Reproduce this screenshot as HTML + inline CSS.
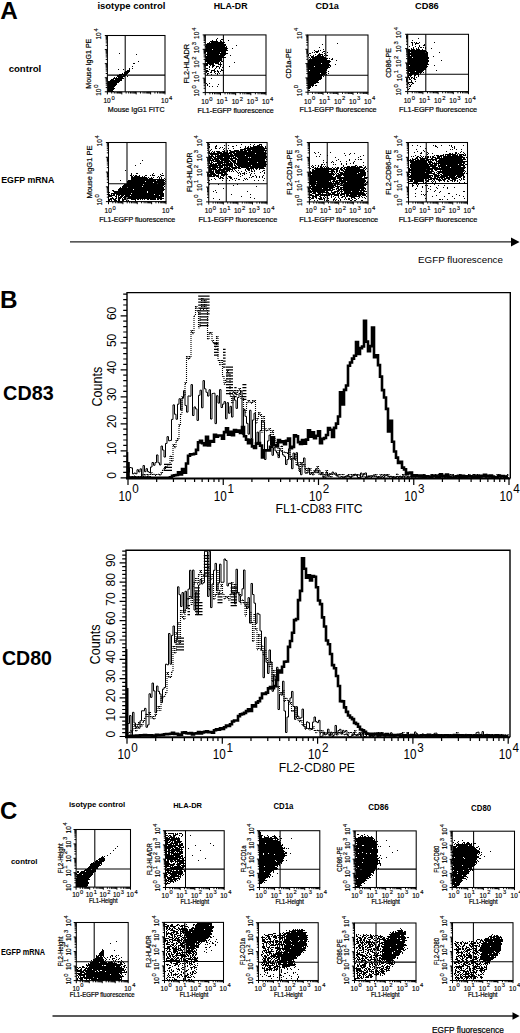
<!DOCTYPE html>
<html><head><meta charset="utf-8"><style>
html,body{margin:0;padding:0;background:#fff;}
svg{display:block;font-family:"Liberation Sans",sans-serif;}
</style></head><body>
<svg width="520" height="1033" viewBox="0 0 520 1033">
<rect width="520" height="1033" fill="#fff"/>
<text x="0.3" y="18.75" font-size="24.3" font-weight="bold">A</text>
<text x="97.4" y="8.5" font-size="9.7" font-weight="bold" textLength="68" lengthAdjust="spacingAndGlyphs">isotype control</text>
<text x="213.75" y="8.7" font-size="9.7" font-weight="bold" textLength="33.75" lengthAdjust="spacingAndGlyphs">HLA-DR</text>
<text x="315.5" y="8.7" font-size="9.7" font-weight="bold" textLength="23.25" lengthAdjust="spacingAndGlyphs">CD1a</text>
<text x="415" y="8.7" font-size="9.7" font-weight="bold" textLength="23.75" lengthAdjust="spacingAndGlyphs">CD86</text>
<text x="8.65" y="72.1" font-size="9.7" font-weight="bold" textLength="32.6" lengthAdjust="spacingAndGlyphs">control</text>
<text x="1.25" y="182.5" font-size="9.5" font-weight="bold" textLength="53" lengthAdjust="spacingAndGlyphs">EGFP mRNA</text>
<path d="M119 53h1v1h-1zM136 54h1v1h-1zM138 61h1v1h-1zM133 63h2v1h-2zM132 66h1v1h-1zM129 68h1v1h-1zM132 68h1v1h-1zM118 69h1v1h-1zM123 69h1v1h-1zM129 69h1v1h-1zM127 70h3v1h-3zM125 71h5v1h-5zM124 72h5v1h-5zM122 73h1v1h-1zM124 73h4v1h-4zM119 74h8v1h-8zM117 75h5v1h-5zM123 75h3v1h-3zM117 76h8v1h-8zM127 76h1v1h-1zM114 77h1v1h-1zM116 77h1v1h-1zM118 77h5v1h-5zM113 78h11v1h-11zM111 79h3v1h-3zM115 79h7v1h-7zM110 80h12v1h-12zM108 81h12v1h-12zM108 82h11v1h-11zM108 83h9v1h-9zM108 84h9v1h-9zM108 85h8v1h-8zM108 86h7v1h-7zM108 87h6v1h-6zM108 88h7v1h-7zM108 89h6v1h-6zM108 90h5v1h-5zM108 91h6v1h-6z" fill="#000"/>
<rect x="107.4" y="35.5" width="57.6" height="56.3" fill="none" stroke="#000" stroke-width="1.05"/>
<line x1="125.2" y1="35.5" x2="125.2" y2="91.8" stroke="#000" stroke-width="1.05" />
<line x1="107.4" y1="75.1" x2="165" y2="75.1" stroke="#000" stroke-width="1.05" />
<path d="M107.4 91.8v2.6M111.73 91.8v1.7M114.27 91.8v1.7M116.07 91.8v1.7M117.47 91.8v1.7M118.61 91.8v1.7M119.57 91.8v1.7M120.4 91.8v1.7M121.14 91.8v1.7M121.8 91.8v2.6M126.13 91.8v1.7M128.67 91.8v1.7M130.47 91.8v1.7M131.87 91.8v1.7M133.01 91.8v1.7M133.97 91.8v1.7M134.8 91.8v1.7M135.54 91.8v1.7M136.2 91.8v2.6M140.53 91.8v1.7M143.07 91.8v1.7M144.87 91.8v1.7M146.27 91.8v1.7M147.41 91.8v1.7M148.37 91.8v1.7M149.2 91.8v1.7M149.94 91.8v1.7M150.6 91.8v2.6M154.93 91.8v1.7M157.47 91.8v1.7M159.27 91.8v1.7M160.67 91.8v1.7M161.81 91.8v1.7M162.77 91.8v1.7M163.6 91.8v1.7M164.34 91.8v1.7M165 91.8v2.6M107.4 91.8h-2.6M107.4 87.56h-1.7M107.4 85.08h-1.7M107.4 83.33h-1.7M107.4 81.96h-1.7M107.4 80.85h-1.7M107.4 79.91h-1.7M107.4 79.09h-1.7M107.4 78.37h-1.7M107.4 77.72h-2.6M107.4 73.49h-1.7M107.4 71.01h-1.7M107.4 69.25h-1.7M107.4 67.89h-1.7M107.4 66.77h-1.7M107.4 65.83h-1.7M107.4 65.01h-1.7M107.4 64.29h-1.7M107.4 63.65h-2.6M107.4 59.41h-1.7M107.4 56.93h-1.7M107.4 55.18h-1.7M107.4 53.81h-1.7M107.4 52.7h-1.7M107.4 51.76h-1.7M107.4 50.94h-1.7M107.4 50.22h-1.7M107.4 49.58h-2.6M107.4 45.34h-1.7M107.4 42.86h-1.7M107.4 41.1h-1.7M107.4 39.74h-1.7M107.4 38.62h-1.7M107.4 37.68h-1.7M107.4 36.86h-1.7M107.4 36.14h-1.7M107.4 35.5h-2.6" stroke="#000" stroke-width="1.0" fill="none"/>
<text x="103.42" y="103.3" font-size="6.5" stroke="#000" stroke-width="0.15">10<tspan dx="0.78" dy="-3.38" font-size="5.85">0</tspan></text>
<text x="161.02" y="103.3" font-size="6.5" stroke="#000" stroke-width="0.15">10<tspan dx="0.78" dy="-3.38" font-size="5.85">4</tspan></text>
<text x="101.2" y="95.78" font-size="6.5" transform="rotate(-90 101.2 95.78)" stroke="#000" stroke-width="0.15">10<tspan dx="0.78" dy="-3.38" font-size="5.85">0</tspan></text>
<text x="101.2" y="39.48" font-size="6.5" transform="rotate(-90 101.2 39.48)" stroke="#000" stroke-width="0.15">10<tspan dx="0.78" dy="-3.38" font-size="5.85">4</tspan></text>
<text x="136.2" y="111.8" font-size="7.5" textLength="56.7" lengthAdjust="spacingAndGlyphs" text-anchor="middle" stroke="#000" stroke-width="0.2">Mouse IgG1 FITC</text>
<text x="90.8" y="63.65" font-size="7.5" textLength="50" lengthAdjust="spacingAndGlyphs" transform="rotate(-90 90.8 63.65)" text-anchor="middle" stroke="#000" stroke-width="0.2">Mouse IgG1 PE</text>
<path d="M217 38h1v1h-1zM216 39h1v1h-1zM221 39h2v1h-2zM212 40h1v1h-1zM216 40h1v1h-1zM220 40h1v1h-1zM228 40h1v1h-1zM210 41h8v1h-8zM220 41h2v1h-2zM209 42h1v1h-1zM211 42h14v1h-14zM207 43h17v1h-17zM206 44h20v1h-20zM206 45h20v1h-20zM236 45h1v1h-1zM205 46h20v1h-20zM226 46h1v1h-1zM206 47h21v1h-21zM206 48h22v1h-22zM232 48h1v1h-1zM205 49h7v1h-7zM213 49h14v1h-14zM205 50h23v1h-23zM205 51h21v1h-21zM205 52h1v1h-1zM207 52h13v1h-13zM221 52h5v1h-5zM207 53h21v1h-21zM206 54h13v1h-13zM220 54h6v1h-6zM205 55h1v1h-1zM207 55h18v1h-18zM230 55h1v1h-1zM205 56h19v1h-19zM205 57h21v1h-21zM206 58h16v1h-16zM205 59h17v1h-17zM205 60h17v1h-17zM223 60h1v1h-1zM205 61h15v1h-15zM221 61h2v1h-2zM207 62h12v1h-12zM220 62h1v1h-1zM234 62h1v1h-1zM205 63h9v1h-9zM215 63h4v1h-4zM220 63h1v1h-1zM206 64h2v1h-2zM209 64h5v1h-5zM218 64h4v1h-4zM205 65h3v1h-3zM210 65h1v1h-1zM212 65h3v1h-3zM220 65h1v1h-1zM223 65h1v1h-1zM209 66h1v1h-1zM212 66h2v1h-2zM216 66h3v1h-3zM220 66h1v1h-1zM223 66h1v1h-1zM229 66h1v1h-1zM209 67h1v1h-1zM212 67h1v1h-1zM216 67h1v1h-1zM219 67h1v1h-1zM222 67h1v1h-1zM206 68h2v1h-2zM215 68h1v1h-1zM219 68h1v1h-1zM209 69h1v1h-1zM214 69h1v1h-1zM221 69h1v1h-1zM206 70h2v1h-2zM211 70h4v1h-4zM217 70h1v1h-1zM221 70h3v1h-3zM206 71h3v1h-3zM211 71h1v1h-1zM214 71h2v1h-2zM217 71h2v1h-2zM220 71h1v1h-1zM206 72h1v1h-1zM210 72h2v1h-2zM214 72h1v1h-1zM218 72h1v1h-1zM223 72h1v1h-1zM207 73h2v1h-2zM215 73h1v1h-1zM217 73h1v1h-1zM219 73h1v1h-1zM207 74h1v1h-1zM211 74h1v1h-1zM217 74h1v1h-1zM211 78h1v1h-1zM206 83h1v1h-1zM209 83h1v1h-1zM207 84h1v1h-1zM218 84h1v1h-1zM207 85h1v1h-1zM209 86h1v1h-1zM212 86h1v1h-1zM217 86h1v1h-1z" fill="#000"/>
<rect x="205.3" y="34.9" width="60.7" height="57.7" fill="none" stroke="#000" stroke-width="1.05"/>
<line x1="223.4" y1="34.9" x2="223.4" y2="92.6" stroke="#000" stroke-width="1.05" />
<line x1="205.3" y1="75.3" x2="266" y2="75.3" stroke="#000" stroke-width="1.05" />
<path d="M205.3 92.6v2.6M209.87 92.6v1.7M212.54 92.6v1.7M214.44 92.6v1.7M215.91 92.6v1.7M217.11 92.6v1.7M218.12 92.6v1.7M219 92.6v1.7M219.78 92.6v1.7M220.48 92.6v2.6M225.04 92.6v1.7M227.72 92.6v1.7M229.61 92.6v1.7M231.08 92.6v1.7M232.28 92.6v1.7M233.3 92.6v1.7M234.18 92.6v1.7M234.96 92.6v1.7M235.65 92.6v2.6M240.22 92.6v1.7M242.89 92.6v1.7M244.79 92.6v1.7M246.26 92.6v1.7M247.46 92.6v1.7M248.47 92.6v1.7M249.35 92.6v1.7M250.13 92.6v1.7M250.82 92.6v2.6M255.39 92.6v1.7M258.07 92.6v1.7M259.96 92.6v1.7M261.43 92.6v1.7M262.63 92.6v1.7M263.65 92.6v1.7M264.53 92.6v1.7M265.31 92.6v1.7M266 92.6v2.6M205.3 92.6h-2.6M205.3 88.26h-1.7M205.3 85.72h-1.7M205.3 83.92h-1.7M205.3 82.52h-1.7M205.3 81.38h-1.7M205.3 80.41h-1.7M205.3 79.57h-1.7M205.3 78.84h-1.7M205.3 78.17h-2.6M205.3 73.83h-1.7M205.3 71.29h-1.7M205.3 69.49h-1.7M205.3 68.09h-1.7M205.3 66.95h-1.7M205.3 65.98h-1.7M205.3 65.15h-1.7M205.3 64.41h-1.7M205.3 63.75h-2.6M205.3 59.41h-1.7M205.3 56.87h-1.7M205.3 55.07h-1.7M205.3 53.67h-1.7M205.3 52.53h-1.7M205.3 51.56h-1.7M205.3 50.72h-1.7M205.3 49.99h-1.7M205.3 49.32h-2.6M205.3 44.98h-1.7M205.3 42.44h-1.7M205.3 40.64h-1.7M205.3 39.24h-1.7M205.3 38.1h-1.7M205.3 37.13h-1.7M205.3 36.3h-1.7M205.3 35.56h-1.7M205.3 34.9h-2.6" stroke="#000" stroke-width="1.0" fill="none"/>
<text x="201.32" y="104.1" font-size="6.5" stroke="#000" stroke-width="0.15">10<tspan dx="0.78" dy="-3.38" font-size="5.85">0</tspan></text>
<text x="216.5" y="104.1" font-size="6.5" stroke="#000" stroke-width="0.15">10<tspan dx="0.78" dy="-3.38" font-size="5.85">1</tspan></text>
<text x="231.67" y="104.1" font-size="6.5" stroke="#000" stroke-width="0.15">10<tspan dx="0.78" dy="-3.38" font-size="5.85">2</tspan></text>
<text x="246.85" y="104.1" font-size="6.5" stroke="#000" stroke-width="0.15">10<tspan dx="0.78" dy="-3.38" font-size="5.85">3</tspan></text>
<text x="262.02" y="104.1" font-size="6.5" stroke="#000" stroke-width="0.15">10<tspan dx="0.78" dy="-3.38" font-size="5.85">4</tspan></text>
<text x="199.1" y="96.58" font-size="6.5" transform="rotate(-90 199.1 96.58)" stroke="#000" stroke-width="0.15">10<tspan dx="0.78" dy="-3.38" font-size="5.85">0</tspan></text>
<text x="199.1" y="82.15" font-size="6.5" transform="rotate(-90 199.1 82.15)" stroke="#000" stroke-width="0.15">10<tspan dx="0.78" dy="-3.38" font-size="5.85">1</tspan></text>
<text x="199.1" y="67.73" font-size="6.5" transform="rotate(-90 199.1 67.73)" stroke="#000" stroke-width="0.15">10<tspan dx="0.78" dy="-3.38" font-size="5.85">2</tspan></text>
<text x="199.1" y="53.3" font-size="6.5" transform="rotate(-90 199.1 53.3)" stroke="#000" stroke-width="0.15">10<tspan dx="0.78" dy="-3.38" font-size="5.85">3</tspan></text>
<text x="199.1" y="38.88" font-size="6.5" transform="rotate(-90 199.1 38.88)" stroke="#000" stroke-width="0.15">10<tspan dx="0.78" dy="-3.38" font-size="5.85">4</tspan></text>
<text x="235.65" y="112.6" font-size="7.5" textLength="76.2" lengthAdjust="spacingAndGlyphs" text-anchor="middle" stroke="#000" stroke-width="0.2">FL1-EGFP fluorescence</text>
<text x="188.7" y="63.75" font-size="7.5" textLength="39.6" lengthAdjust="spacingAndGlyphs" transform="rotate(-90 188.7 63.75)" text-anchor="middle" stroke="#000" stroke-width="0.2">FL2-HLADR</text>
<path d="M337 43h1v1h-1zM322 44h1v1h-1zM319 47h1v1h-1zM323 49h1v1h-1zM314 50h1v1h-1zM318 50h1v1h-1zM320 50h1v1h-1zM315 51h4v1h-4zM323 51h2v1h-2zM312 52h1v1h-1zM314 52h1v1h-1zM316 52h2v1h-2zM322 52h1v1h-1zM327 52h1v1h-1zM309 53h2v1h-2zM319 53h1v1h-1zM324 53h1v1h-1zM308 54h1v1h-1zM315 54h1v1h-1zM318 54h5v1h-5zM325 54h1v1h-1zM308 55h1v1h-1zM310 55h1v1h-1zM313 55h1v1h-1zM317 55h4v1h-4zM322 55h1v1h-1zM324 55h1v1h-1zM326 55h2v1h-2zM311 56h3v1h-3zM315 56h9v1h-9zM309 57h1v1h-1zM311 57h15v1h-15zM310 58h1v1h-1zM312 58h16v1h-16zM329 58h1v1h-1zM332 58h1v1h-1zM309 59h18v1h-18zM331 59h2v1h-2zM308 60h22v1h-22zM336 60h1v1h-1zM308 61h23v1h-23zM308 62h22v1h-22zM308 63h13v1h-13zM322 63h7v1h-7zM308 64h22v1h-22zM335 64h1v1h-1zM308 65h23v1h-23zM308 66h6v1h-6zM315 66h14v1h-14zM330 66h1v1h-1zM308 67h22v1h-22zM308 68h20v1h-20zM308 69h19v1h-19zM308 70h1v1h-1zM310 70h17v1h-17zM308 71h18v1h-18zM328 71h1v1h-1zM308 72h19v1h-19zM308 73h12v1h-12zM321 73h5v1h-5zM328 73h1v1h-1zM308 74h17v1h-17zM326 74h1v1h-1zM308 75h15v1h-15zM308 76h14v1h-14zM323 76h1v1h-1zM308 77h14v1h-14zM308 78h14v1h-14zM308 79h13v1h-13zM308 80h11v1h-11zM308 81h10v1h-10zM308 82h11v1h-11zM308 83h8v1h-8zM308 84h6v1h-6zM308 85h6v1h-6zM315 85h2v1h-2zM308 86h3v1h-3zM312 86h1v1h-1zM308 87h3v1h-3zM308 88h2v1h-2zM308 90h2v1h-2z" fill="#000"/>
<rect x="308" y="35" width="60" height="57.2" fill="none" stroke="#000" stroke-width="1.05"/>
<line x1="325.8" y1="35" x2="325.8" y2="92.2" stroke="#000" stroke-width="1.05" />
<line x1="308" y1="75.3" x2="368" y2="75.3" stroke="#000" stroke-width="1.05" />
<path d="M308 92.2v2.6M312.52 92.2v1.7M315.16 92.2v1.7M317.03 92.2v1.7M318.48 92.2v1.7M319.67 92.2v1.7M320.68 92.2v1.7M321.55 92.2v1.7M322.31 92.2v1.7M323 92.2v2.6M327.52 92.2v1.7M330.16 92.2v1.7M332.03 92.2v1.7M333.48 92.2v1.7M334.67 92.2v1.7M335.68 92.2v1.7M336.55 92.2v1.7M337.31 92.2v1.7M338 92.2v2.6M342.52 92.2v1.7M345.16 92.2v1.7M347.03 92.2v1.7M348.48 92.2v1.7M349.67 92.2v1.7M350.68 92.2v1.7M351.55 92.2v1.7M352.31 92.2v1.7M353 92.2v2.6M357.52 92.2v1.7M360.16 92.2v1.7M362.03 92.2v1.7M363.48 92.2v1.7M364.67 92.2v1.7M365.68 92.2v1.7M366.55 92.2v1.7M367.31 92.2v1.7M368 92.2v2.6M308 92.2h-2.6M308 87.9h-1.7M308 85.38h-1.7M308 83.59h-1.7M308 82.2h-1.7M308 81.07h-1.7M308 80.12h-1.7M308 79.29h-1.7M308 78.55h-1.7M308 77.9h-2.6M308 73.6h-1.7M308 71.08h-1.7M308 69.29h-1.7M308 67.9h-1.7M308 66.77h-1.7M308 65.82h-1.7M308 64.99h-1.7M308 64.25h-1.7M308 63.6h-2.6M308 59.3h-1.7M308 56.78h-1.7M308 54.99h-1.7M308 53.6h-1.7M308 52.47h-1.7M308 51.52h-1.7M308 50.69h-1.7M308 49.95h-1.7M308 49.3h-2.6M308 45h-1.7M308 42.48h-1.7M308 40.69h-1.7M308 39.3h-1.7M308 38.17h-1.7M308 37.22h-1.7M308 36.39h-1.7M308 35.65h-1.7M308 35h-2.6" stroke="#000" stroke-width="1.0" fill="none"/>
<text x="304.02" y="103.7" font-size="6.5" stroke="#000" stroke-width="0.15">10<tspan dx="0.78" dy="-3.38" font-size="5.85">0</tspan></text>
<text x="319.02" y="103.7" font-size="6.5" stroke="#000" stroke-width="0.15">10<tspan dx="0.78" dy="-3.38" font-size="5.85">1</tspan></text>
<text x="334.02" y="103.7" font-size="6.5" stroke="#000" stroke-width="0.15">10<tspan dx="0.78" dy="-3.38" font-size="5.85">2</tspan></text>
<text x="349.02" y="103.7" font-size="6.5" stroke="#000" stroke-width="0.15">10<tspan dx="0.78" dy="-3.38" font-size="5.85">3</tspan></text>
<text x="364.02" y="103.7" font-size="6.5" stroke="#000" stroke-width="0.15">10<tspan dx="0.78" dy="-3.38" font-size="5.85">4</tspan></text>
<text x="301.8" y="96.18" font-size="6.5" transform="rotate(-90 301.8 96.18)" stroke="#000" stroke-width="0.15">10<tspan dx="0.78" dy="-3.38" font-size="5.85">0</tspan></text>
<text x="301.8" y="38.98" font-size="6.5" transform="rotate(-90 301.8 38.98)" stroke="#000" stroke-width="0.15">10<tspan dx="0.78" dy="-3.38" font-size="5.85">4</tspan></text>
<text x="338" y="112.2" font-size="7.5" textLength="77" lengthAdjust="spacingAndGlyphs" text-anchor="middle" stroke="#000" stroke-width="0.2">FL1-EGFP fluorescence</text>
<text x="291.4" y="63.6" font-size="7.5" textLength="30" lengthAdjust="spacingAndGlyphs" transform="rotate(-90 291.4 63.6)" text-anchor="middle" stroke="#000" stroke-width="0.2">CD1a-PE</text>
<path d="M418 38h1v1h-1zM412 40h1v1h-1zM411 42h2v1h-2zM414 42h1v1h-1zM416 42h1v1h-1zM419 42h1v1h-1zM434 42h1v1h-1zM412 43h1v1h-1zM415 43h4v1h-4zM412 44h1v1h-1zM415 44h1v1h-1zM424 44h1v1h-1zM412 45h1v1h-1zM419 45h1v1h-1zM423 45h2v1h-2zM409 46h1v1h-1zM415 46h1v1h-1zM419 46h1v1h-1zM413 47h1v1h-1zM418 47h1v1h-1zM420 47h2v1h-2zM423 47h1v1h-1zM425 47h1v1h-1zM411 48h1v1h-1zM413 48h1v1h-1zM416 48h1v1h-1zM418 48h1v1h-1zM425 48h1v1h-1zM431 48h1v1h-1zM408 49h2v1h-2zM411 49h4v1h-4zM416 49h4v1h-4zM422 49h1v1h-1zM408 50h18v1h-18zM408 51h19v1h-19zM408 52h2v1h-2zM411 52h14v1h-14zM426 52h2v1h-2zM439 52h1v1h-1zM408 53h20v1h-20zM408 54h20v1h-20zM408 55h2v1h-2zM411 55h17v1h-17zM408 56h20v1h-20zM433 56h1v1h-1zM408 57h4v1h-4zM413 57h16v1h-16zM408 58h21v1h-21zM408 59h20v1h-20zM408 60h21v1h-21zM441 60h1v1h-1zM408 61h21v1h-21zM408 62h20v1h-20zM408 63h20v1h-20zM408 64h21v1h-21zM408 65h1v1h-1zM410 65h17v1h-17zM434 65h1v1h-1zM408 66h20v1h-20zM408 67h19v1h-19zM408 68h18v1h-18zM408 69h18v1h-18zM408 70h16v1h-16zM436 70h1v1h-1zM408 71h7v1h-7zM416 71h7v1h-7zM408 72h1v1h-1zM410 72h12v1h-12zM423 72h1v1h-1zM408 73h11v1h-11zM420 73h1v1h-1zM409 74h4v1h-4zM414 74h5v1h-5zM408 75h4v1h-4zM414 75h2v1h-2zM418 75h1v1h-1zM408 76h1v1h-1zM410 76h1v1h-1zM414 76h1v1h-1zM418 76h1v1h-1zM408 77h2v1h-2zM411 77h2v1h-2zM414 77h1v1h-1zM416 77h1v1h-1zM409 78h1v1h-1zM411 78h1v1h-1zM413 78h2v1h-2zM409 79h2v1h-2zM414 79h2v1h-2zM411 80h1v1h-1zM411 81h1v1h-1zM415 81h1v1h-1zM408 82h5v1h-5zM408 83h1v1h-1zM412 83h2v1h-2zM409 84h1v1h-1zM411 84h1v1h-1zM410 85h1v1h-1zM409 86h2v1h-2zM409 88h1v1h-1zM408 89h1v1h-1z" fill="#000"/>
<rect x="407.7" y="34.3" width="60.8" height="57.3" fill="none" stroke="#000" stroke-width="1.05"/>
<line x1="425.8" y1="34.3" x2="425.8" y2="91.6" stroke="#000" stroke-width="1.05" />
<line x1="407.7" y1="74.3" x2="468.5" y2="74.3" stroke="#000" stroke-width="1.05" />
<path d="M407.7 91.6v2.6M412.28 91.6v1.7M414.95 91.6v1.7M416.85 91.6v1.7M418.32 91.6v1.7M419.53 91.6v1.7M420.55 91.6v1.7M421.43 91.6v1.7M422.2 91.6v1.7M422.9 91.6v2.6M427.48 91.6v1.7M430.15 91.6v1.7M432.05 91.6v1.7M433.52 91.6v1.7M434.73 91.6v1.7M435.75 91.6v1.7M436.63 91.6v1.7M437.4 91.6v1.7M438.1 91.6v2.6M442.68 91.6v1.7M445.35 91.6v1.7M447.25 91.6v1.7M448.72 91.6v1.7M449.93 91.6v1.7M450.95 91.6v1.7M451.83 91.6v1.7M452.6 91.6v1.7M453.3 91.6v2.6M457.88 91.6v1.7M460.55 91.6v1.7M462.45 91.6v1.7M463.92 91.6v1.7M465.13 91.6v1.7M466.15 91.6v1.7M467.03 91.6v1.7M467.8 91.6v1.7M468.5 91.6v2.6M407.7 91.6h-2.6M407.7 87.29h-1.7M407.7 84.77h-1.7M407.7 82.98h-1.7M407.7 81.59h-1.7M407.7 80.45h-1.7M407.7 79.49h-1.7M407.7 78.66h-1.7M407.7 77.93h-1.7M407.7 77.27h-2.6M407.7 72.96h-1.7M407.7 70.44h-1.7M407.7 68.65h-1.7M407.7 67.26h-1.7M407.7 66.13h-1.7M407.7 65.17h-1.7M407.7 64.34h-1.7M407.7 63.61h-1.7M407.7 62.95h-2.6M407.7 58.64h-1.7M407.7 56.12h-1.7M407.7 54.33h-1.7M407.7 52.94h-1.7M407.7 51.8h-1.7M407.7 50.84h-1.7M407.7 50.01h-1.7M407.7 49.28h-1.7M407.7 48.62h-2.6M407.7 44.31h-1.7M407.7 41.79h-1.7M407.7 40h-1.7M407.7 38.61h-1.7M407.7 37.48h-1.7M407.7 36.52h-1.7M407.7 35.69h-1.7M407.7 34.96h-1.7M407.7 34.3h-2.6" stroke="#000" stroke-width="1.0" fill="none"/>
<text x="403.72" y="103.1" font-size="6.5" stroke="#000" stroke-width="0.15">10<tspan dx="0.78" dy="-3.38" font-size="5.85">0</tspan></text>
<text x="418.92" y="103.1" font-size="6.5" stroke="#000" stroke-width="0.15">10<tspan dx="0.78" dy="-3.38" font-size="5.85">1</tspan></text>
<text x="434.12" y="103.1" font-size="6.5" stroke="#000" stroke-width="0.15">10<tspan dx="0.78" dy="-3.38" font-size="5.85">2</tspan></text>
<text x="449.32" y="103.1" font-size="6.5" stroke="#000" stroke-width="0.15">10<tspan dx="0.78" dy="-3.38" font-size="5.85">3</tspan></text>
<text x="464.52" y="103.1" font-size="6.5" stroke="#000" stroke-width="0.15">10<tspan dx="0.78" dy="-3.38" font-size="5.85">4</tspan></text>
<text x="401.5" y="95.58" font-size="6.5" transform="rotate(-90 401.5 95.58)" stroke="#000" stroke-width="0.15">10<tspan dx="0.78" dy="-3.38" font-size="5.85">0</tspan></text>
<text x="401.5" y="81.25" font-size="6.5" transform="rotate(-90 401.5 81.25)" stroke="#000" stroke-width="0.15">10<tspan dx="0.78" dy="-3.38" font-size="5.85">1</tspan></text>
<text x="401.5" y="66.93" font-size="6.5" transform="rotate(-90 401.5 66.93)" stroke="#000" stroke-width="0.15">10<tspan dx="0.78" dy="-3.38" font-size="5.85">2</tspan></text>
<text x="401.5" y="52.6" font-size="6.5" transform="rotate(-90 401.5 52.6)" stroke="#000" stroke-width="0.15">10<tspan dx="0.78" dy="-3.38" font-size="5.85">3</tspan></text>
<text x="401.5" y="38.28" font-size="6.5" transform="rotate(-90 401.5 38.28)" stroke="#000" stroke-width="0.15">10<tspan dx="0.78" dy="-3.38" font-size="5.85">4</tspan></text>
<text x="438.1" y="111.6" font-size="7.5" textLength="78" lengthAdjust="spacingAndGlyphs" text-anchor="middle" stroke="#000" stroke-width="0.2">FL1-EGFP fluorescence</text>
<text x="391.1" y="62.95" font-size="7.5" textLength="29.5" lengthAdjust="spacingAndGlyphs" transform="rotate(-90 391.1 62.95)" text-anchor="middle" stroke="#000" stroke-width="0.2">CD86-PE</text>
<path d="M142 160h1v1h-1zM140 163h1v1h-1zM135 165h1v1h-1zM125 170h1v1h-1zM131 173h1v1h-1zM136 173h2v1h-2zM153 173h1v1h-1zM162 173h1v1h-1zM131 174h1v1h-1zM152 174h1v1h-1zM160 174h1v1h-1zM130 175h2v1h-2zM133 175h1v1h-1zM135 175h2v1h-2zM139 175h1v1h-1zM145 175h2v1h-2zM150 175h1v1h-1zM152 175h3v1h-3zM161 175h3v1h-3zM131 176h2v1h-2zM134 176h6v1h-6zM142 176h1v1h-1zM144 176h1v1h-1zM158 176h1v1h-1zM160 176h1v1h-1zM131 177h16v1h-16zM148 177h1v1h-1zM151 177h1v1h-1zM153 177h1v1h-1zM157 177h1v1h-1zM159 177h1v1h-1zM161 177h1v1h-1zM131 178h17v1h-17zM149 178h4v1h-4zM159 178h1v1h-1zM161 178h1v1h-1zM164 178h1v1h-1zM131 179h33v1h-33zM165 179h1v1h-1zM120 180h1v1h-1zM128 180h28v1h-28zM157 180h8v1h-8zM127 181h18v1h-18zM146 181h18v1h-18zM165 181h1v1h-1zM127 182h26v1h-26zM154 182h11v1h-11zM127 183h30v1h-30zM158 183h6v1h-6zM124 184h19v1h-19zM144 184h21v1h-21zM123 185h41v1h-41zM122 186h20v1h-20zM143 186h20v1h-20zM164 186h1v1h-1zM120 187h1v1h-1zM122 187h5v1h-5zM128 187h36v1h-36zM119 188h45v1h-45zM118 189h15v1h-15zM134 189h31v1h-31zM112 190h2v1h-2zM118 190h46v1h-46zM113 191h34v1h-34zM148 191h15v1h-15zM109 192h1v1h-1zM114 192h33v1h-33zM148 192h15v1h-15zM111 193h20v1h-20zM132 193h32v1h-32zM109 194h1v1h-1zM111 194h1v1h-1zM113 194h2v1h-2zM116 194h38v1h-38zM155 194h9v1h-9zM109 195h6v1h-6zM116 195h1v1h-1zM118 195h2v1h-2zM121 195h3v1h-3zM125 195h5v1h-5zM131 195h28v1h-28zM160 195h4v1h-4zM109 196h3v1h-3zM115 196h2v1h-2zM118 196h1v1h-1zM120 196h3v1h-3zM124 196h40v1h-40zM112 197h1v1h-1zM116 197h1v1h-1zM118 197h4v1h-4zM123 197h3v1h-3zM128 197h34v1h-34zM110 198h4v1h-4zM115 198h2v1h-2zM118 198h3v1h-3zM122 198h1v1h-1zM124 198h2v1h-2zM127 198h29v1h-29zM157 198h7v1h-7zM109 199h3v1h-3zM113 199h3v1h-3zM118 199h2v1h-2zM122 199h4v1h-4zM131 199h5v1h-5zM137 199h2v1h-2zM140 199h1v1h-1zM142 199h1v1h-1zM144 199h1v1h-1zM147 199h2v1h-2zM150 199h6v1h-6zM157 199h2v1h-2zM160 199h2v1h-2zM109 200h1v1h-1zM111 200h1v1h-1zM114 200h3v1h-3zM118 200h2v1h-2zM122 200h2v1h-2zM126 200h1v1h-1zM128 200h1v1h-1zM135 200h1v1h-1zM110 201h1v1h-1zM118 201h2v1h-2zM121 201h1v1h-1zM129 201h1v1h-1z" fill="#000"/>
<rect x="108.5" y="142.5" width="57.5" height="59.1" fill="none" stroke="#000" stroke-width="1.05"/>
<line x1="127" y1="142.5" x2="127" y2="201.6" stroke="#000" stroke-width="1.05" />
<line x1="108.5" y1="183.75" x2="166" y2="183.75" stroke="#000" stroke-width="1.05" />
<path d="M108.5 201.6v2.6M112.83 201.6v1.7M115.36 201.6v1.7M117.15 201.6v1.7M118.55 201.6v1.7M119.69 201.6v1.7M120.65 201.6v1.7M121.48 201.6v1.7M122.22 201.6v1.7M122.88 201.6v2.6M127.2 201.6v1.7M129.73 201.6v1.7M131.53 201.6v1.7M132.92 201.6v1.7M134.06 201.6v1.7M135.02 201.6v1.7M135.86 201.6v1.7M136.59 201.6v1.7M137.25 201.6v2.6M141.58 201.6v1.7M144.11 201.6v1.7M145.9 201.6v1.7M147.3 201.6v1.7M148.44 201.6v1.7M149.4 201.6v1.7M150.23 201.6v1.7M150.97 201.6v1.7M151.62 201.6v2.6M155.95 201.6v1.7M158.48 201.6v1.7M160.28 201.6v1.7M161.67 201.6v1.7M162.81 201.6v1.7M163.77 201.6v1.7M164.61 201.6v1.7M165.34 201.6v1.7M166 201.6v2.6M108.5 201.6h-2.6M108.5 197.15h-1.7M108.5 194.55h-1.7M108.5 192.7h-1.7M108.5 191.27h-1.7M108.5 190.1h-1.7M108.5 189.11h-1.7M108.5 188.26h-1.7M108.5 187.5h-1.7M108.5 186.82h-2.6M108.5 182.38h-1.7M108.5 179.78h-1.7M108.5 177.93h-1.7M108.5 176.5h-1.7M108.5 175.33h-1.7M108.5 174.34h-1.7M108.5 173.48h-1.7M108.5 172.73h-1.7M108.5 172.05h-2.6M108.5 167.6h-1.7M108.5 165h-1.7M108.5 163.15h-1.7M108.5 161.72h-1.7M108.5 160.55h-1.7M108.5 159.56h-1.7M108.5 158.71h-1.7M108.5 157.95h-1.7M108.5 157.28h-2.6M108.5 152.83h-1.7M108.5 150.23h-1.7M108.5 148.38h-1.7M108.5 146.95h-1.7M108.5 145.78h-1.7M108.5 144.79h-1.7M108.5 143.93h-1.7M108.5 143.18h-1.7M108.5 142.5h-2.6" stroke="#000" stroke-width="1.0" fill="none"/>
<text x="104.52" y="213.1" font-size="6.5" stroke="#000" stroke-width="0.15">10<tspan dx="0.78" dy="-3.38" font-size="5.85">0</tspan></text>
<text x="162.02" y="213.1" font-size="6.5" stroke="#000" stroke-width="0.15">10<tspan dx="0.78" dy="-3.38" font-size="5.85">4</tspan></text>
<text x="102.3" y="205.58" font-size="6.5" transform="rotate(-90 102.3 205.58)" stroke="#000" stroke-width="0.15">10<tspan dx="0.78" dy="-3.38" font-size="5.85">0</tspan></text>
<text x="102.3" y="146.48" font-size="6.5" transform="rotate(-90 102.3 146.48)" stroke="#000" stroke-width="0.15">10<tspan dx="0.78" dy="-3.38" font-size="5.85">4</tspan></text>
<text x="137.25" y="221.6" font-size="7.5" textLength="76" lengthAdjust="spacingAndGlyphs" text-anchor="middle" stroke="#000" stroke-width="0.2">FL1-EGFP fluorescence</text>
<text x="91.9" y="172.05" font-size="7.5" textLength="53" lengthAdjust="spacingAndGlyphs" transform="rotate(-90 91.9 172.05)" text-anchor="middle" stroke="#000" stroke-width="0.2">Mouse IgG1 PE</text>
<path d="M209 144h1v1h-1zM241 144h1v1h-1zM250 144h1v1h-1zM254 144h1v1h-1zM259 144h3v1h-3zM216 145h1v1h-1zM224 145h1v1h-1zM228 145h1v1h-1zM236 145h1v1h-1zM253 145h1v1h-1zM257 145h3v1h-3zM261 145h1v1h-1zM209 146h1v1h-1zM215 146h2v1h-2zM232 146h2v1h-2zM245 146h1v1h-1zM248 146h1v1h-1zM250 146h1v1h-1zM253 146h10v1h-10zM265 146h1v1h-1zM209 147h1v1h-1zM215 147h1v1h-1zM220 147h1v1h-1zM222 147h1v1h-1zM240 147h1v1h-1zM245 147h1v1h-1zM247 147h2v1h-2zM250 147h14v1h-14zM265 147h1v1h-1zM215 148h2v1h-2zM219 148h1v1h-1zM224 148h1v1h-1zM228 148h1v1h-1zM233 148h1v1h-1zM244 148h23v1h-23zM211 149h1v1h-1zM223 149h1v1h-1zM240 149h6v1h-6zM247 149h18v1h-18zM210 150h1v1h-1zM224 150h1v1h-1zM227 150h1v1h-1zM229 150h2v1h-2zM234 150h5v1h-5zM240 150h3v1h-3zM244 150h7v1h-7zM252 150h15v1h-15zM209 151h1v1h-1zM212 151h1v1h-1zM214 151h1v1h-1zM216 151h4v1h-4zM222 151h3v1h-3zM227 151h1v1h-1zM230 151h17v1h-17zM248 151h16v1h-16zM265 151h1v1h-1zM209 152h1v1h-1zM211 152h1v1h-1zM213 152h2v1h-2zM217 152h5v1h-5zM223 152h5v1h-5zM229 152h6v1h-6zM236 152h30v1h-30zM209 153h23v1h-23zM233 153h22v1h-22zM256 153h11v1h-11zM210 154h9v1h-9zM220 154h9v1h-9zM230 154h3v1h-3zM234 154h32v1h-32zM209 155h1v1h-1zM211 155h2v1h-2zM215 155h1v1h-1zM217 155h28v1h-28zM246 155h20v1h-20zM209 156h5v1h-5zM215 156h19v1h-19zM235 156h32v1h-32zM209 157h3v1h-3zM213 157h3v1h-3zM217 157h6v1h-6zM224 157h6v1h-6zM231 157h1v1h-1zM233 157h3v1h-3zM237 157h11v1h-11zM249 157h1v1h-1zM251 157h16v1h-16zM209 158h4v1h-4zM214 158h23v1h-23zM238 158h28v1h-28zM209 159h2v1h-2zM212 159h7v1h-7zM220 159h9v1h-9zM230 159h3v1h-3zM235 159h30v1h-30zM266 159h1v1h-1zM209 160h5v1h-5zM215 160h5v1h-5zM221 160h9v1h-9zM231 160h5v1h-5zM237 160h28v1h-28zM209 161h1v1h-1zM211 161h1v1h-1zM213 161h10v1h-10zM224 161h7v1h-7zM232 161h4v1h-4zM237 161h11v1h-11zM249 161h18v1h-18zM209 162h1v1h-1zM211 162h2v1h-2zM217 162h12v1h-12zM230 162h2v1h-2zM233 162h3v1h-3zM237 162h20v1h-20zM258 162h8v1h-8zM209 163h3v1h-3zM213 163h1v1h-1zM215 163h8v1h-8zM224 163h1v1h-1zM226 163h7v1h-7zM234 163h32v1h-32zM210 164h7v1h-7zM218 164h3v1h-3zM222 164h11v1h-11zM234 164h1v1h-1zM236 164h31v1h-31zM209 165h24v1h-24zM234 165h2v1h-2zM237 165h14v1h-14zM252 165h14v1h-14zM209 166h9v1h-9zM219 166h4v1h-4zM224 166h1v1h-1zM226 166h2v1h-2zM229 166h4v1h-4zM235 166h2v1h-2zM238 166h28v1h-28zM209 167h2v1h-2zM212 167h11v1h-11zM224 167h2v1h-2zM227 167h3v1h-3zM231 167h9v1h-9zM241 167h8v1h-8zM250 167h14v1h-14zM209 168h7v1h-7zM217 168h1v1h-1zM219 168h2v1h-2zM223 168h8v1h-8zM232 168h5v1h-5zM238 168h3v1h-3zM246 168h8v1h-8zM255 168h3v1h-3zM259 168h6v1h-6zM209 169h8v1h-8zM218 169h15v1h-15zM234 169h1v1h-1zM245 169h1v1h-1zM247 169h3v1h-3zM251 169h1v1h-1zM253 169h1v1h-1zM256 169h1v1h-1zM259 169h1v1h-1zM209 170h3v1h-3zM213 170h1v1h-1zM215 170h10v1h-10zM226 170h4v1h-4zM232 170h1v1h-1zM235 170h1v1h-1zM238 170h1v1h-1zM245 170h1v1h-1zM248 170h2v1h-2zM251 170h1v1h-1zM254 170h1v1h-1zM263 170h2v1h-2zM209 171h5v1h-5zM215 171h5v1h-5zM221 171h7v1h-7zM229 171h1v1h-1zM231 171h1v1h-1zM233 171h1v1h-1zM236 171h1v1h-1zM241 171h1v1h-1zM246 171h1v1h-1zM251 171h2v1h-2zM254 171h1v1h-1zM262 171h1v1h-1zM209 172h5v1h-5zM215 172h11v1h-11zM237 172h1v1h-1zM239 172h1v1h-1zM244 172h1v1h-1zM249 172h1v1h-1zM260 172h1v1h-1zM264 172h1v1h-1zM210 173h5v1h-5zM216 173h7v1h-7zM224 173h3v1h-3zM238 173h1v1h-1zM240 173h1v1h-1zM242 173h3v1h-3zM246 173h1v1h-1zM251 173h1v1h-1zM254 173h1v1h-1zM264 173h1v1h-1zM209 174h7v1h-7zM218 174h1v1h-1zM221 174h7v1h-7zM240 174h1v1h-1zM244 174h1v1h-1zM250 174h1v1h-1zM209 175h3v1h-3zM213 175h6v1h-6zM221 175h4v1h-4zM226 175h1v1h-1zM238 175h1v1h-1zM242 175h1v1h-1zM250 175h1v1h-1zM255 175h1v1h-1zM263 175h1v1h-1zM209 176h6v1h-6zM216 176h3v1h-3zM220 176h1v1h-1zM223 176h1v1h-1zM228 176h3v1h-3zM240 176h1v1h-1zM252 176h2v1h-2zM256 176h1v1h-1zM259 176h1v1h-1zM262 176h1v1h-1zM218 177h1v1h-1zM220 177h3v1h-3zM226 177h1v1h-1zM229 177h3v1h-3zM249 177h1v1h-1zM251 177h1v1h-1zM256 177h1v1h-1zM259 177h1v1h-1zM262 177h1v1h-1zM214 178h1v1h-1zM219 178h2v1h-2zM222 178h2v1h-2zM227 178h1v1h-1zM230 178h2v1h-2zM234 178h1v1h-1zM236 178h1v1h-1zM244 178h1v1h-1zM246 178h1v1h-1zM264 178h1v1h-1zM211 179h1v1h-1zM215 179h1v1h-1zM232 179h1v1h-1zM238 179h2v1h-2zM245 179h1v1h-1zM247 179h1v1h-1zM209 180h1v1h-1zM222 180h1v1h-1zM226 180h1v1h-1zM229 180h1v1h-1zM235 180h1v1h-1zM243 180h1v1h-1zM254 180h1v1h-1zM258 180h1v1h-1zM263 180h1v1h-1zM209 184h1v1h-1zM218 184h1v1h-1zM237 184h1v1h-1zM233 185h1v1h-1zM256 186h1v1h-1zM223 188h1v1h-1zM215 190h1v1h-1zM213 191h1v1h-1zM247 191h1v1h-1zM216 192h1v1h-1zM231 194h1v1h-1zM250 194h1v1h-1zM241 196h1v1h-1zM250 197h1v1h-1zM213 198h1v1h-1zM254 198h1v1h-1zM219 199h1v1h-1z" fill="#000"/>
<rect x="208.75" y="142.5" width="58.35" height="59.4" fill="none" stroke="#000" stroke-width="1.05"/>
<line x1="226.25" y1="142.5" x2="226.25" y2="201.9" stroke="#000" stroke-width="1.05" />
<line x1="208.75" y1="183.75" x2="267.1" y2="183.75" stroke="#000" stroke-width="1.05" />
<path d="M208.75 201.9v2.6M213.14 201.9v1.7M215.71 201.9v1.7M217.53 201.9v1.7M218.95 201.9v1.7M220.1 201.9v1.7M221.08 201.9v1.7M221.92 201.9v1.7M222.67 201.9v1.7M223.34 201.9v2.6M227.73 201.9v1.7M230.3 201.9v1.7M232.12 201.9v1.7M233.53 201.9v1.7M234.69 201.9v1.7M235.67 201.9v1.7M236.51 201.9v1.7M237.26 201.9v1.7M237.93 201.9v2.6M242.32 201.9v1.7M244.89 201.9v1.7M246.71 201.9v1.7M248.12 201.9v1.7M249.28 201.9v1.7M250.25 201.9v1.7M251.1 201.9v1.7M251.85 201.9v1.7M252.51 201.9v2.6M256.9 201.9v1.7M259.47 201.9v1.7M261.3 201.9v1.7M262.71 201.9v1.7M263.86 201.9v1.7M264.84 201.9v1.7M265.69 201.9v1.7M266.43 201.9v1.7M267.1 201.9v2.6M208.75 201.9h-2.6M208.75 197.43h-1.7M208.75 194.81h-1.7M208.75 192.96h-1.7M208.75 191.52h-1.7M208.75 190.34h-1.7M208.75 189.35h-1.7M208.75 188.49h-1.7M208.75 187.73h-1.7M208.75 187.05h-2.6M208.75 182.58h-1.7M208.75 179.96h-1.7M208.75 178.11h-1.7M208.75 176.67h-1.7M208.75 175.49h-1.7M208.75 174.5h-1.7M208.75 173.64h-1.7M208.75 172.88h-1.7M208.75 172.2h-2.6M208.75 167.73h-1.7M208.75 165.11h-1.7M208.75 163.26h-1.7M208.75 161.82h-1.7M208.75 160.64h-1.7M208.75 159.65h-1.7M208.75 158.79h-1.7M208.75 158.03h-1.7M208.75 157.35h-2.6M208.75 152.88h-1.7M208.75 150.26h-1.7M208.75 148.41h-1.7M208.75 146.97h-1.7M208.75 145.79h-1.7M208.75 144.8h-1.7M208.75 143.94h-1.7M208.75 143.18h-1.7M208.75 142.5h-2.6" stroke="#000" stroke-width="1.0" fill="none"/>
<text x="204.77" y="213.4" font-size="6.5" stroke="#000" stroke-width="0.15">10<tspan dx="0.78" dy="-3.38" font-size="5.85">0</tspan></text>
<text x="219.36" y="213.4" font-size="6.5" stroke="#000" stroke-width="0.15">10<tspan dx="0.78" dy="-3.38" font-size="5.85">1</tspan></text>
<text x="233.95" y="213.4" font-size="6.5" stroke="#000" stroke-width="0.15">10<tspan dx="0.78" dy="-3.38" font-size="5.85">2</tspan></text>
<text x="248.54" y="213.4" font-size="6.5" stroke="#000" stroke-width="0.15">10<tspan dx="0.78" dy="-3.38" font-size="5.85">3</tspan></text>
<text x="263.12" y="213.4" font-size="6.5" stroke="#000" stroke-width="0.15">10<tspan dx="0.78" dy="-3.38" font-size="5.85">4</tspan></text>
<text x="201.85" y="205.88" font-size="6.5" transform="rotate(-90 201.85 205.88)" stroke="#000" stroke-width="0.15">10<tspan dx="0.78" dy="-3.38" font-size="5.85">0</tspan></text>
<text x="201.85" y="191.03" font-size="6.5" transform="rotate(-90 201.85 191.03)" stroke="#000" stroke-width="0.15">10<tspan dx="0.78" dy="-3.38" font-size="5.85">1</tspan></text>
<text x="201.85" y="176.18" font-size="6.5" transform="rotate(-90 201.85 176.18)" stroke="#000" stroke-width="0.15">10<tspan dx="0.78" dy="-3.38" font-size="5.85">2</tspan></text>
<text x="201.85" y="161.33" font-size="6.5" transform="rotate(-90 201.85 161.33)" stroke="#000" stroke-width="0.15">10<tspan dx="0.78" dy="-3.38" font-size="5.85">3</tspan></text>
<text x="201.85" y="146.48" font-size="6.5" transform="rotate(-90 201.85 146.48)" stroke="#000" stroke-width="0.15">10<tspan dx="0.78" dy="-3.38" font-size="5.85">4</tspan></text>
<text x="237.93" y="221.9" font-size="7.5" textLength="78.75" lengthAdjust="spacingAndGlyphs" text-anchor="middle" stroke="#000" stroke-width="0.2">FL1-EGFP fluorescence</text>
<text x="191.65" y="172.2" font-size="7.5" textLength="39.6" lengthAdjust="spacingAndGlyphs" transform="rotate(-90 191.65 172.2)" text-anchor="middle" stroke="#000" stroke-width="0.2">FL2-HLA/DR</text>
<path d="M314 152h1v1h-1zM318 152h1v1h-1zM330 152h1v1h-1zM315 153h1v1h-1zM344 153h1v1h-1zM350 153h1v1h-1zM354 153h1v1h-1zM320 154h1v1h-1zM349 154h1v1h-1zM327 155h1v1h-1zM345 155h1v1h-1zM363 155h1v1h-1zM316 156h1v1h-1zM319 156h1v1h-1zM360 156h1v1h-1zM335 157h1v1h-1zM358 157h1v1h-1zM338 159h1v1h-1zM349 159h1v1h-1zM355 159h1v1h-1zM358 159h1v1h-1zM360 159h2v1h-2zM323 160h1v1h-1zM336 160h1v1h-1zM349 160h1v1h-1zM332 161h1v1h-1zM340 161h1v1h-1zM346 161h1v1h-1zM354 161h1v1h-1zM323 162h1v1h-1zM326 162h1v1h-1zM331 162h1v1h-1zM333 162h1v1h-1zM353 162h1v1h-1zM363 162h1v1h-1zM341 163h1v1h-1zM346 163h1v1h-1zM350 163h1v1h-1zM353 163h1v1h-1zM321 164h2v1h-2zM324 164h1v1h-1zM333 164h1v1h-1zM335 164h1v1h-1zM341 164h1v1h-1zM346 164h1v1h-1zM312 165h1v1h-1zM315 165h1v1h-1zM318 165h1v1h-1zM321 165h1v1h-1zM343 165h1v1h-1zM355 165h2v1h-2zM363 165h1v1h-1zM311 166h1v1h-1zM313 166h1v1h-1zM318 166h1v1h-1zM320 166h2v1h-2zM323 166h1v1h-1zM325 166h1v1h-1zM327 166h1v1h-1zM343 166h1v1h-1zM347 166h3v1h-3zM351 166h5v1h-5zM357 166h1v1h-1zM359 166h3v1h-3zM365 166h1v1h-1zM312 167h2v1h-2zM315 167h1v1h-1zM317 167h1v1h-1zM320 167h3v1h-3zM324 167h1v1h-1zM326 167h1v1h-1zM328 167h1v1h-1zM332 167h1v1h-1zM335 167h1v1h-1zM337 167h2v1h-2zM341 167h2v1h-2zM344 167h19v1h-19zM364 167h2v1h-2zM310 168h1v1h-1zM314 168h18v1h-18zM333 168h2v1h-2zM336 168h3v1h-3zM340 168h2v1h-2zM343 168h2v1h-2zM346 168h14v1h-14zM363 168h2v1h-2zM366 168h1v1h-1zM312 169h2v1h-2zM315 169h23v1h-23zM340 169h3v1h-3zM344 169h20v1h-20zM365 169h1v1h-1zM312 170h17v1h-17zM331 170h3v1h-3zM336 170h2v1h-2zM339 170h1v1h-1zM341 170h3v1h-3zM345 170h20v1h-20zM310 171h1v1h-1zM312 171h23v1h-23zM336 171h2v1h-2zM339 171h1v1h-1zM343 171h22v1h-22zM367 171h1v1h-1zM310 172h19v1h-19zM331 172h2v1h-2zM334 172h1v1h-1zM336 172h1v1h-1zM339 172h4v1h-4zM344 172h15v1h-15zM360 172h6v1h-6zM310 173h24v1h-24zM335 173h1v1h-1zM337 173h2v1h-2zM340 173h17v1h-17zM358 173h8v1h-8zM310 174h1v1h-1zM312 174h23v1h-23zM336 174h1v1h-1zM338 174h28v1h-28zM310 175h22v1h-22zM333 175h1v1h-1zM336 175h6v1h-6zM343 175h23v1h-23zM310 176h23v1h-23zM335 176h6v1h-6zM344 176h19v1h-19zM364 176h1v1h-1zM310 177h26v1h-26zM337 177h25v1h-25zM364 177h4v1h-4zM310 178h26v1h-26zM337 178h30v1h-30zM310 179h26v1h-26zM339 179h3v1h-3zM343 179h22v1h-22zM310 180h21v1h-21zM333 180h2v1h-2zM336 180h30v1h-30zM310 181h6v1h-6zM317 181h12v1h-12zM330 181h1v1h-1zM332 181h6v1h-6zM339 181h7v1h-7zM347 181h19v1h-19zM367 181h1v1h-1zM310 182h22v1h-22zM333 182h1v1h-1zM335 182h5v1h-5zM341 182h24v1h-24zM366 182h2v1h-2zM310 183h6v1h-6zM317 183h22v1h-22zM340 183h3v1h-3zM344 183h20v1h-20zM365 183h1v1h-1zM310 184h23v1h-23zM334 184h2v1h-2zM337 184h3v1h-3zM341 184h1v1h-1zM343 184h24v1h-24zM311 185h4v1h-4zM316 185h20v1h-20zM337 185h1v1h-1zM340 185h26v1h-26zM310 186h24v1h-24zM335 186h5v1h-5zM343 186h21v1h-21zM310 187h1v1h-1zM312 187h23v1h-23zM337 187h2v1h-2zM340 187h25v1h-25zM310 188h12v1h-12zM323 188h5v1h-5zM329 188h4v1h-4zM336 188h3v1h-3zM340 188h2v1h-2zM343 188h23v1h-23zM311 189h20v1h-20zM332 189h3v1h-3zM336 189h1v1h-1zM338 189h22v1h-22zM361 189h3v1h-3zM365 189h1v1h-1zM310 190h1v1h-1zM312 190h21v1h-21zM337 190h3v1h-3zM341 190h1v1h-1zM343 190h22v1h-22zM310 191h15v1h-15zM326 191h2v1h-2zM331 191h1v1h-1zM334 191h5v1h-5zM340 191h3v1h-3zM344 191h7v1h-7zM352 191h7v1h-7zM360 191h2v1h-2zM363 191h4v1h-4zM310 192h2v1h-2zM313 192h3v1h-3zM317 192h12v1h-12zM331 192h5v1h-5zM337 192h1v1h-1zM339 192h1v1h-1zM341 192h1v1h-1zM344 192h20v1h-20zM312 193h4v1h-4zM318 193h3v1h-3zM322 193h1v1h-1zM326 193h1v1h-1zM328 193h3v1h-3zM332 193h3v1h-3zM337 193h3v1h-3zM341 193h24v1h-24zM366 193h1v1h-1zM310 194h2v1h-2zM315 194h12v1h-12zM328 194h11v1h-11zM340 194h5v1h-5zM346 194h3v1h-3zM350 194h16v1h-16zM310 195h4v1h-4zM315 195h4v1h-4zM320 195h10v1h-10zM331 195h1v1h-1zM334 195h5v1h-5zM340 195h2v1h-2zM344 195h1v1h-1zM346 195h11v1h-11zM358 195h3v1h-3zM362 195h4v1h-4zM312 196h5v1h-5zM319 196h2v1h-2zM324 196h1v1h-1zM327 196h1v1h-1zM331 196h1v1h-1zM333 196h1v1h-1zM338 196h1v1h-1zM342 196h3v1h-3zM346 196h2v1h-2zM349 196h11v1h-11zM361 196h1v1h-1zM366 196h1v1h-1zM310 197h1v1h-1zM312 197h2v1h-2zM315 197h2v1h-2zM320 197h2v1h-2zM323 197h1v1h-1zM325 197h1v1h-1zM327 197h1v1h-1zM331 197h1v1h-1zM335 197h1v1h-1zM338 197h1v1h-1zM341 197h2v1h-2zM345 197h1v1h-1zM351 197h4v1h-4zM359 197h1v1h-1zM362 197h1v1h-1zM364 197h1v1h-1zM311 198h3v1h-3zM316 198h1v1h-1zM318 198h4v1h-4zM323 198h2v1h-2zM327 198h2v1h-2zM334 198h1v1h-1zM339 198h1v1h-1zM345 198h1v1h-1zM348 198h2v1h-2zM351 198h1v1h-1zM354 198h2v1h-2zM358 198h1v1h-1zM365 198h1v1h-1zM310 199h1v1h-1zM319 199h4v1h-4zM324 199h1v1h-1zM333 199h2v1h-2zM336 199h1v1h-1zM340 199h1v1h-1zM344 199h1v1h-1zM346 199h1v1h-1zM348 199h2v1h-2zM352 199h1v1h-1zM356 199h1v1h-1zM314 200h1v1h-1zM317 200h1v1h-1zM324 200h1v1h-1zM326 200h1v1h-1zM328 200h1v1h-1zM333 200h1v1h-1zM335 200h1v1h-1zM338 200h1v1h-1zM340 200h1v1h-1zM350 200h2v1h-2zM354 200h2v1h-2zM361 200h2v1h-2z" fill="#000"/>
<rect x="309.4" y="142.5" width="58.6" height="59.4" fill="none" stroke="#000" stroke-width="1.05"/>
<line x1="327.25" y1="142.5" x2="327.25" y2="201.9" stroke="#000" stroke-width="1.05" />
<line x1="309.4" y1="184" x2="368" y2="184" stroke="#000" stroke-width="1.05" />
<path d="M309.4 201.9v2.6M313.81 201.9v1.7M316.39 201.9v1.7M318.22 201.9v1.7M319.64 201.9v1.7M320.8 201.9v1.7M321.78 201.9v1.7M322.63 201.9v1.7M323.38 201.9v1.7M324.05 201.9v2.6M328.46 201.9v1.7M331.04 201.9v1.7M332.87 201.9v1.7M334.29 201.9v1.7M335.45 201.9v1.7M336.43 201.9v1.7M337.28 201.9v1.7M338.03 201.9v1.7M338.7 201.9v2.6M343.11 201.9v1.7M345.69 201.9v1.7M347.52 201.9v1.7M348.94 201.9v1.7M350.1 201.9v1.7M351.08 201.9v1.7M351.93 201.9v1.7M352.68 201.9v1.7M353.35 201.9v2.6M357.76 201.9v1.7M360.34 201.9v1.7M362.17 201.9v1.7M363.59 201.9v1.7M364.75 201.9v1.7M365.73 201.9v1.7M366.58 201.9v1.7M367.33 201.9v1.7M368 201.9v2.6M309.4 201.9h-2.6M309.4 197.43h-1.7M309.4 194.81h-1.7M309.4 192.96h-1.7M309.4 191.52h-1.7M309.4 190.34h-1.7M309.4 189.35h-1.7M309.4 188.49h-1.7M309.4 187.73h-1.7M309.4 187.05h-2.6M309.4 182.58h-1.7M309.4 179.96h-1.7M309.4 178.11h-1.7M309.4 176.67h-1.7M309.4 175.49h-1.7M309.4 174.5h-1.7M309.4 173.64h-1.7M309.4 172.88h-1.7M309.4 172.2h-2.6M309.4 167.73h-1.7M309.4 165.11h-1.7M309.4 163.26h-1.7M309.4 161.82h-1.7M309.4 160.64h-1.7M309.4 159.65h-1.7M309.4 158.79h-1.7M309.4 158.03h-1.7M309.4 157.35h-2.6M309.4 152.88h-1.7M309.4 150.26h-1.7M309.4 148.41h-1.7M309.4 146.97h-1.7M309.4 145.79h-1.7M309.4 144.8h-1.7M309.4 143.94h-1.7M309.4 143.18h-1.7M309.4 142.5h-2.6" stroke="#000" stroke-width="1.0" fill="none"/>
<text x="305.42" y="213.4" font-size="6.5" stroke="#000" stroke-width="0.15">10<tspan dx="0.78" dy="-3.38" font-size="5.85">0</tspan></text>
<text x="320.07" y="213.4" font-size="6.5" stroke="#000" stroke-width="0.15">10<tspan dx="0.78" dy="-3.38" font-size="5.85">1</tspan></text>
<text x="334.72" y="213.4" font-size="6.5" stroke="#000" stroke-width="0.15">10<tspan dx="0.78" dy="-3.38" font-size="5.85">2</tspan></text>
<text x="349.37" y="213.4" font-size="6.5" stroke="#000" stroke-width="0.15">10<tspan dx="0.78" dy="-3.38" font-size="5.85">3</tspan></text>
<text x="364.02" y="213.4" font-size="6.5" stroke="#000" stroke-width="0.15">10<tspan dx="0.78" dy="-3.38" font-size="5.85">4</tspan></text>
<text x="302.5" y="205.88" font-size="6.5" transform="rotate(-90 302.5 205.88)" stroke="#000" stroke-width="0.15">10<tspan dx="0.78" dy="-3.38" font-size="5.85">0</tspan></text>
<text x="302.5" y="191.03" font-size="6.5" transform="rotate(-90 302.5 191.03)" stroke="#000" stroke-width="0.15">10<tspan dx="0.78" dy="-3.38" font-size="5.85">1</tspan></text>
<text x="302.5" y="176.18" font-size="6.5" transform="rotate(-90 302.5 176.18)" stroke="#000" stroke-width="0.15">10<tspan dx="0.78" dy="-3.38" font-size="5.85">2</tspan></text>
<text x="302.5" y="161.33" font-size="6.5" transform="rotate(-90 302.5 161.33)" stroke="#000" stroke-width="0.15">10<tspan dx="0.78" dy="-3.38" font-size="5.85">3</tspan></text>
<text x="302.5" y="146.48" font-size="6.5" transform="rotate(-90 302.5 146.48)" stroke="#000" stroke-width="0.15">10<tspan dx="0.78" dy="-3.38" font-size="5.85">4</tspan></text>
<text x="338.7" y="221.9" font-size="7.5" textLength="79" lengthAdjust="spacingAndGlyphs" text-anchor="middle" stroke="#000" stroke-width="0.2">FL1-EGFP fluorescence</text>
<text x="292.3" y="172.2" font-size="7.5" textLength="45" lengthAdjust="spacingAndGlyphs" transform="rotate(-90 292.3 172.2)" text-anchor="middle" stroke="#000" stroke-width="0.2">FL2-CD1a-PE</text>
<path d="M412 145h1v1h-1zM417 145h1v1h-1zM433 145h1v1h-1zM435 145h1v1h-1zM441 145h1v1h-1zM449 145h1v1h-1zM451 145h1v1h-1zM463 145h1v1h-1zM420 146h1v1h-1zM435 146h2v1h-2zM451 146h1v1h-1zM454 146h1v1h-1zM437 147h1v1h-1zM452 147h1v1h-1zM454 147h1v1h-1zM425 148h1v1h-1zM454 148h1v1h-1zM416 149h1v1h-1zM450 149h1v1h-1zM452 149h1v1h-1zM456 149h1v1h-1zM461 149h1v1h-1zM423 150h1v1h-1zM417 151h1v1h-1zM424 151h1v1h-1zM446 151h1v1h-1zM461 151h1v1h-1zM414 152h1v1h-1zM421 152h1v1h-1zM427 152h1v1h-1zM455 152h2v1h-2zM460 152h1v1h-1zM463 152h1v1h-1zM420 153h2v1h-2zM428 153h1v1h-1zM432 153h1v1h-1zM449 153h2v1h-2zM452 153h1v1h-1zM455 153h2v1h-2zM458 153h1v1h-1zM464 153h1v1h-1zM427 154h1v1h-1zM443 154h1v1h-1zM445 154h11v1h-11zM457 154h1v1h-1zM459 154h5v1h-5zM465 154h1v1h-1zM415 155h1v1h-1zM420 155h1v1h-1zM434 155h1v1h-1zM436 155h3v1h-3zM440 155h4v1h-4zM445 155h1v1h-1zM447 155h4v1h-4zM452 155h6v1h-6zM459 155h3v1h-3zM463 155h3v1h-3zM411 156h1v1h-1zM413 156h1v1h-1zM417 156h2v1h-2zM421 156h1v1h-1zM423 156h1v1h-1zM425 156h1v1h-1zM427 156h2v1h-2zM430 156h1v1h-1zM432 156h2v1h-2zM437 156h5v1h-5zM443 156h20v1h-20zM416 157h2v1h-2zM419 157h2v1h-2zM422 157h1v1h-1zM425 157h1v1h-1zM427 157h2v1h-2zM430 157h1v1h-1zM432 157h4v1h-4zM437 157h3v1h-3zM441 157h1v1h-1zM443 157h22v1h-22zM466 157h1v1h-1zM412 158h1v1h-1zM415 158h3v1h-3zM420 158h8v1h-8zM431 158h2v1h-2zM435 158h27v1h-27zM463 158h2v1h-2zM410 159h1v1h-1zM412 159h4v1h-4zM417 159h2v1h-2zM420 159h5v1h-5zM426 159h11v1h-11zM439 159h27v1h-27zM409 160h5v1h-5zM415 160h14v1h-14zM430 160h1v1h-1zM432 160h2v1h-2zM435 160h2v1h-2zM438 160h25v1h-25zM410 161h17v1h-17zM428 161h4v1h-4zM436 161h31v1h-31zM410 162h17v1h-17zM428 162h5v1h-5zM434 162h1v1h-1zM436 162h1v1h-1zM438 162h27v1h-27zM411 163h17v1h-17zM429 163h2v1h-2zM432 163h30v1h-30zM463 163h2v1h-2zM410 164h23v1h-23zM434 164h3v1h-3zM438 164h1v1h-1zM440 164h18v1h-18zM459 164h5v1h-5zM465 164h2v1h-2zM410 165h19v1h-19zM430 165h7v1h-7zM438 165h8v1h-8zM447 165h18v1h-18zM410 166h26v1h-26zM438 166h23v1h-23zM463 166h2v1h-2zM410 167h20v1h-20zM432 167h6v1h-6zM439 167h1v1h-1zM441 167h9v1h-9zM451 167h15v1h-15zM409 168h1v1h-1zM411 168h54v1h-54zM409 169h17v1h-17zM427 169h6v1h-6zM434 169h30v1h-30zM409 170h21v1h-21zM431 170h2v1h-2zM435 170h2v1h-2zM440 170h1v1h-1zM442 170h23v1h-23zM409 171h1v1h-1zM411 171h23v1h-23zM437 171h27v1h-27zM465 171h1v1h-1zM409 172h16v1h-16zM426 172h6v1h-6zM434 172h1v1h-1zM436 172h1v1h-1zM438 172h25v1h-25zM464 172h1v1h-1zM411 173h24v1h-24zM437 173h3v1h-3zM442 173h23v1h-23zM466 173h1v1h-1zM409 174h1v1h-1zM411 174h18v1h-18zM433 174h4v1h-4zM438 174h1v1h-1zM440 174h2v1h-2zM443 174h21v1h-21zM410 175h23v1h-23zM434 175h6v1h-6zM441 175h15v1h-15zM457 175h7v1h-7zM409 176h22v1h-22zM432 176h1v1h-1zM434 176h5v1h-5zM440 176h8v1h-8zM449 176h6v1h-6zM456 176h6v1h-6zM463 176h2v1h-2zM409 177h23v1h-23zM434 177h2v1h-2zM437 177h8v1h-8zM446 177h11v1h-11zM458 177h3v1h-3zM463 177h2v1h-2zM411 178h18v1h-18zM430 178h8v1h-8zM439 178h1v1h-1zM441 178h2v1h-2zM444 178h6v1h-6zM451 178h7v1h-7zM461 178h1v1h-1zM463 178h1v1h-1zM409 179h15v1h-15zM425 179h1v1h-1zM428 179h4v1h-4zM433 179h2v1h-2zM436 179h5v1h-5zM442 179h4v1h-4zM448 179h2v1h-2zM452 179h4v1h-4zM459 179h1v1h-1zM461 179h1v1h-1zM463 179h2v1h-2zM410 180h3v1h-3zM414 180h10v1h-10zM425 180h1v1h-1zM427 180h2v1h-2zM432 180h1v1h-1zM434 180h1v1h-1zM438 180h4v1h-4zM443 180h2v1h-2zM447 180h1v1h-1zM450 180h3v1h-3zM454 180h2v1h-2zM457 180h1v1h-1zM460 180h1v1h-1zM409 181h4v1h-4zM414 181h10v1h-10zM426 181h3v1h-3zM431 181h1v1h-1zM433 181h1v1h-1zM435 181h1v1h-1zM439 181h1v1h-1zM444 181h1v1h-1zM447 181h2v1h-2zM452 181h1v1h-1zM454 181h1v1h-1zM457 181h1v1h-1zM413 182h5v1h-5zM423 182h1v1h-1zM425 182h1v1h-1zM432 182h1v1h-1zM435 182h1v1h-1zM459 182h1v1h-1zM464 182h1v1h-1zM413 183h1v1h-1zM415 183h2v1h-2zM419 183h2v1h-2zM425 183h1v1h-1zM433 183h1v1h-1zM445 183h1v1h-1zM462 183h1v1h-1zM412 184h1v1h-1zM416 184h1v1h-1zM418 184h1v1h-1zM434 184h1v1h-1zM412 185h2v1h-2zM417 185h1v1h-1zM425 185h1v1h-1zM427 185h1v1h-1zM438 185h1v1h-1zM444 185h1v1h-1zM412 186h1v1h-1zM417 186h1v1h-1zM422 186h1v1h-1zM430 186h1v1h-1zM422 187h1v1h-1zM436 187h1v1h-1zM443 187h1v1h-1zM447 187h1v1h-1zM454 187h1v1h-1zM416 188h1v1h-1zM428 188h1v1h-1zM437 188h1v1h-1zM447 188h1v1h-1zM415 189h1v1h-1zM430 189h1v1h-1zM435 190h1v1h-1zM421 191h1v1h-1zM427 191h1v1h-1zM434 191h1v1h-1zM440 191h1v1h-1zM463 191h2v1h-2zM439 192h1v1h-1zM415 193h1v1h-1zM448 193h2v1h-2zM421 194h1v1h-1zM423 194h1v1h-1zM425 194h1v1h-1zM456 194h1v1h-1zM424 195h1v1h-1zM436 195h1v1h-1zM459 195h1v1h-1zM415 196h1v1h-1zM432 196h1v1h-1zM444 196h1v1h-1zM452 196h1v1h-1zM463 196h1v1h-1zM425 198h1v1h-1zM454 198h1v1h-1zM464 198h1v1h-1zM439 199h2v1h-2zM442 199h1v1h-1zM447 199h1v1h-1z" fill="#000"/>
<rect x="408.5" y="142.5" width="59" height="59.4" fill="none" stroke="#000" stroke-width="1.05"/>
<line x1="426.25" y1="142.5" x2="426.25" y2="201.9" stroke="#000" stroke-width="1.05" />
<line x1="408.5" y1="183.5" x2="467.5" y2="183.5" stroke="#000" stroke-width="1.05" />
<path d="M408.5 201.9v2.6M412.94 201.9v1.7M415.54 201.9v1.7M417.38 201.9v1.7M418.81 201.9v1.7M419.98 201.9v1.7M420.97 201.9v1.7M421.82 201.9v1.7M422.58 201.9v1.7M423.25 201.9v2.6M427.69 201.9v1.7M430.29 201.9v1.7M432.13 201.9v1.7M433.56 201.9v1.7M434.73 201.9v1.7M435.72 201.9v1.7M436.57 201.9v1.7M437.33 201.9v1.7M438 201.9v2.6M442.44 201.9v1.7M445.04 201.9v1.7M446.88 201.9v1.7M448.31 201.9v1.7M449.48 201.9v1.7M450.47 201.9v1.7M451.32 201.9v1.7M452.08 201.9v1.7M452.75 201.9v2.6M457.19 201.9v1.7M459.79 201.9v1.7M461.63 201.9v1.7M463.06 201.9v1.7M464.23 201.9v1.7M465.22 201.9v1.7M466.07 201.9v1.7M466.83 201.9v1.7M467.5 201.9v2.6M408.5 201.9h-2.6M408.5 197.43h-1.7M408.5 194.81h-1.7M408.5 192.96h-1.7M408.5 191.52h-1.7M408.5 190.34h-1.7M408.5 189.35h-1.7M408.5 188.49h-1.7M408.5 187.73h-1.7M408.5 187.05h-2.6M408.5 182.58h-1.7M408.5 179.96h-1.7M408.5 178.11h-1.7M408.5 176.67h-1.7M408.5 175.49h-1.7M408.5 174.5h-1.7M408.5 173.64h-1.7M408.5 172.88h-1.7M408.5 172.2h-2.6M408.5 167.73h-1.7M408.5 165.11h-1.7M408.5 163.26h-1.7M408.5 161.82h-1.7M408.5 160.64h-1.7M408.5 159.65h-1.7M408.5 158.79h-1.7M408.5 158.03h-1.7M408.5 157.35h-2.6M408.5 152.88h-1.7M408.5 150.26h-1.7M408.5 148.41h-1.7M408.5 146.97h-1.7M408.5 145.79h-1.7M408.5 144.8h-1.7M408.5 143.94h-1.7M408.5 143.18h-1.7M408.5 142.5h-2.6" stroke="#000" stroke-width="1.0" fill="none"/>
<text x="404.52" y="213.4" font-size="6.5" stroke="#000" stroke-width="0.15">10<tspan dx="0.78" dy="-3.38" font-size="5.85">0</tspan></text>
<text x="419.27" y="213.4" font-size="6.5" stroke="#000" stroke-width="0.15">10<tspan dx="0.78" dy="-3.38" font-size="5.85">1</tspan></text>
<text x="434.02" y="213.4" font-size="6.5" stroke="#000" stroke-width="0.15">10<tspan dx="0.78" dy="-3.38" font-size="5.85">2</tspan></text>
<text x="448.77" y="213.4" font-size="6.5" stroke="#000" stroke-width="0.15">10<tspan dx="0.78" dy="-3.38" font-size="5.85">3</tspan></text>
<text x="463.52" y="213.4" font-size="6.5" stroke="#000" stroke-width="0.15">10<tspan dx="0.78" dy="-3.38" font-size="5.85">4</tspan></text>
<text x="401.6" y="205.88" font-size="6.5" transform="rotate(-90 401.6 205.88)" stroke="#000" stroke-width="0.15">10<tspan dx="0.78" dy="-3.38" font-size="5.85">0</tspan></text>
<text x="401.6" y="191.03" font-size="6.5" transform="rotate(-90 401.6 191.03)" stroke="#000" stroke-width="0.15">10<tspan dx="0.78" dy="-3.38" font-size="5.85">1</tspan></text>
<text x="401.6" y="176.18" font-size="6.5" transform="rotate(-90 401.6 176.18)" stroke="#000" stroke-width="0.15">10<tspan dx="0.78" dy="-3.38" font-size="5.85">2</tspan></text>
<text x="401.6" y="161.33" font-size="6.5" transform="rotate(-90 401.6 161.33)" stroke="#000" stroke-width="0.15">10<tspan dx="0.78" dy="-3.38" font-size="5.85">3</tspan></text>
<text x="401.6" y="146.48" font-size="6.5" transform="rotate(-90 401.6 146.48)" stroke="#000" stroke-width="0.15">10<tspan dx="0.78" dy="-3.38" font-size="5.85">4</tspan></text>
<text x="438" y="221.9" font-size="7.5" textLength="78.75" lengthAdjust="spacingAndGlyphs" text-anchor="middle" stroke="#000" stroke-width="0.2">FL1-EGFP fluorescence</text>
<text x="391.4" y="172.2" font-size="7.5" textLength="45" lengthAdjust="spacingAndGlyphs" transform="rotate(-90 391.4 172.2)" text-anchor="middle" stroke="#000" stroke-width="0.2">FL2-CD86-PE</text>
<line x1="70" y1="241.9" x2="512" y2="241.9" stroke="#222" stroke-width="1.4" />
<path d="M511 237.6L519.6 242L511 246.4z" fill="#000"/>
<text x="418" y="263" font-size="9.9" textLength="85" lengthAdjust="spacingAndGlyphs">EGFP fluorescence</text>
<text x="0" y="308" font-size="24.3" font-weight="bold">B</text>
<text x="3.1" y="400" font-size="20.5" font-weight="bold" textLength="50.6" lengthAdjust="spacingAndGlyphs">CD83</text>
<text x="1.9" y="665" font-size="20.5" font-weight="bold" textLength="50" lengthAdjust="spacingAndGlyphs">CD80</text>
<path d="M127 478.5V292.6H510.3V478.5" stroke="#000" stroke-width="1.4" fill="none"/>
<path d="M126 478.5H510.3" stroke="#000" stroke-width="1.9" fill="none"/>
<path d="M127 477.8h-6.4M127 472.4h-3.8M127 467h-3.8M127 461.6h-3.8M127 456.2h-3.8M127 450.8h-6.4M127 445.4h-3.8M127 440h-3.8M127 434.6h-3.8M127 429.2h-3.8M127 423.8h-6.4M127 418.4h-3.8M127 413h-3.8M127 407.6h-3.8M127 402.2h-3.8M127 396.8h-6.4M127 391.4h-3.8M127 386h-3.8M127 380.6h-3.8M127 375.2h-3.8M127 369.8h-6.4M127 364.4h-3.8M127 359h-3.8M127 353.6h-3.8M127 348.2h-3.8M127 342.8h-6.4M127 337.4h-3.8M127 332h-3.8M127 326.6h-3.8M127 321.2h-3.8M127 315.8h-6.4M127 310.4h-3.8M127 305h-3.8M127 299.6h-3.8M127 294.2h-3.8M128 478.5v6.5M156.67 478.5v3.6M173.45 478.5v3.6M185.35 478.5v3.6M194.58 478.5v3.6M202.12 478.5v3.6M208.5 478.5v3.6M214.02 478.5v3.6M218.89 478.5v3.6M223.25 478.5v6.5M251.92 478.5v3.6M268.7 478.5v3.6M280.6 478.5v3.6M289.83 478.5v3.6M297.37 478.5v3.6M303.75 478.5v3.6M309.27 478.5v3.6M314.14 478.5v3.6M318.5 478.5v6.5M347.17 478.5v3.6M363.95 478.5v3.6M375.85 478.5v3.6M385.08 478.5v3.6M392.62 478.5v3.6M399 478.5v3.6M404.52 478.5v3.6M409.39 478.5v3.6M413.75 478.5v6.5M442.42 478.5v3.6M459.2 478.5v3.6M471.1 478.5v3.6M480.33 478.5v3.6M487.87 478.5v3.6M494.25 478.5v3.6M499.77 478.5v3.6M504.64 478.5v3.6M509 478.5v6.5" stroke="#000" stroke-width="1.2" fill="none"/>
<text x="116.2" y="478.75" font-size="13" textLength="6.7" lengthAdjust="spacingAndGlyphs" transform="rotate(-90 116.2 478.75)">0</text>
<text x="116.2" y="455.1" font-size="13" textLength="13.4" lengthAdjust="spacingAndGlyphs" transform="rotate(-90 116.2 455.1)">10</text>
<text x="116.2" y="428.1" font-size="13" textLength="13.4" lengthAdjust="spacingAndGlyphs" transform="rotate(-90 116.2 428.1)">20</text>
<text x="116.2" y="401.1" font-size="13" textLength="13.4" lengthAdjust="spacingAndGlyphs" transform="rotate(-90 116.2 401.1)">30</text>
<text x="116.2" y="374.1" font-size="13" textLength="13.4" lengthAdjust="spacingAndGlyphs" transform="rotate(-90 116.2 374.1)">40</text>
<text x="116.2" y="347.1" font-size="13" textLength="13.4" lengthAdjust="spacingAndGlyphs" transform="rotate(-90 116.2 347.1)">50</text>
<text x="116.2" y="320.1" font-size="13" textLength="13.4" lengthAdjust="spacingAndGlyphs" transform="rotate(-90 116.2 320.1)">60</text>
<text x="118.5" y="500.5" font-size="14" textLength="13" lengthAdjust="spacingAndGlyphs">10</text>
<text x="132.3" y="493.1" font-size="12.5" textLength="6.5" lengthAdjust="spacingAndGlyphs">0</text>
<text x="213.75" y="500.5" font-size="14" textLength="13" lengthAdjust="spacingAndGlyphs">10</text>
<text x="227.55" y="493.1" font-size="12.5" textLength="6.5" lengthAdjust="spacingAndGlyphs">1</text>
<text x="309" y="500.5" font-size="14" textLength="13" lengthAdjust="spacingAndGlyphs">10</text>
<text x="322.8" y="493.1" font-size="12.5" textLength="6.5" lengthAdjust="spacingAndGlyphs">2</text>
<text x="404.25" y="500.5" font-size="14" textLength="13" lengthAdjust="spacingAndGlyphs">10</text>
<text x="418.05" y="493.1" font-size="12.5" textLength="6.5" lengthAdjust="spacingAndGlyphs">3</text>
<text x="499.5" y="500.5" font-size="14" textLength="13" lengthAdjust="spacingAndGlyphs">10</text>
<text x="513.3" y="493.1" font-size="12.5" textLength="6.5" lengthAdjust="spacingAndGlyphs">4</text>
<text x="101.9" y="406.5" font-size="14.3" textLength="39.7" lengthAdjust="spacingAndGlyphs" transform="rotate(-90 101.9 406.5)">Counts</text>
<path d="M128 472.24H129.5V467.53H131V467.87H132.5V473.88H134V473.05H135.5V473.79H137V469.74H138.5V471.91H140V468.87H141.5V477.8H143V465.59H144.5V471.7H146V468.67H147.5V471.68H149V472.52H150.5V467H152V462.51H153.5V465.27H155V462.64H156.5V454.94H158V462.76H159.5V464.96H161V446.06H162.5V450.06H164V457.04H165.5V443.43H167V436.65H168.5V440.73H170V440.42H171.5V419.4H173V404.88H174.5V414.25H176V419.22H177.5V404.18H179V398.76H180.5V410.13H182V398.24H183.5V390.68H185V405.43H186.5V412.12H188V395.94H189.5V396.19H191V384.61H192.5V415.53H194V406.95H195.5V408.9H197V420.4H198.5V395.32H200V390.2H201.5V407.77H203V380.61H204.5V388.89H206V392.28H207.5V396.06H209V389.77H210.5V419.03H212V393.52H213.5V393.24H215V423.61H216.5V395.72H218V403.11H219.5V389.63H221V407.52H222.5V404.12H224V401.61H225.5V418.77H227V402.67H228.5V413.25H230V406.34H231.5V417.04H233V395.9H234.5V400.19H236V408.39H237.5V397.53H239V393.49H240.5V391H242V434.2H243.5V409.38H245V416.34H246.5V423.35H248V434.13H249.5V410.33H251V438.54H252.5V419.96H254V413.28H255.5V444.71H257V432.16H258.5V444.15H260V430.49H261.5V420.8H263V421.74H264.5V459.48H266V450.3H267.5V440.88H269V435.13H270.5V445.31H272V455.25H273.5V447.74H275V450.87H276.5V452.98H278V457.62H279.5V449.94H281V451.25H282.5V454.85H284V456.44H285.5V464.52H287V459.59H288.5V448.79H290V459.3H291.5V468.67H293V453.07H294.5V459.62H296V452.71H297.5V465.42H299V469.5H300.5V474.71H302V462.63H303.5V457.97H305V473.17H306.5V472.9H308V468.52H309.5V474.48H311V472.64H312.5V473.19H314V471.55H315.5V468.77H317V472.71H318.5V470.11H320V474.66H321.5V472.65H323V477.8H324.5V477.8H326V472.34H327.5V476.29H329V473.63H330.5V473.85H332V472.09H333.5V473.39H335V473.01H336.5V475.68H338V477.06H339.5V477.18H341V476.69H342.5V477.8H344V476.92H345.5V476.02H347V475.39H348.5V476.64H350V477.8H351.5V476.24H353V475.74H354.5V474.23H356V475.26H357.5V477.51H359V477.69H360.5V473.03H362V475.21H363.5V473.43H365V472.98H366.5V477.8H368V475.94H369.5V475.84H371V475.71H372.5V475.76H374V476.33H375.5V476.4H377V477.8H378.5V476.97H380V477.8H381.5V476.56H383V477.47H384.5V475.87H386V475.61H387.5V476.38H389V476.4H390.5V476.74H392V477.52H393.5V477.14H395V477.62H396.5V476.42H398V476.95H399.5V476.22H401V477.8H402.5V475.82H404V477.8H405.5V477.8H407V477.27H408.5V477.75H410V476.64H411.5V477.77H413V477.8H414.5V477.8H416V475.33H417.5V476.98H419V477.8H420.5V477.03H422V477.8H423.5V474.76H425V477.8H426.5V476.45H428V476.37H429.5V477.8H431V476.69H432.5V475.81H434V476.49H435.5V476.75H437V475.89H438.5V476.89H440V476.67H441.5V477.25H443V476.31H444.5V477.8H446V476.13H447.5V477.73H449V477.8H450.5V476.67H452V475.05H453.5V475.95H455V477.75H456.5V476.29H458V477.68H459.5V477.29H461V477.03H462.5V477.8H464V476.92H465.5V477.8H467V477.8H468.5V477.8H470V477.8H471.5V477.8H473V476.2H474.5V475.23H476V477.21H477.5V475.91H479V477.49H480.5V477.8H482V477.02H483.5V476.68H485V477.69H486.5V476.86H488V476.56H489.5V477.8H491V477.8H492.5V477.47H494V477.46H495.5V477.62H497V476.13H498.5V475.31H500V477.7H501.5V476.47H503V476.21H504.5V476.47H506V476.11H507.5V477.68H509" stroke="#000" stroke-width="1" fill="none"/>
<path d="M128 477.74H129.5M129.5 477.2H131M131 477.11H132.5M132.5 476.92H134M134 476.13H135.5M135.5 477.8H137M137 477.49H138.5M138.5 477.8H140M140 476.83H141.5M141.5 475.61H143M143 476.49H144.5M144.5 475.8H146M146 477.8H147.5M147.5 475.92H149M149 477.08H150.5M150.5 473.59H152M152 474.55H153.5M153.5 474.31H155M155 475.54H156.5M156.5 474.46H158M158 474.25H159.5M159.5 475.24H161M161 473.32H162.5M162.5 470.13H164M164 469.17H165.5M165.5 467.52H167M167 464.98H168.5M168.5 464.99H170M170 456.18H171.5M171.5 461.3H173M173 445.49H174.5M174.5 447.59H176M176 440.96H177.5M177.5 439.68H179M179 425.83H180.5M180.5 414.36H182M182 397.51H183.5M183.5 395.66H185M185 383.61H186.5M186.5 357.27H188M188 358.92H189.5M189.5 357.73H191M191 331.74H192.5M192.5 333.63H194M194 316.09H195.5M195.5 307.37H197M197 310.98H198.5M198.5 327.93H200M200 309.13H201.5M201.5 298.45H203M203 309.52H204.5M204.5 301.98H206M206 309H207.5M207.5 339H209M209 333.27H210.5M210.5 333.67H212M212 341.75H213.5M213.5 343.42H215M215 346.64H216.5M216.5 337.83H218M218 360.57H219.5M219.5 364.65H221M221 360.53H222.5M222.5 376.51H224M224 384.14H225.5M225.5 380.25H227M227 371.33H228.5M228.5 374.32H230M230 396.17H231.5M231.5 402.72H233M233 391.84H234.5M234.5 393.38H236M236 394.64H237.5M237.5 391.2H239M239 389.24H240.5M240.5 398.34H242M242 396.13H243.5M243.5 410.42H245M245 412.2H246.5M246.5 402.8H248M248 401.17H249.5M249.5 402.1H251M251 403.11H252.5M252.5 401.66H254M254 401.47H255.5M255.5 423.31H257M257 418.86H258.5M258.5 413.57H260M260 415.5H261.5M261.5 432.25H263M263 416.73H264.5M264.5 429.73H266M266 430.8H267.5M267.5 430.09H269M269 429.72H270.5M270.5 444.33H272M272 431.9H273.5M273.5 438.76H275M275 445.05H276.5M276.5 443.91H278M278 455.53H279.5M279.5 448.99H281M281 446.38H282.5M282.5 452.35H284M284 452.08H285.5M285.5 452.82H287M287 453.56H288.5M288.5 451.02H290M290 457.11H291.5M291.5 459.66H293M293 458.21H294.5M294.5 454.38H296M296 464.66H297.5M297.5 463.46H299M299 471.47H300.5M300.5 463.6H302M302 466.26H303.5M303.5 465.09H305M305 469.48H306.5M306.5 472.58H308M308 468.39H309.5M309.5 469.34H311M311 473.39H312.5M312.5 474.99H314M314 471.04H315.5M315.5 472.68H317M317 467.25H318.5M318.5 474.15H320M320 474.25H321.5M321.5 473.74H323M323 476.83H324.5M324.5 475.68H326M326 471.72H327.5M327.5 474.95H329M329 475.96H330.5M330.5 477.02H332M332 474.35H333.5M333.5 474.3H335M335 474.94H336.5M336.5 475.91H338M338 474.99H339.5M339.5 474.94H341M341 476.45H342.5M342.5 474.74H344M344 477.8H345.5M345.5 477.38H347M347 476.13H348.5M348.5 475.93H350M350 477.32H351.5M351.5 475.49H353M353 474.66H354.5M354.5 475.46H356M356 475.8H357.5M357.5 475.15H359M359 475.7H360.5M360.5 477.5H362M362 476.42H363.5M363.5 474.72H365M365 477.5H366.5M366.5 476.14H368M368 476.65H369.5M369.5 477.24H371M371 477.37H372.5M372.5 476.11H374M374 475.88H375.5M375.5 475.89H377M377 477.8H378.5M378.5 476.57H380M380 475.87H381.5M381.5 475.2H383M383 475.51H384.5M384.5 475.34H386M386 475.05H387.5M387.5 475.36H389M389 477.19H390.5M390.5 476.23H392M392 477.09H393.5M393.5 477.8H395M395 477.8H396.5M396.5 474.01H398M398 477.55H399.5M399.5 477.8H401M401 476.97H402.5M402.5 474.67H404M404 476.39H405.5M405.5 475.9H407M407 476.65H408.5M408.5 476.45H410M410 474.99H411.5M411.5 475.51H413M413 476.47H414.5M414.5 475.42H416M416 475.23H417.5M417.5 476.62H419M419 476.11H420.5M420.5 476.13H422M422 477.12H423.5M423.5 475.19H425M425 476.59H426.5M426.5 477.08H428M428 477.8H429.5M429.5 477.77H431M431 474.83H432.5M432.5 477.64H434M434 476H435.5M435.5 476.84H437M437 475.92H438.5M438.5 475.84H440M440 477.28H441.5M441.5 476.78H443M443 476.38H444.5M444.5 476.37H446M446 476.52H447.5M447.5 476.82H449M449 475.86H450.5M450.5 475.16H452M452 475.96H453.5M453.5 477.28H455M455 476.12H456.5M456.5 476.47H458M458 476.07H459.5M459.5 474.67H461M461 476.76H462.5M462.5 476.56H464M464 477.45H465.5M465.5 476.85H467M467 477.14H468.5M468.5 474.97H470M470 476.28H471.5M471.5 477.15H473M473 474.67H474.5M474.5 477.8H476M476 475.75H477.5M477.5 475.6H479M479 476.05H480.5M480.5 476.87H482M482 476.75H483.5M483.5 476.96H485M485 475.87H486.5M486.5 477.8H488M488 477.14H489.5M489.5 476.5H491M491 477.22H492.5M492.5 477.8H494M494 476.9H495.5M495.5 477.4H497M497 475.91H498.5M498.5 475.35H500M500 476.62H501.5M501.5 477.8H503M503 476.88H504.5M504.5 477.58H506M506 476.06H507.5M507.5 475.12H509" stroke="#000" stroke-width="1.1" fill="none" stroke-dasharray="1 1"/>
<path d="M129.5 476V477.74M131 476V477.2M132.5 476V477.11M134 476V476.92M135.5 476V477.8M137 476V477.8M138.5 476V477.8M140 476V477.8M141.5 474V476.83M143 474V476.49M144.5 474V476.49M146 474V477.8M147.5 474V477.8M149 474V477.08M150.5 472V477.08M152 472V474.55M153.5 474V474.55M155 474V475.54M156.5 474V475.54M159.5 474V475.24M161 472V475.24M162.5 470V473.32M164 468V470.13M165.5 466V469.17M167 464V467.52M168.5 464V464.99M170 456V464.99M171.5 456V461.3M173 444V461.3M174.5 444V447.59M176 440V447.59M177.5 438V440.96M179 424V439.68M180.5 414V425.83M182 396V414.36M183.5 394V397.51M185 382V395.66M186.5 356V383.61M188 356V358.92M189.5 356V358.92M191 330V357.73M192.5 330V333.63M194 316V333.63M195.5 306V316.09M197 306V310.98M198.5 310V327.93M200 308V327.93M201.5 298V309.13M203 298V309.52M204.5 300V309.52M206 300V309M207.5 308V339M209 332V339M210.5 332V333.67M212 332V341.75M213.5 340V343.42M215 342V346.64M216.5 336V346.64M218 336V360.57M219.5 360V364.65M221 360V364.65M222.5 360V376.51M224 376V384.14M225.5 380V384.14M227 370V380.25M228.5 370V374.32M230 374V396.17M231.5 396V402.72M233 390V402.72M234.5 390V393.38M236 392V394.64M237.5 390V394.64M239 388V391.2M240.5 388V398.34M242 396V398.34M243.5 396V410.42M245 410V412.2M246.5 402V412.2M248 400V402.8M249.5 400V402.1M251 402V403.11M252.5 400V403.11M254 400V401.66M255.5 400V423.31M257 418V423.31M258.5 412V418.86M260 412V415.5M261.5 414V432.25M263 416V432.25M264.5 416V429.73M266 428V430.8M267.5 430V430.8M269 428V430.09M270.5 428V444.33M272 430V444.33M273.5 430V438.76M275 438V445.05M276.5 442V445.05M278 442V455.53M279.5 448V455.53M281 446V448.99M282.5 446V452.35M285.5 452V452.82M287 452V453.56M288.5 450V453.56M290 450V457.11M291.5 456V459.66M293 458V459.66M294.5 454V458.21M296 454V464.66M297.5 462V464.66M299 462V471.47M300.5 462V471.47M302 462V466.26M303.5 464V466.26M305 464V469.48M306.5 468V472.58M308 468V472.58M309.5 468V469.34M311 468V473.39M312.5 472V474.99M314 470V474.99M315.5 470V472.68M317 466V472.68M318.5 466V474.15M321.5 472V474.25M323 472V476.83M324.5 474V476.83M326 470V475.68M327.5 470V474.95M329 474V475.96M330.5 474V477.02M332 474V477.02M335 474V474.94M336.5 474V475.91M338 474V475.91M339.5 474V474.99M341 474V476.45M342.5 474V476.45M344 474V477.8M345.5 476V477.8M347 476V477.38M348.5 474V476.13M350 474V477.32M351.5 474V477.32M353 474V475.49M354.5 474V475.46M356 474V475.8M357.5 474V475.8M359 474V475.7M360.5 474V477.5M362 476V477.5M363.5 474V476.42M365 474V477.5M366.5 476V477.5M368 476V476.65M369.5 476V477.24M371 476V477.37M372.5 476V477.37M374 474V476.11M375.5 474V475.89M377 474V477.8M378.5 476V477.8M380 474V476.57M381.5 474V475.87M383 474V475.51M384.5 474V475.51M386 474V475.34M387.5 474V475.36M389 474V477.19M390.5 476V477.19M392 476V477.09M393.5 476V477.8M395 476V477.8M396.5 474V477.8M398 474V477.55M399.5 476V477.8M401 476V477.8M402.5 474V476.97M404 474V476.39M405.5 474V476.39M407 474V476.65M408.5 476V476.65M410 474V476.45M411.5 474V475.51M413 474V476.47M414.5 474V476.47M416 474V475.42M417.5 474V476.62M419 476V476.62M422 476V477.12M423.5 474V477.12M425 474V476.59M426.5 476V477.08M428 476V477.8M429.5 476V477.8M431 474V477.77M432.5 474V477.64M434 474V477.64M435.5 474V476.84M437 474V476.84M438.5 474V475.92M440 474V477.28M441.5 476V477.28M443 476V476.78M446 476V476.52M447.5 476V476.82M449 474V476.82M450.5 474V475.86M452 474V475.96M453.5 474V477.28M455 476V477.28M459.5 474V476.07M461 474V476.76M462.5 476V476.76M464 476V477.45M465.5 476V477.45M467 476V477.14M468.5 474V477.14M470 474V476.28M471.5 476V477.15M473 474V477.15M474.5 474V477.8M476 474V477.8M477.5 474V475.75M479 474V476.05M480.5 476V476.87M482 476V476.87M483.5 476V476.96M485 474V476.96M486.5 474V477.8M488 476V477.8M489.5 476V477.14M491 476V477.22M492.5 476V477.8M494 476V477.8M495.5 476V477.4M497 474V477.4M498.5 474V475.91M500 474V476.62M501.5 476V477.8M503 476V477.8M504.5 476V477.58M506 476V477.58M507.5 474V476.06" stroke="#000" stroke-width="1.1" fill="none" stroke-dasharray="1 1"/>
<path d="M198.2 295.6h11.4v1.25h-11.4zM198.2 298.55h11.4v1.25h-11.4zM198.2 301.5h11.4v1.25h-11.4zM198.2 304.45h11.4v1.25h-11.4zM198.2 307.4h11.4v1.25h-11.4zM198.2 310.35h11.4v1.25h-11.4zM198.2 313.3h11.4v1.25h-11.4zM199.5 316.25h9v1.25h-9zM199.5 319.2h9v1.25h-9zM199.5 322.15h9v1.25h-9zM199.5 325.1h9v1.25h-9zM214 342.8h4.5v1.25h-4.5zM214 345.75h4.5v1.25h-4.5zM214 348.7h4.5v1.25h-4.5zM214 351.65h4.5v1.25h-4.5zM214 354.6h4.5v1.25h-4.5zM223 348.7h2.6v1.25h-2.6zM223 351.65h2.6v1.25h-2.6zM223 354.6h2.6v1.25h-2.6zM223 357.55h2.6v1.25h-2.6zM223 360.5h2.6v1.25h-2.6zM223 363.45h2.6v1.25h-2.6zM223 366.4h2.6v1.25h-2.6zM226 366.4h7v1.25h-7zM226 369.35h7v1.25h-7zM226 372.3h7v1.25h-7zM226 375.25h7v1.25h-7zM226 378.2h7v1.25h-7zM226 381.15h7v1.25h-7zM226 384.1h7v1.25h-7zM226 387.05h7v1.25h-7zM226 390h7v1.25h-7zM226 392.95h7v1.25h-7zM234.3 387.05h2.3v1.25h-2.3zM234.3 390h2.3v1.25h-2.3zM234.3 392.95h2.3v1.25h-2.3zM234.3 395.9h2.3v1.25h-2.3zM242.4 384.1h4v1.25h-4zM242.4 387.05h4v1.25h-4zM242.4 390h4v1.25h-4zM242.4 392.95h4v1.25h-4zM242.4 395.9h4v1.25h-4zM242.4 398.85h4v1.25h-4zM164 463.75h8v1.25h-8zM164 466.7h8v1.25h-8zM164 469.65h8v1.25h-8z" fill="#000"/>
<path d="M128 477.8H130V477.8H132V477.8H134V477.8H136V477.8H138V477.8H140V477.8H142V477.8H144V477.8H146V477.8H148V477.8H150V477.8H152V477.8H154V477.8H156V477.8H158V477.8H160V477.8H162V477.8H164V477.8H166V477.8H168V477.8H170V477.38H172V475.78H174V475.22H176V475.03H178V472.38H180V474.39H182V469.11H184V472.61H186V463.43H188V455.71H190V454.39H192V454.22H194V453.69H196V449.92H198V442.42H200V440.76H202V443.24H204V445.29H206V436.69H208V445.36H210V441.05H212V441.62H214V434.88H216V436.76H218V435.44H220V435.56H222V438.72H224V432.17H226V428.19H228V434.77H230V431.73H232V435.17H234V429.93H236V431.58H238V430.63H240V433.02H242V427.16H244V436.24H246V439.65H248V443.26H250V439.8H252V446.36H254V447.93H256V443.67H258V443.15H260V445.66H262V457.52H264V450.42H266V450.37H268V450.39H270V446.74H272V437.36H274V445.28H276V446.48H278V440.12H280V442.15H282V441.39H284V444.21H286V440.82H288V438.43H290V448.11H292V446.83H294V435.4H296V436.42H298V442.15H300V444.07H302V439.99H304V443.8H306V439.59H308V430.34H310V436.72H312V432.18H314V438.28H316V435.68H318V431.21H320V443.17H322V438.83H324V437.99H326V434.97H328V428.14H330V429.81H332V436.91H334V427.84H336V423.67H338V416.55H340V392.38H342V404.44H344V389.88H346V385.47H348V365.71H350V362.48H352V358.58H354V355.8H356V342.06H358V353.95H360V348.1H362V346.53H364V320.88H366V341.59H368V351.12H370V346.16H372V327.59H374V357.12H376V355.38H378V365.09H380V376.64H382V390.12H384V397.48H386V408.92H388V431.55H390V420.81H392V441.77H394V451.47H396V457.65H398V463.04H400V461.77H402V467.64H404V469.33H406V474.13H408V472.77H410V472.51H412V476.03H414V475.19H416V476.11H418V475.43H420V475.6H422V476.41H424V476.91H426V476.24H428V476.44H430V476.97H432V476.13H434V476.15H436V477.2H438V476.59H440V474.23H442V475.88H444V476.45H446V474.58H448V476.89H450V477.8H452V477.8H454V477.73H456V476.36H458V475.82H460V477.8H462V475.73H464V477.52H466V476.4H468V476.25H470V476.28H472V476.6H474V476.49H476V477.48H478V476.42H480V475.9H482V475.95H484V474.71H486V475.85H488V476.12H490V475.44H492V476.49H494V477.62H496V477.8H498V475.76H500V476.28H502V476.09H504V476.95H506V476.46H508" stroke="#000" stroke-width="2.6" fill="none" stroke-linejoin="miter"/>
<text x="275.5" y="513" font-size="12" textLength="87" lengthAdjust="spacingAndGlyphs">FL1-CD83 FITC</text>
<path d="M126.4 452h1.9v26h-1.9zM126.4 462h3.4v16h-3.4z" fill="#000"/>
<path d="M126 737.3V550.3H510V737.3" stroke="#000" stroke-width="1.4" fill="none"/>
<path d="M125 737.3H510" stroke="#000" stroke-width="1.9" fill="none"/>
<path d="M126 736.5h-6.4M126 732.64h-3.8M126 728.78h-3.8M126 724.92h-3.8M126 721.06h-3.8M126 717.2h-6.4M126 713.34h-3.8M126 709.48h-3.8M126 705.62h-3.8M126 701.76h-3.8M126 697.9h-6.4M126 694.04h-3.8M126 690.18h-3.8M126 686.32h-3.8M126 682.46h-3.8M126 678.6h-6.4M126 674.74h-3.8M126 670.88h-3.8M126 667.02h-3.8M126 663.16h-3.8M126 659.3h-6.4M126 655.44h-3.8M126 651.58h-3.8M126 647.72h-3.8M126 643.86h-3.8M126 640h-6.4M126 636.14h-3.8M126 632.28h-3.8M126 628.42h-3.8M126 624.56h-3.8M126 620.7h-6.4M126 616.84h-3.8M126 612.98h-3.8M126 609.12h-3.8M126 605.26h-3.8M126 601.4h-6.4M126 597.54h-3.8M126 593.68h-3.8M126 589.82h-3.8M126 585.96h-3.8M126 582.1h-6.4M126 578.24h-3.8M126 574.38h-3.8M126 570.52h-3.8M126 566.66h-3.8M126 562.8h-6.4M126 558.94h-3.8M126 555.08h-3.8M126 551.22h-3.8M127 737.3v6.5M155.69 737.3v3.6M172.47 737.3v3.6M184.38 737.3v3.6M193.61 737.3v3.6M201.16 737.3v3.6M207.54 737.3v3.6M213.06 737.3v3.6M217.94 737.3v3.6M222.3 737.3v6.5M250.99 737.3v3.6M267.77 737.3v3.6M279.68 737.3v3.6M288.91 737.3v3.6M296.46 737.3v3.6M302.84 737.3v3.6M308.36 737.3v3.6M313.24 737.3v3.6M317.6 737.3v6.5M346.29 737.3v3.6M363.07 737.3v3.6M374.98 737.3v3.6M384.21 737.3v3.6M391.76 737.3v3.6M398.14 737.3v3.6M403.66 737.3v3.6M408.54 737.3v3.6M412.9 737.3v6.5M441.59 737.3v3.6M458.37 737.3v3.6M470.28 737.3v3.6M479.51 737.3v3.6M487.06 737.3v3.6M493.44 737.3v3.6M498.96 737.3v3.6M503.84 737.3v3.6M508.2 737.3v6.5" stroke="#000" stroke-width="1.2" fill="none"/>
<text x="114.7" y="737.45" font-size="13" textLength="6.7" lengthAdjust="spacingAndGlyphs" transform="rotate(-90 114.7 737.45)">0</text>
<text x="114.7" y="721.5" font-size="13" textLength="13.4" lengthAdjust="spacingAndGlyphs" transform="rotate(-90 114.7 721.5)">10</text>
<text x="114.7" y="702.2" font-size="13" textLength="13.4" lengthAdjust="spacingAndGlyphs" transform="rotate(-90 114.7 702.2)">20</text>
<text x="114.7" y="682.9" font-size="13" textLength="13.4" lengthAdjust="spacingAndGlyphs" transform="rotate(-90 114.7 682.9)">30</text>
<text x="114.7" y="663.6" font-size="13" textLength="13.4" lengthAdjust="spacingAndGlyphs" transform="rotate(-90 114.7 663.6)">40</text>
<text x="114.7" y="644.3" font-size="13" textLength="13.4" lengthAdjust="spacingAndGlyphs" transform="rotate(-90 114.7 644.3)">50</text>
<text x="114.7" y="625" font-size="13" textLength="13.4" lengthAdjust="spacingAndGlyphs" transform="rotate(-90 114.7 625)">60</text>
<text x="114.7" y="605.7" font-size="13" textLength="13.4" lengthAdjust="spacingAndGlyphs" transform="rotate(-90 114.7 605.7)">70</text>
<text x="114.7" y="586.4" font-size="13" textLength="13.4" lengthAdjust="spacingAndGlyphs" transform="rotate(-90 114.7 586.4)">80</text>
<text x="114.7" y="567.1" font-size="13" textLength="13.4" lengthAdjust="spacingAndGlyphs" transform="rotate(-90 114.7 567.1)">90</text>
<text x="117.5" y="759.3" font-size="14" textLength="13" lengthAdjust="spacingAndGlyphs">10</text>
<text x="131.3" y="751.9" font-size="12.5" textLength="6.5" lengthAdjust="spacingAndGlyphs">0</text>
<text x="212.8" y="759.3" font-size="14" textLength="13" lengthAdjust="spacingAndGlyphs">10</text>
<text x="226.6" y="751.9" font-size="12.5" textLength="6.5" lengthAdjust="spacingAndGlyphs">1</text>
<text x="308.1" y="759.3" font-size="14" textLength="13" lengthAdjust="spacingAndGlyphs">10</text>
<text x="321.9" y="751.9" font-size="12.5" textLength="6.5" lengthAdjust="spacingAndGlyphs">2</text>
<text x="403.4" y="759.3" font-size="14" textLength="13" lengthAdjust="spacingAndGlyphs">10</text>
<text x="417.2" y="751.9" font-size="12.5" textLength="6.5" lengthAdjust="spacingAndGlyphs">3</text>
<text x="498.7" y="759.3" font-size="14" textLength="13" lengthAdjust="spacingAndGlyphs">10</text>
<text x="512.5" y="751.9" font-size="12.5" textLength="6.5" lengthAdjust="spacingAndGlyphs">4</text>
<text x="100.5" y="664.4" font-size="14.3" textLength="40" lengthAdjust="spacingAndGlyphs" transform="rotate(-90 100.5 664.4)">Counts</text>
<path d="M128 723.49H129.5V715.57H131V735.47H132.5V712.34H134V722.94H135.5V727.4H137V726.81H138.5V728.23H140V720.81H141.5V710.79H143V710.81H144.5V708.39H146V727.24H147.5V724.88H149V693.81H150.5V697.35H152V683.08H153.5V690.91H155V712.68H156.5V686.09H158V691.4H159.5V693.94H161V702.59H162.5V689.17H164V687.49H165.5V664.2H167V664.79H168.5V633.51H170V664.16H171.5V635.38H173V626.01H174.5V642.72H176V639.72H177.5V586.84H179V594.67H180.5V606.51H182V592.58H183.5V612.95H185V591.28H186.5V607.76H188V589.17H189.5V570.32H191V597.67H192.5V570.1H194V610.07H195.5V592.15H197V614.66H198.5V585H200V579.48H201.5V583.96H203V582.61H204.5V551.22H206V551.22H207.5V596.43H209V551.22H210.5V607.58H212V583.93H213.5V570.3H215V563.38H216.5V590.7H218V583.04H219.5V564.19H221V582.35H222.5V582.26H224V558.99H225.5V560.48H227V585.92H228.5V583.34H230V583.36H231.5V592.28H233V592.76H234.5V603.83H236V569.28H237.5V593.08H239V601.66H240.5V595.77H242V588.8H243.5V570.02H245V605.77H246.5V608.46H248V597.67H249.5V623.09H251V583.46H252.5V594.54H254V603.17H255.5V623.36H257V613.33H258.5V614.3H260V630.91H261.5V650.43H263V677.68H264.5V637.26H266V662.24H267.5V673.48H269V649.96H270.5V661.97H272V691.26H273.5V675.23H275V680.93H276.5V667.32H278V709.53H279.5V694H281V695.1H282.5V681.24H284V710.98H285.5V732.48H287V717.02H288.5V701.44H290V697.96H291.5V691.41H293V706.44H294.5V719.36H296V706.75H297.5V716.24H299V718.62H300.5V717.76H302V709.08H303.5V726.33H305V727.91H306.5V721.86H308V722.72H309.5V728.5H311V729.46H312.5V722.11H314V717.02H315.5V721.64H317V722.61H318.5V720.35H320V736.5H321.5V736.09H323V732.16H324.5V734.85H326V734.03H327.5V729.19H329V735.83H330.5V732.18H332V736.5H333.5V734.99H335V725.46H336.5V733.63H338V730.46H339.5V729.34H341V734.09H342.5V730.39H344V731.96H345.5V730.56H347V735.26H348.5V736.5H350V736.5H351.5V735.47H353V732.55H354.5V734.84H356V735.53H357.5V735.17H359V732.5H360.5V736.28H362V731.68H363.5V736.5H365V736.32H366.5V733.15H368V733.89H369.5V736.5H371V735.28H372.5V736.5H374V733.2H375.5V733.88H377V736.5H378.5V734.2H380V735.86H381.5V735.23H383V734.94H384.5V736.3H386V734.18H387.5V734.11H389V734.19H390.5V732.75H392V735.69H393.5V736.5H395V736.16H396.5V734.7H398V735.08H399.5V733.91H401V733.44H402.5V735.39H404V735.38H405.5V736.5H407V733H408.5V735.72H410V736.5H411.5V736.5H413V736.04H414.5V731.96H416V733.59H417.5V736.5H419V735.45H420.5V734.66H422V733.92H423.5V734.51H425V736.5H426.5V734.38H428V736.36H429.5V736.5H431V736.5H432.5V736.5H434V733.32H435.5V733.13H437V736.5H438.5V734.92H440V735.09H441.5V736.5H443V736.5H444.5V735.47H446V735.02H447.5V736.47H449V736.5H450.5V735.36H452V736.45H453.5V736.5H455V735.96H456.5V736.5H458V734.24H459.5V735.31H461V736.43H462.5V734.8H464V735.41H465.5V736.5H467V735.64H468.5V736.24H470V736.5H471.5V736.5H473V734.56H474.5V736.5H476V732.71H477.5V732.17H479V735.98H480.5V734.36H482V731.65H483.5V736.04H485V736.5H486.5V736.22H488V736.5H489.5V736.5H491V735.05H492.5V736.22H494V734.99H495.5V734.55H497V736.5H498.5V735.82H500V735.96H501.5V736.5H503V736.5H504.5V734.91H506V735.74H507.5V734.89H509" stroke="#000" stroke-width="1" fill="none"/>
<path d="M128 733.03H129.5M129.5 732.18H131M131 731.84H132.5M132.5 730.01H134M134 725.29H135.5M135.5 730.89H137M137 724.91H138.5M138.5 723.51H140M140 726.2H141.5M141.5 725.84H143M143 721.66H144.5M144.5 718.37H146M146 714.36H147.5M147.5 716.54H149M149 713.1H150.5M150.5 718.02H152M152 717.87H153.5M153.5 718.96H155M155 715.33H156.5M156.5 710.75H158M158 706.84H159.5M159.5 710.43H161M161 697.97H162.5M162.5 697.78H164M164 696.26H165.5M165.5 692.74H167M167 673.37H168.5M168.5 677.18H170M170 677.57H171.5M171.5 672.1H173M173 646.62H174.5M174.5 653.06H176M176 633.19H177.5M177.5 623.73H179M179 643.2H180.5M180.5 610.74H182M182 617.42H183.5M183.5 619.28H185M185 610.15H186.5M186.5 599.1H188M188 598.89H189.5M189.5 596.77H191M191 604.45H192.5M192.5 586.34H194M194 582.85H195.5M195.5 578.53H197M197 583.9H198.5M198.5 574.86H200M200 571.6H201.5M201.5 581.36H203M203 575.76H204.5M204.5 574.26H206M206 570.47H207.5M207.5 564.67H209M209 589.61H210.5M210.5 579.49H212M212 574.53H213.5M213.5 599.19H215M215 595.17H216.5M216.5 570.67H218M218 594.78H219.5M219.5 591.19H221M221 585.58H222.5M222.5 594.21H224M224 598.7H225.5M225.5 597.08H227M227 597.62H228.5M228.5 600.14H230M230 594.8H231.5M231.5 583.69H233M233 594.58H234.5M234.5 584.82H236M236 592.67H237.5M237.5 592.5H239M239 595.14H240.5M240.5 603.97H242M242 600.06H243.5M243.5 602.9H245M245 615.97H246.5M246.5 603.2H248M248 607.2H249.5M249.5 612.24H251M251 622.65H252.5M252.5 641.4H254M254 614.43H255.5M255.5 629.42H257M257 649.7H258.5M258.5 635.48H260M260 650.05H261.5M261.5 646.14H263M263 654.58H264.5M264.5 650.3H266M266 659.28H267.5M267.5 662.41H269M269 666.57H270.5M270.5 663.82H272M272 681.16H273.5M273.5 671.06H275M275 677.07H276.5M276.5 686.74H278M278 687.26H279.5M279.5 692.55H281M281 692.88H282.5M282.5 691.69H284M284 701.46H285.5M285.5 698.19H287M287 700.22H288.5M288.5 704.23H290M290 703.36H291.5M291.5 711.4H293M293 710.93H294.5M294.5 707.43H296M296 717.36H297.5M297.5 719.95H299M299 721.64H300.5M300.5 721.15H302M302 725.02H303.5M303.5 724.86H305M305 729.19H306.5M306.5 728.24H308M308 728.89H309.5M309.5 729.89H311M311 729.15H312.5M312.5 727.75H314M314 730.55H315.5M315.5 732.62H317M317 730.33H318.5M318.5 730.86H320M320 733.7H321.5M321.5 731.71H323M323 733.86H324.5M324.5 733.59H326M326 734.07H327.5M327.5 732.55H329M329 734.85H330.5M330.5 734.37H332M332 733.83H333.5M333.5 732.93H335M335 732.78H336.5M336.5 735.18H338M338 732.82H339.5M339.5 733.79H341M341 732.85H342.5M342.5 733.03H344M344 734.73H345.5M345.5 734.14H347M347 734.51H348.5M348.5 733.82H350M350 732.5H351.5M351.5 734.19H353M353 734.95H354.5M354.5 731.66H356M356 735.32H357.5M357.5 734.31H359M359 734.35H360.5M360.5 735.64H362M362 733.56H363.5M363.5 733.31H365M365 734.48H366.5M366.5 734.36H368M368 734.59H369.5M369.5 736.2H371M371 734.22H372.5M372.5 735.71H374M374 735.44H375.5M375.5 734.13H377M377 733.63H378.5M378.5 735.39H380M380 733.46H381.5M381.5 732.88H383M383 734.43H384.5M384.5 734.69H386M386 734.44H387.5M387.5 735.03H389M389 735.47H390.5M390.5 734.07H392M392 734.02H393.5M393.5 735.18H395M395 735.1H396.5M396.5 735.32H398M398 735.4H399.5M399.5 735.66H401M401 736.16H402.5M402.5 734H404M404 735.14H405.5M405.5 734.78H407M407 733.27H408.5M408.5 735.31H410M410 734.39H411.5M411.5 736.09H413M413 735.47H414.5M414.5 734.35H416M416 735.19H417.5M417.5 736.2H419M419 736.3H420.5M420.5 734.73H422M422 735.82H423.5M423.5 734.49H425M425 734.84H426.5M426.5 735.35H428M428 735.16H429.5M429.5 734.51H431M431 735.11H432.5M432.5 735.91H434M434 734.91H435.5M435.5 735.47H437M437 735.39H438.5M438.5 734.78H440M440 734.98H441.5M441.5 734.47H443M443 735.41H444.5M444.5 735.63H446M446 735.56H447.5M447.5 735.04H449M449 735.93H450.5M450.5 735.62H452M452 735.99H453.5M453.5 735.95H455M455 735.53H456.5M456.5 733.7H458M458 735.7H459.5M459.5 735.27H461M461 735.4H462.5M462.5 735.6H464M464 735.48H465.5M465.5 734.19H467M467 735.71H468.5M468.5 734.48H470M470 735.14H471.5M471.5 736.15H473M473 736.02H474.5M474.5 735.91H476M476 736.32H477.5M477.5 734.93H479M479 735.41H480.5M480.5 735.36H482M482 736.32H483.5M483.5 735.43H485M485 736.05H486.5M486.5 734.32H488M488 735.82H489.5M489.5 735.62H491M491 735.56H492.5M492.5 736.08H494M494 736.05H495.5M495.5 736.06H497M497 735.4H498.5M498.5 736.27H500M500 735.98H501.5M501.5 735.74H503M503 736.14H504.5M504.5 736.5H506M506 736.5H507.5M507.5 736.18H509" stroke="#000" stroke-width="1.1" fill="none" stroke-dasharray="1 1"/>
<path d="M129.5 732V733.03M131 730V732.18M132.5 730V731.84M134 724V730.01M135.5 724V730.89M137 724V730.89M138.5 722V724.91M140 722V726.2M141.5 724V726.2M143 720V725.84M144.5 718V721.66M146 714V718.37M147.5 714V716.54M149 712V716.54M150.5 712V718.02M152 716V718.02M153.5 716V718.96M155 714V718.96M156.5 710V715.33M158 706V710.75M159.5 706V710.43M161 696V710.43M162.5 696V697.97M164 696V697.78M165.5 692V696.26M167 672V692.74M168.5 672V677.18M170 676V677.57M171.5 672V677.57M173 646V672.1M174.5 646V653.06M176 632V653.06M177.5 622V633.19M179 622V643.2M180.5 610V643.2M182 610V617.42M183.5 616V619.28M185 610V619.28M186.5 598V610.15M188 598V599.1M189.5 596V598.89M191 596V604.45M192.5 586V604.45M194 582V586.34M195.5 578V582.85M197 578V583.9M198.5 574V583.9M200 570V574.86M201.5 570V581.36M203 574V581.36M204.5 574V575.76M206 570V574.26M207.5 564V570.47M209 564V589.61M210.5 578V589.61M212 574V579.49M213.5 574V599.19M215 594V599.19M216.5 570V595.17M218 570V594.78M219.5 590V594.78M221 584V591.19M222.5 584V594.21M224 594V598.7M225.5 596V598.7M227 596V597.62M228.5 596V600.14M230 594V600.14M231.5 582V594.8M233 582V594.58M234.5 584V594.58M236 584V592.67M237.5 592V592.67M239 592V595.14M240.5 594V603.97M242 600V603.97M243.5 600V602.9M245 602V615.97M246.5 602V615.97M248 602V607.2M249.5 606V612.24M251 612V622.65M252.5 622V641.4M254 614V641.4M255.5 614V629.42M257 628V649.7M258.5 634V649.7M260 634V650.05M261.5 646V650.05M263 646V654.58M264.5 650V654.58M266 650V659.28M267.5 658V662.41M269 662V666.57M270.5 662V666.57M272 662V681.16M273.5 670V681.16M275 670V677.07M276.5 676V686.74M278 686V687.26M279.5 686V692.55M281 692V692.88M282.5 690V692.88M284 690V701.46M285.5 698V701.46M287 698V700.22M288.5 700V704.23M290 702V704.23M291.5 702V711.4M293 710V711.4M294.5 706V710.93M296 706V717.36M297.5 716V719.95M299 718V721.64M300.5 720V721.64M302 720V725.02M303.5 724V725.02M305 724V729.19M306.5 728V729.19M308 728V728.89M309.5 728V729.89M311 728V729.89M312.5 726V729.15M314 726V730.55M315.5 730V732.62M317 730V732.62M318.5 730V730.86M320 730V733.7M321.5 730V733.7M323 730V733.86M324.5 732V733.86M326 732V734.07M327.5 732V734.07M329 732V734.85M330.5 734V734.85M332 732V734.37M333.5 732V733.83M335 732V732.93M336.5 732V735.18M338 732V735.18M339.5 732V733.79M341 732V733.79M342.5 732V733.03M344 732V734.73M345.5 734V734.73M347 734V734.51M348.5 732V734.51M350 732V733.82M351.5 732V734.19M353 734V734.95M354.5 730V734.95M356 730V735.32M357.5 734V735.32M360.5 734V735.64M362 732V735.64M363.5 732V733.56M365 732V734.48M368 734V734.59M369.5 734V736.2M371 734V736.2M372.5 734V735.71M374 734V735.71M375.5 734V735.44M377 732V734.13M378.5 732V735.39M380 732V735.39M381.5 732V733.46M383 732V734.43M384.5 734V734.69M386 734V734.69M387.5 734V735.03M389 734V735.47M390.5 734V735.47M393.5 734V735.18M395 734V735.18M396.5 734V735.32M398 734V735.4M399.5 734V735.66M401 734V736.16M402.5 732V736.16M404 732V735.14M405.5 734V735.14M407 732V734.78M408.5 732V735.31M410 734V735.31M411.5 734V736.09M413 734V736.09M414.5 734V735.47M416 734V735.19M417.5 734V736.2M420.5 734V736.3M422 734V735.82M423.5 734V735.82M425 734V734.84M426.5 734V735.35M428 734V735.35M429.5 734V735.16M431 734V735.11M432.5 734V735.91M434 734V735.91M435.5 734V735.47M437 734V735.47M438.5 734V735.39M440 734V734.98M441.5 734V734.98M443 734V735.41M444.5 734V735.63M446 734V735.63M447.5 734V735.56M449 734V735.93M450.5 734V735.93M452 734V735.99M453.5 734V735.99M455 734V735.95M456.5 732V735.53M458 732V735.7M459.5 734V735.7M461 734V735.4M462.5 734V735.6M464 734V735.6M465.5 734V735.48M467 734V735.71M468.5 734V735.71M470 734V735.14M471.5 734V736.15M474.5 734V736.02M476 734V736.32M477.5 734V736.32M479 734V735.41M480.5 734V735.41M482 734V736.32M483.5 734V736.32M485 734V736.05M486.5 734V736.05M488 734V735.82M489.5 734V735.82M491 734V735.62M492.5 734V736.08M497 734V736.06M498.5 734V736.27M500 734V736.27M501.5 734V735.98M503 734V736.14" stroke="#000" stroke-width="1.1" fill="none" stroke-dasharray="1 1"/>
<path d="M203.8 554.9h5.4v1.25h-5.4zM203.8 557.85h5.4v1.25h-5.4zM203.8 560.8h5.4v1.25h-5.4zM203.8 563.75h5.4v1.25h-5.4zM203.8 566.7h5.4v1.25h-5.4zM203.8 569.65h5.4v1.25h-5.4zM203.8 572.6h5.4v1.25h-5.4zM203.8 575.55h5.4v1.25h-5.4zM194.4 587.35h5.4v1.25h-5.4zM194.4 590.3h5.4v1.25h-5.4zM194.4 593.25h5.4v1.25h-5.4zM194.4 596.2h5.4v1.25h-5.4zM194.4 599.15h5.4v1.25h-5.4zM194.4 602.1h5.4v1.25h-5.4zM194.4 605.05h5.4v1.25h-5.4zM217.5 593.25h5v1.25h-5zM217.5 596.2h5v1.25h-5zM217.5 599.15h5v1.25h-5zM217.5 602.1h5v1.25h-5zM230.6 587.35h6.3v1.25h-6.3zM230.6 590.3h6.3v1.25h-6.3zM230.6 593.25h6.3v1.25h-6.3zM230.6 596.2h6.3v1.25h-6.3zM230.6 599.15h6.3v1.25h-6.3zM230.6 602.1h6.3v1.25h-6.3zM230.6 605.05h6.3v1.25h-6.3zM176 637.5h8v1.25h-8zM176 640.45h8v1.25h-8zM176 643.4h8v1.25h-8zM176 646.35h8v1.25h-8zM176 649.3h8v1.25h-8zM187.5 605.05h2.5v1.25h-2.5zM187.5 608h2.5v1.25h-2.5zM187.5 610.95h2.5v1.25h-2.5zM187.5 613.9h2.5v1.25h-2.5zM195 602.1h7.5v1.25h-7.5zM195 605.05h7.5v1.25h-7.5zM195 608h7.5v1.25h-7.5zM195 610.95h7.5v1.25h-7.5zM195 613.9h7.5v1.25h-7.5z" fill="#000"/>
<path d="M128 736.05H130V735.87H132V735.84H134V735.76H136V735.62H138V735.62H140V735.38H142V735.41H144V735.12H146V735.46H148V735.28H150V735.38H152V735.61H154V735.77H156V734.8H158V735.08H160V734.98H162V734.83H164V734.32H166V734.16H168V734.02H170V733.82H172V732.76H174V733.93H176V733.91H178V734.98H180V734.66H182V732.61H184V732.22H186V733.32H188V733.51H190V733.09H192V734.41H194V733.51H196V733.36H198V732.06H200V733.44H202V732.38H204V731.88H206V731.37H208V732.08H210V732H212V732.79H214V730.18H216V729.29H218V729.8H220V728.4H222V729.06H224V727.2H226V725.49H228V725.89H230V724.18H232V721.5H234V720.53H236V720.52H238V716.14H240V714.34H242V713.84H244V712.87H246V711.17H248V709.38H250V711.02H252V705.21H254V706.44H256V702.65H258V701.18H260V698.11H262V693.62H264V693.95H266V692.64H268V688.4H270V686.95H272V688.24H274V686.09H276V679.84H278V670.44H280V672.49H282V666.75H284V661.7H286V661.46H288V646.9H290V641.06H292V632.75H294V620.08H296V619.06H298V600.1H300V590.88H302V558.33H304V568.76H306V577.73H308V575.31H310V580.48H312V576.08H314V576.82H316V587.21H318V600.49H320V604.15H322V617.4H324V626.43H326V640.44H328V644.23H330V654H332V665.09H334V668.26H336V676.03H338V685.95H340V701.14H342V701.38H344V707.4H346V711.9H348V715.45H350V717.44H352V719.16H354V722.85H356V724.05H358V726.8H360V729.49H362V730.22H364V731.89H366V733.58H368V733.79H370V734.9H372V733.72H374V734.38H376V733.9H378V735.34H380V733.86H382V734.45H384V735.21H386V734.04H388V735.22H390V735.47H392V735.21H394V735.11H396V735.06H398V734.72H400V735.77H402V736.06H404V735.42H406V735.91H408V735.93H410V735.55H412V735.14H414V735.8H416V735.77H418V735.62H420V735.66H422V735.23H424V735.56H426V735.95H428V734.88H430V735.77H432V736.08H434V735.42H436V735.59H438V735.43H440V735.64H442V735.61H444V735.57H446V735.37H448V736.27H450V735.6H452V735.64H454V735.03H456V735.86H458V735.31H460V735.4H462V735.86H464V735.51H466V735.43H468V735.33H470V735.44H472V735.71H474V735.55H476V735.88H478V735.96H480V735.84H482V735.91H484V735.95H486V735.29H488V736.22H490V735.65H492V735.64H494V736.06H496V735.4H498V736.03H500V735.72H502V736.22H504V736.14H506V736H508" stroke="#000" stroke-width="2.6" fill="none"/>
<text x="278.75" y="772" font-size="12" textLength="76.25" lengthAdjust="spacingAndGlyphs">FL2-CD80 PE</text>
<path d="M125.5 649h1.9v88h-1.9zM125.5 688h3v49h-3z" fill="#000"/>
<text x="0" y="818.75" font-size="24.3" font-weight="bold" textLength="17.3" lengthAdjust="spacingAndGlyphs">C</text>
<text x="68.9" y="807.3" font-size="8" font-weight="bold" textLength="56.3" lengthAdjust="spacingAndGlyphs">isotype control</text>
<text x="173.2" y="807.7" font-size="8" font-weight="bold" textLength="28.8" lengthAdjust="spacingAndGlyphs">HLA-DR</text>
<text x="273.5" y="808.5" font-size="8.3" font-weight="bold" textLength="19.9" lengthAdjust="spacingAndGlyphs">CD1a</text>
<text x="368.2" y="809.9" font-size="8.3" font-weight="bold" textLength="20.4" lengthAdjust="spacingAndGlyphs">CD86</text>
<text x="471.1" y="810.9" font-size="8.3" font-weight="bold" textLength="20.1" lengthAdjust="spacingAndGlyphs">CD80</text>
<text x="11" y="863.8" font-size="7.8" font-weight="bold" textLength="26.5" lengthAdjust="spacingAndGlyphs">control</text>
<text x="0.9" y="954.8" font-size="8.4" font-weight="bold" textLength="44.1" lengthAdjust="spacingAndGlyphs">EGFP mRNA</text>
<path d="M117 846h1v1h-1zM115 848h1v1h-1zM113 850h1v1h-1zM110 853h1v1h-1zM107 855h1v1h-1zM102 856h1v1h-1zM104 856h1v1h-1zM101 857h3v1h-3zM99 858h6v1h-6zM98 859h7v1h-7zM96 860h2v1h-2zM99 860h6v1h-6zM95 861h9v1h-9zM93 862h1v1h-1zM95 862h7v1h-7zM91 863h11v1h-11zM90 864h10v1h-10zM101 864h1v1h-1zM90 865h11v1h-11zM89 866h10v1h-10zM88 867h10v1h-10zM87 868h11v1h-11zM85 869h6v1h-6zM92 869h4v1h-4zM84 870h12v1h-12zM77 871h2v1h-2zM81 871h4v1h-4zM86 871h10v1h-10zM77 872h2v1h-2zM80 872h14v1h-14zM76 873h1v1h-1zM79 873h14v1h-14zM76 874h6v1h-6zM83 874h10v1h-10zM77 875h15v1h-15zM76 876h15v1h-15zM77 877h13v1h-13zM76 878h13v1h-13zM76 879h14v1h-14zM76 880h12v1h-12zM76 881h12v1h-12zM76 882h13v1h-13zM76 883h13v1h-13zM76 884h12v1h-12zM76 885h12v1h-12zM76 886h11v1h-11z" fill="#000"/>
<rect x="76.1" y="829.5" width="54.4" height="57.6" fill="none" stroke="#000" stroke-width="1.05"/>
<line x1="94.8" y1="829.5" x2="94.8" y2="887.1" stroke="#000" stroke-width="1.05" />
<line x1="76.1" y1="868.9" x2="130.5" y2="868.9" stroke="#000" stroke-width="1.05" />
<path d="M76.1 887.1v2.6M80.19 887.1v1.7M82.59 887.1v1.7M84.29 887.1v1.7M85.61 887.1v1.7M86.68 887.1v1.7M87.59 887.1v1.7M88.38 887.1v1.7M89.08 887.1v1.7M89.7 887.1v2.6M93.79 887.1v1.7M96.19 887.1v1.7M97.89 887.1v1.7M99.21 887.1v1.7M100.28 887.1v1.7M101.19 887.1v1.7M101.98 887.1v1.7M102.68 887.1v1.7M103.3 887.1v2.6M107.39 887.1v1.7M109.79 887.1v1.7M111.49 887.1v1.7M112.81 887.1v1.7M113.88 887.1v1.7M114.79 887.1v1.7M115.58 887.1v1.7M116.28 887.1v1.7M116.9 887.1v2.6M120.99 887.1v1.7M123.39 887.1v1.7M125.09 887.1v1.7M126.41 887.1v1.7M127.48 887.1v1.7M128.39 887.1v1.7M129.18 887.1v1.7M129.88 887.1v1.7M130.5 887.1v2.6M76.1 887.1h-2.6M76.1 882.77h-1.7M76.1 880.23h-1.7M76.1 878.43h-1.7M76.1 877.03h-1.7M76.1 875.89h-1.7M76.1 874.93h-1.7M76.1 874.1h-1.7M76.1 873.36h-1.7M76.1 872.7h-2.6M76.1 868.37h-1.7M76.1 865.83h-1.7M76.1 864.03h-1.7M76.1 862.63h-1.7M76.1 861.49h-1.7M76.1 860.53h-1.7M76.1 859.7h-1.7M76.1 858.96h-1.7M76.1 858.3h-2.6M76.1 853.97h-1.7M76.1 851.43h-1.7M76.1 849.63h-1.7M76.1 848.23h-1.7M76.1 847.09h-1.7M76.1 846.13h-1.7M76.1 845.3h-1.7M76.1 844.56h-1.7M76.1 843.9h-2.6M76.1 839.57h-1.7M76.1 837.03h-1.7M76.1 835.23h-1.7M76.1 833.83h-1.7M76.1 832.69h-1.7M76.1 831.73h-1.7M76.1 830.9h-1.7M76.1 830.16h-1.7M76.1 829.5h-2.6" stroke="#000" stroke-width="1.0" fill="none"/>
<text x="72.19" y="897.2" font-size="6.4" stroke="#000" stroke-width="0.15">10<tspan dx="0.77" dy="-3.33" font-size="5.76">0</tspan></text>
<text x="85.79" y="897.2" font-size="6.4" stroke="#000" stroke-width="0.15">10<tspan dx="0.77" dy="-3.33" font-size="5.76">1</tspan></text>
<text x="99.39" y="897.2" font-size="6.4" stroke="#000" stroke-width="0.15">10<tspan dx="0.77" dy="-3.33" font-size="5.76">2</tspan></text>
<text x="112.99" y="897.2" font-size="6.4" stroke="#000" stroke-width="0.15">10<tspan dx="0.77" dy="-3.33" font-size="5.76">3</tspan></text>
<text x="126.59" y="897.2" font-size="6.4" stroke="#000" stroke-width="0.15">10<tspan dx="0.77" dy="-3.33" font-size="5.76">4</tspan></text>
<text x="70.8" y="891.01" font-size="6.4" transform="rotate(-90 70.8 891.01)" stroke="#000" stroke-width="0.15">10<tspan dx="0.77" dy="-3.33" font-size="5.76">0</tspan></text>
<text x="70.8" y="876.61" font-size="6.4" transform="rotate(-90 70.8 876.61)" stroke="#000" stroke-width="0.15">10<tspan dx="0.77" dy="-3.33" font-size="5.76">1</tspan></text>
<text x="70.8" y="862.21" font-size="6.4" transform="rotate(-90 70.8 862.21)" stroke="#000" stroke-width="0.15">10<tspan dx="0.77" dy="-3.33" font-size="5.76">2</tspan></text>
<text x="70.8" y="847.81" font-size="6.4" transform="rotate(-90 70.8 847.81)" stroke="#000" stroke-width="0.15">10<tspan dx="0.77" dy="-3.33" font-size="5.76">3</tspan></text>
<text x="70.8" y="833.41" font-size="6.4" transform="rotate(-90 70.8 833.41)" stroke="#000" stroke-width="0.15">10<tspan dx="0.77" dy="-3.33" font-size="5.76">4</tspan></text>
<text x="103.3" y="903.1" font-size="6.3" textLength="28.5" lengthAdjust="spacingAndGlyphs" text-anchor="middle" stroke="#000" stroke-width="0.2">FL1-Height</text>
<text x="63.1" y="858.3" font-size="6.3" textLength="30" lengthAdjust="spacingAndGlyphs" transform="rotate(-90 63.1 858.3)" text-anchor="middle" stroke="#000" stroke-width="0.2">FL2-Height</text>
<path d="M166 833h1v1h-1zM168 833h6v1h-6zM175 833h1v1h-1zM177 833h1v1h-1zM179 833h3v1h-3zM173 834h1v1h-1zM175 834h3v1h-3zM182 834h1v1h-1zM166 835h2v1h-2zM169 835h2v1h-2zM173 835h3v1h-3zM179 835h1v1h-1zM182 835h1v1h-1zM190 835h1v1h-1zM168 836h1v1h-1zM170 836h2v1h-2zM173 836h2v1h-2zM181 836h1v1h-1zM166 837h2v1h-2zM169 837h6v1h-6zM176 837h1v1h-1zM178 837h1v1h-1zM166 838h4v1h-4zM171 838h9v1h-9zM166 839h14v1h-14zM166 840h3v1h-3zM170 840h6v1h-6zM177 840h3v1h-3zM166 841h2v1h-2zM169 841h2v1h-2zM172 841h1v1h-1zM174 841h8v1h-8zM166 842h4v1h-4zM171 842h2v1h-2zM174 842h7v1h-7zM166 843h2v1h-2zM170 843h8v1h-8zM179 843h1v1h-1zM181 843h2v1h-2zM210 843h1v1h-1zM166 844h6v1h-6zM173 844h1v1h-1zM175 844h3v1h-3zM179 844h4v1h-4zM166 845h1v1h-1zM168 845h15v1h-15zM195 845h1v1h-1zM213 845h1v1h-1zM166 846h10v1h-10zM178 846h3v1h-3zM183 846h1v1h-1zM166 847h7v1h-7zM174 847h4v1h-4zM179 847h5v1h-5zM166 848h5v1h-5zM172 848h2v1h-2zM175 848h5v1h-5zM181 848h1v1h-1zM188 848h1v1h-1zM166 849h1v1h-1zM168 849h2v1h-2zM171 849h12v1h-12zM166 850h1v1h-1zM168 850h12v1h-12zM181 850h1v1h-1zM200 850h1v1h-1zM166 851h4v1h-4zM171 851h4v1h-4zM176 851h7v1h-7zM166 852h1v1h-1zM168 852h6v1h-6zM175 852h1v1h-1zM177 852h1v1h-1zM179 852h4v1h-4zM166 853h1v1h-1zM168 853h2v1h-2zM171 853h12v1h-12zM166 854h4v1h-4zM171 854h1v1h-1zM173 854h8v1h-8zM166 855h14v1h-14zM181 855h2v1h-2zM192 855h1v1h-1zM166 856h8v1h-8zM175 856h8v1h-8zM166 857h15v1h-15zM182 857h1v1h-1zM184 857h1v1h-1zM166 858h12v1h-12zM179 858h5v1h-5zM205 858h1v1h-1zM167 859h13v1h-13zM182 859h2v1h-2zM167 860h2v1h-2zM170 860h3v1h-3zM174 860h2v1h-2zM177 860h8v1h-8zM198 860h1v1h-1zM166 861h3v1h-3zM170 861h4v1h-4zM175 861h9v1h-9zM166 862h3v1h-3zM171 862h1v1h-1zM175 862h1v1h-1zM177 862h1v1h-1zM179 862h5v1h-5zM166 863h4v1h-4zM173 863h2v1h-2zM177 863h8v1h-8zM166 864h9v1h-9zM176 864h5v1h-5zM183 864h1v1h-1zM166 865h3v1h-3zM170 865h4v1h-4zM177 865h3v1h-3zM181 865h4v1h-4zM166 866h5v1h-5zM172 866h1v1h-1zM174 866h7v1h-7zM182 866h3v1h-3zM166 867h1v1h-1zM170 867h14v1h-14zM167 868h16v1h-16zM185 868h1v1h-1zM166 869h3v1h-3zM171 869h13v1h-13zM166 870h6v1h-6zM173 870h1v1h-1zM176 870h2v1h-2zM179 870h3v1h-3zM184 870h2v1h-2zM167 871h2v1h-2zM170 871h13v1h-13zM184 871h1v1h-1zM166 872h5v1h-5zM172 872h11v1h-11zM166 873h1v1h-1zM168 873h15v1h-15zM166 874h2v1h-2zM170 874h7v1h-7zM178 874h4v1h-4zM183 874h1v1h-1zM166 875h1v1h-1zM169 875h1v1h-1zM171 875h8v1h-8zM180 875h1v1h-1zM182 875h1v1h-1zM166 876h2v1h-2zM170 876h11v1h-11zM167 877h8v1h-8zM178 877h1v1h-1zM180 877h1v1h-1zM167 878h5v1h-5zM173 878h7v1h-7zM166 879h1v1h-1zM168 879h9v1h-9zM179 879h1v1h-1zM166 880h3v1h-3zM170 880h3v1h-3zM174 880h2v1h-2zM177 880h1v1h-1zM166 881h1v1h-1zM168 881h6v1h-6zM175 881h1v1h-1zM167 882h1v1h-1zM170 882h1v1h-1zM173 882h1v1h-1zM166 883h4v1h-4zM166 884h1v1h-1z" fill="#000"/>
<rect x="165.5" y="830.7" width="58.7" height="56.8" fill="none" stroke="#000" stroke-width="1.05"/>
<line x1="185.5" y1="830.7" x2="185.5" y2="887.5" stroke="#000" stroke-width="1.05" />
<line x1="165.5" y1="869.1" x2="224.2" y2="869.1" stroke="#000" stroke-width="1.05" />
<path d="M165.5 887.5v2.6M169.92 887.5v1.7M172.5 887.5v1.7M174.34 887.5v1.7M175.76 887.5v1.7M176.92 887.5v1.7M177.9 887.5v1.7M178.75 887.5v1.7M179.5 887.5v1.7M180.18 887.5v2.6M184.59 887.5v1.7M187.18 887.5v1.7M189.01 887.5v1.7M190.43 887.5v1.7M191.59 887.5v1.7M192.58 887.5v1.7M193.43 887.5v1.7M194.18 887.5v1.7M194.85 887.5v2.6M199.27 887.5v1.7M201.85 887.5v1.7M203.69 887.5v1.7M205.11 887.5v1.7M206.27 887.5v1.7M207.25 887.5v1.7M208.1 887.5v1.7M208.85 887.5v1.7M209.52 887.5v2.6M213.94 887.5v1.7M216.53 887.5v1.7M218.36 887.5v1.7M219.78 887.5v1.7M220.94 887.5v1.7M221.93 887.5v1.7M222.78 887.5v1.7M223.53 887.5v1.7M224.2 887.5v2.6M165.5 887.5h-2.6M165.5 883.23h-1.7M165.5 880.72h-1.7M165.5 878.95h-1.7M165.5 877.57h-1.7M165.5 876.45h-1.7M165.5 875.5h-1.7M165.5 874.68h-1.7M165.5 873.95h-1.7M165.5 873.3h-2.6M165.5 869.03h-1.7M165.5 866.52h-1.7M165.5 864.75h-1.7M165.5 863.37h-1.7M165.5 862.25h-1.7M165.5 861.3h-1.7M165.5 860.48h-1.7M165.5 859.75h-1.7M165.5 859.1h-2.6M165.5 854.83h-1.7M165.5 852.32h-1.7M165.5 850.55h-1.7M165.5 849.17h-1.7M165.5 848.05h-1.7M165.5 847.1h-1.7M165.5 846.28h-1.7M165.5 845.55h-1.7M165.5 844.9h-2.6M165.5 840.63h-1.7M165.5 838.12h-1.7M165.5 836.35h-1.7M165.5 834.97h-1.7M165.5 833.85h-1.7M165.5 832.9h-1.7M165.5 832.08h-1.7M165.5 831.35h-1.7M165.5 830.7h-2.6" stroke="#000" stroke-width="1.0" fill="none"/>
<text x="161.59" y="897.6" font-size="6.4" stroke="#000" stroke-width="0.15">10<tspan dx="0.77" dy="-3.33" font-size="5.76">0</tspan></text>
<text x="176.26" y="897.6" font-size="6.4" stroke="#000" stroke-width="0.15">10<tspan dx="0.77" dy="-3.33" font-size="5.76">1</tspan></text>
<text x="190.94" y="897.6" font-size="6.4" stroke="#000" stroke-width="0.15">10<tspan dx="0.77" dy="-3.33" font-size="5.76">2</tspan></text>
<text x="205.61" y="897.6" font-size="6.4" stroke="#000" stroke-width="0.15">10<tspan dx="0.77" dy="-3.33" font-size="5.76">3</tspan></text>
<text x="220.29" y="897.6" font-size="6.4" stroke="#000" stroke-width="0.15">10<tspan dx="0.77" dy="-3.33" font-size="5.76">4</tspan></text>
<text x="160.2" y="891.41" font-size="6.4" transform="rotate(-90 160.2 891.41)" stroke="#000" stroke-width="0.15">10<tspan dx="0.77" dy="-3.33" font-size="5.76">0</tspan></text>
<text x="160.2" y="877.21" font-size="6.4" transform="rotate(-90 160.2 877.21)" stroke="#000" stroke-width="0.15">10<tspan dx="0.77" dy="-3.33" font-size="5.76">1</tspan></text>
<text x="160.2" y="863.01" font-size="6.4" transform="rotate(-90 160.2 863.01)" stroke="#000" stroke-width="0.15">10<tspan dx="0.77" dy="-3.33" font-size="5.76">2</tspan></text>
<text x="160.2" y="848.81" font-size="6.4" transform="rotate(-90 160.2 848.81)" stroke="#000" stroke-width="0.15">10<tspan dx="0.77" dy="-3.33" font-size="5.76">3</tspan></text>
<text x="160.2" y="834.61" font-size="6.4" transform="rotate(-90 160.2 834.61)" stroke="#000" stroke-width="0.15">10<tspan dx="0.77" dy="-3.33" font-size="5.76">4</tspan></text>
<text x="194.85" y="903.5" font-size="6.3" textLength="28.5" lengthAdjust="spacingAndGlyphs" text-anchor="middle" stroke="#000" stroke-width="0.2">FL1-Height</text>
<text x="152.5" y="859.1" font-size="6.3" textLength="32" lengthAdjust="spacingAndGlyphs" transform="rotate(-90 152.5 859.1)" text-anchor="middle" stroke="#000" stroke-width="0.2">FL2-HLA/DR</text>
<path d="M260 832h1v1h-1zM260 833h1v1h-1zM260 834h1v1h-1zM260 835h3v1h-3zM267 835h1v1h-1zM274 835h1v1h-1zM260 836h2v1h-2zM264 836h1v1h-1zM268 836h1v1h-1zM272 836h4v1h-4zM279 836h1v1h-1zM260 837h2v1h-2zM264 837h5v1h-5zM270 837h2v1h-2zM274 837h3v1h-3zM260 838h18v1h-18zM280 838h2v1h-2zM291 838h1v1h-1zM260 839h13v1h-13zM275 839h1v1h-1zM277 839h2v1h-2zM260 840h18v1h-18zM280 840h1v1h-1zM260 841h20v1h-20zM260 842h21v1h-21zM260 843h5v1h-5zM266 843h15v1h-15zM260 844h21v1h-21zM282 844h1v1h-1zM260 845h23v1h-23zM260 846h22v1h-22zM260 847h23v1h-23zM284 847h1v1h-1zM260 848h25v1h-25zM286 848h1v1h-1zM288 848h1v1h-1zM260 849h23v1h-23zM260 850h24v1h-24zM260 851h25v1h-25zM260 852h24v1h-24zM285 852h2v1h-2zM260 853h3v1h-3zM264 853h4v1h-4zM269 853h18v1h-18zM290 853h1v1h-1zM260 854h3v1h-3zM264 854h10v1h-10zM275 854h10v1h-10zM260 855h27v1h-27zM260 856h25v1h-25zM260 857h24v1h-24zM260 858h24v1h-24zM260 859h23v1h-23zM260 860h15v1h-15zM276 860h8v1h-8zM286 860h1v1h-1zM260 861h16v1h-16zM277 861h6v1h-6zM260 862h22v1h-22zM260 863h20v1h-20zM281 863h1v1h-1zM260 864h20v1h-20zM260 865h18v1h-18zM279 865h1v1h-1zM260 866h4v1h-4zM265 866h10v1h-10zM277 866h1v1h-1zM260 867h17v1h-17zM260 868h18v1h-18zM260 869h17v1h-17zM260 870h14v1h-14zM260 871h4v1h-4zM265 871h7v1h-7zM273 871h1v1h-1zM260 872h11v1h-11zM273 872h1v1h-1zM260 873h10v1h-10zM277 873h1v1h-1zM260 874h11v1h-11zM260 875h9v1h-9zM270 875h1v1h-1zM260 876h10v1h-10zM272 876h1v1h-1zM260 877h8v1h-8zM269 877h1v1h-1zM260 878h6v1h-6zM260 879h5v1h-5zM260 880h7v1h-7zM260 881h4v1h-4zM260 882h3v1h-3zM264 882h1v1h-1zM260 883h2v1h-2z" fill="#000"/>
<rect x="259.5" y="830.7" width="60.3" height="56.8" fill="none" stroke="#000" stroke-width="1.05"/>
<line x1="280.1" y1="830.7" x2="280.1" y2="887.5" stroke="#000" stroke-width="1.05" />
<line x1="259.5" y1="869.3" x2="319.8" y2="869.3" stroke="#000" stroke-width="1.05" />
<path d="M259.5 887.5v2.6M264.04 887.5v1.7M266.69 887.5v1.7M268.58 887.5v1.7M270.04 887.5v1.7M271.23 887.5v1.7M272.24 887.5v1.7M273.11 887.5v1.7M273.89 887.5v1.7M274.57 887.5v2.6M279.11 887.5v1.7M281.77 887.5v1.7M283.65 887.5v1.7M285.11 887.5v1.7M286.31 887.5v1.7M287.31 887.5v1.7M288.19 887.5v1.7M288.96 887.5v1.7M289.65 887.5v2.6M294.19 887.5v1.7M296.84 887.5v1.7M298.73 887.5v1.7M300.19 887.5v1.7M301.38 887.5v1.7M302.39 887.5v1.7M303.26 887.5v1.7M304.04 887.5v1.7M304.73 887.5v2.6M309.26 887.5v1.7M311.92 887.5v1.7M313.8 887.5v1.7M315.26 887.5v1.7M316.46 887.5v1.7M317.46 887.5v1.7M318.34 887.5v1.7M319.11 887.5v1.7M319.8 887.5v2.6M259.5 887.5h-2.6M259.5 883.23h-1.7M259.5 880.72h-1.7M259.5 878.95h-1.7M259.5 877.57h-1.7M259.5 876.45h-1.7M259.5 875.5h-1.7M259.5 874.68h-1.7M259.5 873.95h-1.7M259.5 873.3h-2.6M259.5 869.03h-1.7M259.5 866.52h-1.7M259.5 864.75h-1.7M259.5 863.37h-1.7M259.5 862.25h-1.7M259.5 861.3h-1.7M259.5 860.48h-1.7M259.5 859.75h-1.7M259.5 859.1h-2.6M259.5 854.83h-1.7M259.5 852.32h-1.7M259.5 850.55h-1.7M259.5 849.17h-1.7M259.5 848.05h-1.7M259.5 847.1h-1.7M259.5 846.28h-1.7M259.5 845.55h-1.7M259.5 844.9h-2.6M259.5 840.63h-1.7M259.5 838.12h-1.7M259.5 836.35h-1.7M259.5 834.97h-1.7M259.5 833.85h-1.7M259.5 832.9h-1.7M259.5 832.08h-1.7M259.5 831.35h-1.7M259.5 830.7h-2.6" stroke="#000" stroke-width="1.0" fill="none"/>
<text x="255.59" y="897.6" font-size="6.4" stroke="#000" stroke-width="0.15">10<tspan dx="0.77" dy="-3.33" font-size="5.76">0</tspan></text>
<text x="270.66" y="897.6" font-size="6.4" stroke="#000" stroke-width="0.15">10<tspan dx="0.77" dy="-3.33" font-size="5.76">1</tspan></text>
<text x="285.74" y="897.6" font-size="6.4" stroke="#000" stroke-width="0.15">10<tspan dx="0.77" dy="-3.33" font-size="5.76">2</tspan></text>
<text x="300.81" y="897.6" font-size="6.4" stroke="#000" stroke-width="0.15">10<tspan dx="0.77" dy="-3.33" font-size="5.76">3</tspan></text>
<text x="315.89" y="897.6" font-size="6.4" stroke="#000" stroke-width="0.15">10<tspan dx="0.77" dy="-3.33" font-size="5.76">4</tspan></text>
<text x="254.2" y="891.41" font-size="6.4" transform="rotate(-90 254.2 891.41)" stroke="#000" stroke-width="0.15">10<tspan dx="0.77" dy="-3.33" font-size="5.76">0</tspan></text>
<text x="254.2" y="877.21" font-size="6.4" transform="rotate(-90 254.2 877.21)" stroke="#000" stroke-width="0.15">10<tspan dx="0.77" dy="-3.33" font-size="5.76">1</tspan></text>
<text x="254.2" y="863.01" font-size="6.4" transform="rotate(-90 254.2 863.01)" stroke="#000" stroke-width="0.15">10<tspan dx="0.77" dy="-3.33" font-size="5.76">2</tspan></text>
<text x="254.2" y="848.81" font-size="6.4" transform="rotate(-90 254.2 848.81)" stroke="#000" stroke-width="0.15">10<tspan dx="0.77" dy="-3.33" font-size="5.76">3</tspan></text>
<text x="254.2" y="834.61" font-size="6.4" transform="rotate(-90 254.2 834.61)" stroke="#000" stroke-width="0.15">10<tspan dx="0.77" dy="-3.33" font-size="5.76">4</tspan></text>
<text x="289.65" y="903.5" font-size="6.3" textLength="28.5" lengthAdjust="spacingAndGlyphs" text-anchor="middle" stroke="#000" stroke-width="0.2">FL1-Height</text>
<text x="246.5" y="859.1" font-size="6.3" textLength="27" lengthAdjust="spacingAndGlyphs" transform="rotate(-90 246.5 859.1)" text-anchor="middle" stroke="#000" stroke-width="0.2">FL2-CD1a</text>
<path d="M357 834h2v1h-2zM364 834h1v1h-1zM361 835h2v1h-2zM367 835h1v1h-1zM360 836h1v1h-1zM362 836h1v1h-1zM364 836h2v1h-2zM368 836h1v1h-1zM371 836h1v1h-1zM355 837h1v1h-1zM358 837h15v1h-15zM355 838h19v1h-19zM355 839h18v1h-18zM374 839h1v1h-1zM356 840h19v1h-19zM386 840h1v1h-1zM355 841h21v1h-21zM377 841h1v1h-1zM355 842h1v1h-1zM357 842h19v1h-19zM355 843h21v1h-21zM357 844h21v1h-21zM356 845h6v1h-6zM364 845h13v1h-13zM355 846h22v1h-22zM378 846h1v1h-1zM380 846h1v1h-1zM389 846h1v1h-1zM356 847h21v1h-21zM355 848h3v1h-3zM359 848h13v1h-13zM373 848h3v1h-3zM355 849h23v1h-23zM355 850h23v1h-23zM397 850h1v1h-1zM356 851h22v1h-22zM356 852h6v1h-6zM363 852h15v1h-15zM392 852h1v1h-1zM355 853h3v1h-3zM359 853h7v1h-7zM367 853h3v1h-3zM371 853h6v1h-6zM356 854h21v1h-21zM356 855h22v1h-22zM380 855h1v1h-1zM355 856h23v1h-23zM357 857h20v1h-20zM379 857h1v1h-1zM386 857h1v1h-1zM355 858h8v1h-8zM364 858h15v1h-15zM381 858h1v1h-1zM355 859h23v1h-23zM355 860h25v1h-25zM355 861h23v1h-23zM379 861h1v1h-1zM356 862h6v1h-6zM363 862h15v1h-15zM379 862h1v1h-1zM355 863h26v1h-26zM355 864h23v1h-23zM380 864h1v1h-1zM355 865h22v1h-22zM380 865h1v1h-1zM355 866h3v1h-3zM359 866h18v1h-18zM356 867h21v1h-21zM355 868h1v1h-1zM357 868h19v1h-19zM378 868h1v1h-1zM356 869h4v1h-4zM362 869h13v1h-13zM376 869h1v1h-1zM355 870h20v1h-20zM376 870h1v1h-1zM356 871h18v1h-18zM356 872h18v1h-18zM356 873h15v1h-15zM373 873h1v1h-1zM356 874h16v1h-16zM355 875h16v1h-16zM372 875h1v1h-1zM355 876h15v1h-15zM355 877h13v1h-13zM369 877h2v1h-2zM355 878h2v1h-2zM358 878h11v1h-11zM356 879h10v1h-10zM355 880h12v1h-12zM356 881h9v1h-9zM356 882h8v1h-8zM355 883h7v1h-7zM364 883h1v1h-1zM355 884h6v1h-6zM357 885h5v1h-5zM355 886h5v1h-5z" fill="#000"/>
<rect x="355.2" y="830.9" width="61" height="56.6" fill="none" stroke="#000" stroke-width="1.05"/>
<line x1="376.4" y1="830.9" x2="376.4" y2="887.5" stroke="#000" stroke-width="1.05" />
<line x1="355.2" y1="869.1" x2="416.2" y2="869.1" stroke="#000" stroke-width="1.05" />
<path d="M355.2 887.5v2.6M359.79 887.5v1.7M362.48 887.5v1.7M364.38 887.5v1.7M365.86 887.5v1.7M367.07 887.5v1.7M368.09 887.5v1.7M368.97 887.5v1.7M369.75 887.5v1.7M370.45 887.5v2.6M375.04 887.5v1.7M377.73 887.5v1.7M379.63 887.5v1.7M381.11 887.5v1.7M382.32 887.5v1.7M383.34 887.5v1.7M384.22 887.5v1.7M385 887.5v1.7M385.7 887.5v2.6M390.29 887.5v1.7M392.98 887.5v1.7M394.88 887.5v1.7M396.36 887.5v1.7M397.57 887.5v1.7M398.59 887.5v1.7M399.47 887.5v1.7M400.25 887.5v1.7M400.95 887.5v2.6M405.54 887.5v1.7M408.23 887.5v1.7M410.13 887.5v1.7M411.61 887.5v1.7M412.82 887.5v1.7M413.84 887.5v1.7M414.72 887.5v1.7M415.5 887.5v1.7M416.2 887.5v2.6M355.2 887.5h-2.6M355.2 883.24h-1.7M355.2 880.75h-1.7M355.2 878.98h-1.7M355.2 877.61h-1.7M355.2 876.49h-1.7M355.2 875.54h-1.7M355.2 874.72h-1.7M355.2 874h-1.7M355.2 873.35h-2.6M355.2 869.09h-1.7M355.2 866.6h-1.7M355.2 864.83h-1.7M355.2 863.46h-1.7M355.2 862.34h-1.7M355.2 861.39h-1.7M355.2 860.57h-1.7M355.2 859.85h-1.7M355.2 859.2h-2.6M355.2 854.94h-1.7M355.2 852.45h-1.7M355.2 850.68h-1.7M355.2 849.31h-1.7M355.2 848.19h-1.7M355.2 847.24h-1.7M355.2 846.42h-1.7M355.2 845.7h-1.7M355.2 845.05h-2.6M355.2 840.79h-1.7M355.2 838.3h-1.7M355.2 836.53h-1.7M355.2 835.16h-1.7M355.2 834.04h-1.7M355.2 833.09h-1.7M355.2 832.27h-1.7M355.2 831.55h-1.7M355.2 830.9h-2.6" stroke="#000" stroke-width="1.0" fill="none"/>
<text x="351.29" y="897.6" font-size="6.4" stroke="#000" stroke-width="0.15">10<tspan dx="0.77" dy="-3.33" font-size="5.76">0</tspan></text>
<text x="366.54" y="897.6" font-size="6.4" stroke="#000" stroke-width="0.15">10<tspan dx="0.77" dy="-3.33" font-size="5.76">1</tspan></text>
<text x="381.79" y="897.6" font-size="6.4" stroke="#000" stroke-width="0.15">10<tspan dx="0.77" dy="-3.33" font-size="5.76">2</tspan></text>
<text x="397.04" y="897.6" font-size="6.4" stroke="#000" stroke-width="0.15">10<tspan dx="0.77" dy="-3.33" font-size="5.76">3</tspan></text>
<text x="412.29" y="897.6" font-size="6.4" stroke="#000" stroke-width="0.15">10<tspan dx="0.77" dy="-3.33" font-size="5.76">4</tspan></text>
<text x="349.9" y="891.41" font-size="6.4" transform="rotate(-90 349.9 891.41)" stroke="#000" stroke-width="0.15">10<tspan dx="0.77" dy="-3.33" font-size="5.76">0</tspan></text>
<text x="349.9" y="877.26" font-size="6.4" transform="rotate(-90 349.9 877.26)" stroke="#000" stroke-width="0.15">10<tspan dx="0.77" dy="-3.33" font-size="5.76">1</tspan></text>
<text x="349.9" y="863.11" font-size="6.4" transform="rotate(-90 349.9 863.11)" stroke="#000" stroke-width="0.15">10<tspan dx="0.77" dy="-3.33" font-size="5.76">2</tspan></text>
<text x="349.9" y="848.96" font-size="6.4" transform="rotate(-90 349.9 848.96)" stroke="#000" stroke-width="0.15">10<tspan dx="0.77" dy="-3.33" font-size="5.76">3</tspan></text>
<text x="349.9" y="834.81" font-size="6.4" transform="rotate(-90 349.9 834.81)" stroke="#000" stroke-width="0.15">10<tspan dx="0.77" dy="-3.33" font-size="5.76">4</tspan></text>
<text x="385.7" y="903.5" font-size="6.3" textLength="28.5" lengthAdjust="spacingAndGlyphs" text-anchor="middle" stroke="#000" stroke-width="0.2">FL1-Height</text>
<text x="342.2" y="859.2" font-size="6.3" textLength="25" lengthAdjust="spacingAndGlyphs" transform="rotate(-90 342.2 859.2)" text-anchor="middle" stroke="#000" stroke-width="0.2">CD86-PE</text>
<path d="M454 840h1v1h-1zM462 840h1v1h-1zM458 841h1v1h-1zM473 841h1v1h-1zM453 842h1v1h-1zM457 842h1v1h-1zM463 842h2v1h-2zM467 842h2v1h-2zM473 842h1v1h-1zM455 843h1v1h-1zM458 843h1v1h-1zM462 843h1v1h-1zM464 843h1v1h-1zM466 843h4v1h-4zM471 843h1v1h-1zM473 843h3v1h-3zM454 844h1v1h-1zM456 844h16v1h-16zM473 844h1v1h-1zM452 845h1v1h-1zM456 845h12v1h-12zM469 845h3v1h-3zM473 845h1v1h-1zM453 846h4v1h-4zM458 846h16v1h-16zM478 846h1v1h-1zM453 847h3v1h-3zM457 847h18v1h-18zM476 847h2v1h-2zM453 848h23v1h-23zM479 848h1v1h-1zM453 849h24v1h-24zM479 849h1v1h-1zM453 850h26v1h-26zM452 851h28v1h-28zM490 851h1v1h-1zM452 852h28v1h-28zM481 852h1v1h-1zM453 853h25v1h-25zM479 853h1v1h-1zM453 854h24v1h-24zM478 854h1v1h-1zM481 854h1v1h-1zM452 855h25v1h-25zM480 855h1v1h-1zM452 856h27v1h-27zM484 856h1v1h-1zM453 857h1v1h-1zM455 857h8v1h-8zM464 857h15v1h-15zM452 858h12v1h-12zM465 858h12v1h-12zM479 858h2v1h-2zM452 859h25v1h-25zM452 860h24v1h-24zM477 860h1v1h-1zM453 861h24v1h-24zM478 861h1v1h-1zM452 862h25v1h-25zM452 863h23v1h-23zM476 863h1v1h-1zM453 864h23v1h-23zM453 865h9v1h-9zM463 865h12v1h-12zM452 866h1v1h-1zM454 866h20v1h-20zM452 867h20v1h-20zM452 868h16v1h-16zM469 868h3v1h-3zM473 868h1v1h-1zM452 869h21v1h-21zM452 870h1v1h-1zM454 870h9v1h-9zM464 870h5v1h-5zM470 870h1v1h-1zM472 870h1v1h-1zM453 871h4v1h-4zM458 871h12v1h-12zM452 872h17v1h-17zM453 873h4v1h-4zM458 873h11v1h-11zM452 874h15v1h-15zM452 875h10v1h-10zM463 875h3v1h-3zM453 876h14v1h-14zM453 877h1v1h-1zM455 877h9v1h-9zM467 877h1v1h-1zM453 878h13v1h-13zM452 879h10v1h-10zM466 879h1v1h-1zM452 880h11v1h-11zM452 881h10v1h-10zM452 882h3v1h-3zM456 882h5v1h-5zM452 883h8v1h-8zM452 884h8v1h-8zM452 885h1v1h-1zM454 885h5v1h-5zM453 886h4v1h-4z" fill="#000"/>
<rect x="452.2" y="831.2" width="62.3" height="56.3" fill="none" stroke="#000" stroke-width="1.05"/>
<line x1="473.6" y1="831.2" x2="473.6" y2="887.5" stroke="#000" stroke-width="1.05" />
<line x1="452.2" y1="869.3" x2="514.5" y2="869.3" stroke="#000" stroke-width="1.05" />
<path d="M452.2 887.5v2.6M456.89 887.5v1.7M459.63 887.5v1.7M461.58 887.5v1.7M463.09 887.5v1.7M464.32 887.5v1.7M465.36 887.5v1.7M466.27 887.5v1.7M467.06 887.5v1.7M467.77 887.5v2.6M472.46 887.5v1.7M475.21 887.5v1.7M477.15 887.5v1.7M478.66 887.5v1.7M479.89 887.5v1.7M480.94 887.5v1.7M481.84 887.5v1.7M482.64 887.5v1.7M483.35 887.5v2.6M488.04 887.5v1.7M490.78 887.5v1.7M492.73 887.5v1.7M494.24 887.5v1.7M495.47 887.5v1.7M496.51 887.5v1.7M497.42 887.5v1.7M498.21 887.5v1.7M498.93 887.5v2.6M503.61 887.5v1.7M506.36 887.5v1.7M508.3 887.5v1.7M509.81 887.5v1.7M511.04 887.5v1.7M512.09 887.5v1.7M512.99 887.5v1.7M513.79 887.5v1.7M514.5 887.5v2.6M452.2 887.5h-2.6M452.2 883.26h-1.7M452.2 880.78h-1.7M452.2 879.03h-1.7M452.2 877.66h-1.7M452.2 876.55h-1.7M452.2 875.61h-1.7M452.2 874.79h-1.7M452.2 874.07h-1.7M452.2 873.42h-2.6M452.2 869.19h-1.7M452.2 866.71h-1.7M452.2 864.95h-1.7M452.2 863.59h-1.7M452.2 862.47h-1.7M452.2 861.53h-1.7M452.2 860.71h-1.7M452.2 859.99h-1.7M452.2 859.35h-2.6M452.2 855.11h-1.7M452.2 852.63h-1.7M452.2 850.88h-1.7M452.2 849.51h-1.7M452.2 848.4h-1.7M452.2 847.46h-1.7M452.2 846.64h-1.7M452.2 845.92h-1.7M452.2 845.28h-2.6M452.2 841.04h-1.7M452.2 838.56h-1.7M452.2 836.8h-1.7M452.2 835.44h-1.7M452.2 834.32h-1.7M452.2 833.38h-1.7M452.2 832.56h-1.7M452.2 831.84h-1.7M452.2 831.2h-2.6" stroke="#000" stroke-width="1.0" fill="none"/>
<text x="448.29" y="897.6" font-size="6.4" stroke="#000" stroke-width="0.15">10<tspan dx="0.77" dy="-3.33" font-size="5.76">0</tspan></text>
<text x="463.86" y="897.6" font-size="6.4" stroke="#000" stroke-width="0.15">10<tspan dx="0.77" dy="-3.33" font-size="5.76">1</tspan></text>
<text x="479.44" y="897.6" font-size="6.4" stroke="#000" stroke-width="0.15">10<tspan dx="0.77" dy="-3.33" font-size="5.76">2</tspan></text>
<text x="495.01" y="897.6" font-size="6.4" stroke="#000" stroke-width="0.15">10<tspan dx="0.77" dy="-3.33" font-size="5.76">3</tspan></text>
<text x="510.59" y="897.6" font-size="6.4" stroke="#000" stroke-width="0.15">10<tspan dx="0.77" dy="-3.33" font-size="5.76">4</tspan></text>
<text x="446.9" y="891.41" font-size="6.4" transform="rotate(-90 446.9 891.41)" stroke="#000" stroke-width="0.15">10<tspan dx="0.77" dy="-3.33" font-size="5.76">0</tspan></text>
<text x="446.9" y="877.34" font-size="6.4" transform="rotate(-90 446.9 877.34)" stroke="#000" stroke-width="0.15">10<tspan dx="0.77" dy="-3.33" font-size="5.76">1</tspan></text>
<text x="446.9" y="863.26" font-size="6.4" transform="rotate(-90 446.9 863.26)" stroke="#000" stroke-width="0.15">10<tspan dx="0.77" dy="-3.33" font-size="5.76">2</tspan></text>
<text x="446.9" y="849.19" font-size="6.4" transform="rotate(-90 446.9 849.19)" stroke="#000" stroke-width="0.15">10<tspan dx="0.77" dy="-3.33" font-size="5.76">3</tspan></text>
<text x="446.9" y="835.11" font-size="6.4" transform="rotate(-90 446.9 835.11)" stroke="#000" stroke-width="0.15">10<tspan dx="0.77" dy="-3.33" font-size="5.76">4</tspan></text>
<text x="483.35" y="903.5" font-size="6.3" textLength="28.5" lengthAdjust="spacingAndGlyphs" text-anchor="middle" stroke="#000" stroke-width="0.2">FL1-Height</text>
<text x="439.2" y="859.35" font-size="6.3" textLength="27" lengthAdjust="spacingAndGlyphs" transform="rotate(-90 439.2 859.35)" text-anchor="middle" stroke="#000" stroke-width="0.2">FL2-CD80</text>
<path d="M116 941h1v1h-1zM110 943h1v1h-1zM102 949h1v1h-1zM102 950h2v1h-2zM114 950h1v1h-1zM101 951h3v1h-3zM100 952h4v1h-4zM99 953h5v1h-5zM99 954h5v1h-5zM96 955h1v1h-1zM98 955h6v1h-6zM111 955h2v1h-2zM116 955h1v1h-1zM118 955h1v1h-1zM96 956h3v1h-3zM100 956h2v1h-2zM103 956h1v1h-1zM110 956h1v1h-1zM112 956h1v1h-1zM115 956h1v1h-1zM96 957h7v1h-7zM104 957h1v1h-1zM107 957h1v1h-1zM110 957h1v1h-1zM116 957h1v1h-1zM121 957h1v1h-1zM95 958h8v1h-8zM105 958h1v1h-1zM112 958h3v1h-3zM119 958h1v1h-1zM93 959h11v1h-11zM106 959h1v1h-1zM109 959h1v1h-1zM112 959h1v1h-1zM116 959h1v1h-1zM118 959h1v1h-1zM91 960h1v1h-1zM93 960h11v1h-11zM105 960h1v1h-1zM113 960h1v1h-1zM115 960h1v1h-1zM121 960h1v1h-1zM92 961h13v1h-13zM111 961h1v1h-1zM115 961h1v1h-1zM118 961h2v1h-2zM122 961h1v1h-1zM90 962h9v1h-9zM100 962h7v1h-7zM108 962h5v1h-5zM114 962h1v1h-1zM118 962h1v1h-1zM120 962h2v1h-2zM123 962h1v1h-1zM88 963h1v1h-1zM90 963h27v1h-27zM120 963h2v1h-2zM124 963h1v1h-1zM86 964h1v1h-1zM88 964h35v1h-35zM86 965h16v1h-16zM103 965h1v1h-1zM106 965h15v1h-15zM124 965h2v1h-2zM82 966h2v1h-2zM87 966h1v1h-1zM89 966h26v1h-26zM116 966h4v1h-4zM121 966h1v1h-1zM123 966h2v1h-2zM77 967h1v1h-1zM79 967h2v1h-2zM82 967h3v1h-3zM86 967h1v1h-1zM88 967h34v1h-34zM124 967h1v1h-1zM126 967h1v1h-1zM78 968h1v1h-1zM81 968h1v1h-1zM85 968h39v1h-39zM76 969h2v1h-2zM80 969h2v1h-2zM84 969h2v1h-2zM87 969h5v1h-5zM93 969h31v1h-31zM125 969h1v1h-1zM77 970h5v1h-5zM83 970h14v1h-14zM98 970h2v1h-2zM102 970h23v1h-23zM77 971h7v1h-7zM85 971h10v1h-10zM96 971h2v1h-2zM99 971h6v1h-6zM106 971h16v1h-16zM124 971h1v1h-1zM126 971h1v1h-1zM80 972h5v1h-5zM86 972h41v1h-41zM77 973h5v1h-5zM84 973h35v1h-35zM120 973h2v1h-2zM78 974h32v1h-32zM111 974h9v1h-9zM121 974h1v1h-1zM125 974h1v1h-1zM77 975h1v1h-1zM79 975h6v1h-6zM86 975h35v1h-35zM122 975h1v1h-1zM78 976h1v1h-1zM80 976h1v1h-1zM83 976h2v1h-2zM86 976h38v1h-38zM78 977h1v1h-1zM80 977h13v1h-13zM94 977h28v1h-28zM77 978h1v1h-1zM79 978h4v1h-4zM84 978h13v1h-13zM98 978h22v1h-22zM121 978h1v1h-1zM77 979h1v1h-1zM80 979h3v1h-3zM86 979h1v1h-1zM89 979h1v1h-1zM91 979h31v1h-31zM87 980h1v1h-1zM92 980h4v1h-4zM97 980h1v1h-1zM100 980h1v1h-1zM102 980h2v1h-2zM106 980h1v1h-1zM108 980h2v1h-2zM111 980h4v1h-4zM118 980h2v1h-2z" fill="#000"/>
<rect x="76.3" y="922.5" width="51.9" height="58.1" fill="none" stroke="#000" stroke-width="1.05"/>
<line x1="94.2" y1="922.5" x2="94.2" y2="980.6" stroke="#000" stroke-width="1.05" />
<line x1="76.3" y1="961.8" x2="128.2" y2="961.8" stroke="#000" stroke-width="1.05" />
<path d="M76.3 980.6v2.6M80.21 980.6v1.7M82.49 980.6v1.7M84.11 980.6v1.7M85.37 980.6v1.7M86.4 980.6v1.7M87.27 980.6v1.7M88.02 980.6v1.7M88.68 980.6v1.7M89.27 980.6v2.6M93.18 980.6v1.7M95.47 980.6v1.7M97.09 980.6v1.7M98.34 980.6v1.7M99.37 980.6v1.7M100.24 980.6v1.7M100.99 980.6v1.7M101.66 980.6v1.7M102.25 980.6v2.6M106.16 980.6v1.7M108.44 980.6v1.7M110.06 980.6v1.7M111.32 980.6v1.7M112.35 980.6v1.7M113.22 980.6v1.7M113.97 980.6v1.7M114.63 980.6v1.7M115.22 980.6v2.6M119.13 980.6v1.7M121.42 980.6v1.7M123.04 980.6v1.7M124.29 980.6v1.7M125.32 980.6v1.7M126.19 980.6v1.7M126.94 980.6v1.7M127.61 980.6v1.7M128.2 980.6v2.6M76.3 980.6h-2.6M76.3 976.23h-1.7M76.3 973.67h-1.7M76.3 971.86h-1.7M76.3 970.45h-1.7M76.3 969.3h-1.7M76.3 968.32h-1.7M76.3 967.48h-1.7M76.3 966.74h-1.7M76.3 966.08h-2.6M76.3 961.7h-1.7M76.3 959.14h-1.7M76.3 957.33h-1.7M76.3 955.92h-1.7M76.3 954.77h-1.7M76.3 953.8h-1.7M76.3 952.96h-1.7M76.3 952.21h-1.7M76.3 951.55h-2.6M76.3 947.18h-1.7M76.3 944.62h-1.7M76.3 942.81h-1.7M76.3 941.4h-1.7M76.3 940.25h-1.7M76.3 939.27h-1.7M76.3 938.43h-1.7M76.3 937.69h-1.7M76.3 937.02h-2.6M76.3 932.65h-1.7M76.3 930.09h-1.7M76.3 928.28h-1.7M76.3 926.87h-1.7M76.3 925.72h-1.7M76.3 924.75h-1.7M76.3 923.91h-1.7M76.3 923.16h-1.7M76.3 922.5h-2.6" stroke="#000" stroke-width="1.0" fill="none"/>
<text x="72.39" y="990.7" font-size="6.4" stroke="#000" stroke-width="0.15">10<tspan dx="0.77" dy="-3.33" font-size="5.76">0</tspan></text>
<text x="124.29" y="990.7" font-size="6.4" stroke="#000" stroke-width="0.15">10<tspan dx="0.77" dy="-3.33" font-size="5.76">4</tspan></text>
<text x="71" y="984.51" font-size="6.4" transform="rotate(-90 71 984.51)" stroke="#000" stroke-width="0.15">10<tspan dx="0.77" dy="-3.33" font-size="5.76">0</tspan></text>
<text x="71" y="969.99" font-size="6.4" transform="rotate(-90 71 969.99)" stroke="#000" stroke-width="0.15">10<tspan dx="0.77" dy="-3.33" font-size="5.76">1</tspan></text>
<text x="71" y="955.46" font-size="6.4" transform="rotate(-90 71 955.46)" stroke="#000" stroke-width="0.15">10<tspan dx="0.77" dy="-3.33" font-size="5.76">2</tspan></text>
<text x="71" y="940.94" font-size="6.4" transform="rotate(-90 71 940.94)" stroke="#000" stroke-width="0.15">10<tspan dx="0.77" dy="-3.33" font-size="5.76">3</tspan></text>
<text x="71" y="926.41" font-size="6.4" transform="rotate(-90 71 926.41)" stroke="#000" stroke-width="0.15">10<tspan dx="0.77" dy="-3.33" font-size="5.76">4</tspan></text>
<text x="102.25" y="996.6" font-size="6.3" textLength="65" lengthAdjust="spacingAndGlyphs" text-anchor="middle" stroke="#000" stroke-width="0.2">FL1-EGFP fluorescence</text>
<text x="63.3" y="951.55" font-size="6.3" textLength="30" lengthAdjust="spacingAndGlyphs" transform="rotate(-90 63.3 951.55)" text-anchor="middle" stroke="#000" stroke-width="0.2">FL2-Height</text>
<path d="M197 923h15v1h-15zM165 924h2v1h-2zM171 924h2v1h-2zM177 924h2v1h-2zM184 924h1v1h-1zM186 924h1v1h-1zM193 924h2v1h-2zM196 924h16v1h-16zM167 925h2v1h-2zM170 925h3v1h-3zM176 925h2v1h-2zM179 925h1v1h-1zM181 925h4v1h-4zM193 925h1v1h-1zM195 925h14v1h-14zM210 925h2v1h-2zM165 926h4v1h-4zM170 926h6v1h-6zM180 926h3v1h-3zM184 926h4v1h-4zM195 926h19v1h-19zM166 927h2v1h-2zM169 927h1v1h-1zM173 927h2v1h-2zM178 927h1v1h-1zM182 927h1v1h-1zM184 927h1v1h-1zM188 927h1v1h-1zM192 927h2v1h-2zM195 927h19v1h-19zM166 928h2v1h-2zM169 928h2v1h-2zM172 928h1v1h-1zM174 928h2v1h-2zM178 928h2v1h-2zM181 928h6v1h-6zM191 928h22v1h-22zM166 929h1v1h-1zM168 929h2v1h-2zM171 929h2v1h-2zM176 929h2v1h-2zM179 929h9v1h-9zM189 929h4v1h-4zM194 929h10v1h-10zM205 929h7v1h-7zM167 930h1v1h-1zM170 930h5v1h-5zM178 930h1v1h-1zM180 930h1v1h-1zM182 930h6v1h-6zM189 930h24v1h-24zM166 931h1v1h-1zM173 931h5v1h-5zM180 931h4v1h-4zM185 931h28v1h-28zM166 932h1v1h-1zM168 932h1v1h-1zM171 932h4v1h-4zM176 932h2v1h-2zM180 932h1v1h-1zM182 932h9v1h-9zM192 932h19v1h-19zM166 933h6v1h-6zM173 933h1v1h-1zM176 933h3v1h-3zM180 933h2v1h-2zM183 933h1v1h-1zM185 933h27v1h-27zM166 934h2v1h-2zM170 934h3v1h-3zM174 934h3v1h-3zM180 934h1v1h-1zM185 934h27v1h-27zM166 935h1v1h-1zM171 935h2v1h-2zM174 935h1v1h-1zM177 935h4v1h-4zM182 935h1v1h-1zM184 935h26v1h-26zM166 936h1v1h-1zM168 936h2v1h-2zM172 936h1v1h-1zM174 936h2v1h-2zM177 936h1v1h-1zM180 936h2v1h-2zM184 936h1v1h-1zM186 936h25v1h-25zM213 936h1v1h-1zM169 937h4v1h-4zM174 937h1v1h-1zM176 937h1v1h-1zM178 937h2v1h-2zM182 937h27v1h-27zM210 937h2v1h-2zM165 938h4v1h-4zM172 938h2v1h-2zM175 938h4v1h-4zM181 938h1v1h-1zM183 938h1v1h-1zM185 938h1v1h-1zM187 938h21v1h-21zM165 939h1v1h-1zM169 939h4v1h-4zM174 939h2v1h-2zM177 939h3v1h-3zM181 939h2v1h-2zM184 939h22v1h-22zM209 939h1v1h-1zM216 939h1v1h-1zM165 940h3v1h-3zM169 940h1v1h-1zM172 940h10v1h-10zM183 940h24v1h-24zM208 940h1v1h-1zM165 941h1v1h-1zM167 941h1v1h-1zM170 941h1v1h-1zM172 941h1v1h-1zM177 941h3v1h-3zM181 941h1v1h-1zM183 941h1v1h-1zM185 941h12v1h-12zM198 941h7v1h-7zM206 941h1v1h-1zM210 941h1v1h-1zM215 941h1v1h-1zM167 942h3v1h-3zM171 942h2v1h-2zM176 942h1v1h-1zM178 942h3v1h-3zM182 942h18v1h-18zM201 942h1v1h-1zM206 942h2v1h-2zM212 942h1v1h-1zM217 942h1v1h-1zM166 943h2v1h-2zM173 943h2v1h-2zM176 943h2v1h-2zM180 943h4v1h-4zM186 943h9v1h-9zM196 943h3v1h-3zM200 943h1v1h-1zM209 943h1v1h-1zM212 943h2v1h-2zM166 944h4v1h-4zM171 944h3v1h-3zM176 944h1v1h-1zM180 944h3v1h-3zM185 944h10v1h-10zM196 944h1v1h-1zM198 944h2v1h-2zM205 944h1v1h-1zM207 944h1v1h-1zM215 944h1v1h-1zM170 945h1v1h-1zM172 945h2v1h-2zM175 945h1v1h-1zM178 945h7v1h-7zM186 945h13v1h-13zM215 945h1v1h-1zM167 946h5v1h-5zM174 946h1v1h-1zM176 946h1v1h-1zM178 946h1v1h-1zM181 946h4v1h-4zM186 946h3v1h-3zM190 946h9v1h-9zM210 946h1v1h-1zM167 947h3v1h-3zM172 947h2v1h-2zM175 947h2v1h-2zM178 947h1v1h-1zM180 947h1v1h-1zM182 947h3v1h-3zM186 947h9v1h-9zM196 947h3v1h-3zM205 947h2v1h-2zM209 947h1v1h-1zM165 948h5v1h-5zM172 948h5v1h-5zM178 948h3v1h-3zM184 948h1v1h-1zM186 948h10v1h-10zM167 949h1v1h-1zM169 949h2v1h-2zM173 949h6v1h-6zM180 949h2v1h-2zM183 949h1v1h-1zM186 949h1v1h-1zM188 949h2v1h-2zM191 949h3v1h-3zM196 949h1v1h-1zM206 949h1v1h-1zM166 950h1v1h-1zM169 950h1v1h-1zM173 950h4v1h-4zM178 950h5v1h-5zM186 950h7v1h-7zM194 950h1v1h-1zM196 950h1v1h-1zM211 950h1v1h-1zM167 951h4v1h-4zM173 951h5v1h-5zM182 951h1v1h-1zM186 951h10v1h-10zM204 951h1v1h-1zM167 952h1v1h-1zM171 952h1v1h-1zM173 952h3v1h-3zM177 952h1v1h-1zM179 952h1v1h-1zM181 952h10v1h-10zM192 952h2v1h-2zM195 952h2v1h-2zM206 952h1v1h-1zM166 953h1v1h-1zM168 953h2v1h-2zM171 953h1v1h-1zM174 953h1v1h-1zM176 953h5v1h-5zM182 953h1v1h-1zM186 953h1v1h-1zM188 953h4v1h-4zM193 953h2v1h-2zM196 953h1v1h-1zM166 954h1v1h-1zM168 954h2v1h-2zM171 954h3v1h-3zM176 954h2v1h-2zM180 954h5v1h-5zM186 954h2v1h-2zM189 954h1v1h-1zM192 954h2v1h-2zM195 954h2v1h-2zM166 955h1v1h-1zM169 955h2v1h-2zM172 955h1v1h-1zM175 955h11v1h-11zM187 955h2v1h-2zM190 955h1v1h-1zM192 955h2v1h-2zM195 955h1v1h-1zM167 956h1v1h-1zM169 956h2v1h-2zM172 956h3v1h-3zM176 956h1v1h-1zM181 956h6v1h-6zM188 956h1v1h-1zM190 956h1v1h-1zM192 956h1v1h-1zM194 956h1v1h-1zM167 957h2v1h-2zM170 957h1v1h-1zM173 957h1v1h-1zM175 957h1v1h-1zM177 957h2v1h-2zM181 957h2v1h-2zM184 957h1v1h-1zM190 957h2v1h-2zM193 957h3v1h-3zM197 957h1v1h-1zM166 958h4v1h-4zM171 958h2v1h-2zM174 958h1v1h-1zM176 958h3v1h-3zM180 958h2v1h-2zM183 958h1v1h-1zM186 958h5v1h-5zM192 958h1v1h-1zM194 958h4v1h-4zM166 959h1v1h-1zM170 959h4v1h-4zM175 959h2v1h-2zM179 959h1v1h-1zM181 959h1v1h-1zM183 959h3v1h-3zM188 959h9v1h-9zM166 960h14v1h-14zM181 960h1v1h-1zM183 960h5v1h-5zM191 960h1v1h-1zM194 960h4v1h-4zM167 961h2v1h-2zM170 961h3v1h-3zM174 961h4v1h-4zM179 961h1v1h-1zM182 961h1v1h-1zM185 961h2v1h-2zM188 961h1v1h-1zM190 961h1v1h-1zM192 961h2v1h-2zM197 961h1v1h-1zM170 962h2v1h-2zM176 962h4v1h-4zM186 962h2v1h-2zM189 962h1v1h-1zM191 962h1v1h-1zM193 962h2v1h-2zM171 963h1v1h-1zM173 963h5v1h-5zM180 963h1v1h-1zM182 963h2v1h-2zM185 963h1v1h-1zM187 963h1v1h-1zM189 963h3v1h-3zM197 963h1v1h-1zM166 964h3v1h-3zM175 964h3v1h-3zM179 964h1v1h-1zM184 964h1v1h-1zM189 964h1v1h-1zM191 964h2v1h-2zM194 964h1v1h-1zM167 965h1v1h-1zM169 965h2v1h-2zM174 965h2v1h-2zM178 965h1v1h-1zM182 965h1v1h-1zM187 965h1v1h-1zM190 965h1v1h-1zM195 965h1v1h-1zM197 965h1v1h-1zM172 966h1v1h-1zM178 966h1v1h-1zM185 966h1v1h-1zM187 966h1v1h-1zM193 966h2v1h-2zM169 967h2v1h-2zM182 967h2v1h-2zM190 967h3v1h-3zM194 967h3v1h-3zM168 968h2v1h-2zM176 968h1v1h-1zM178 968h1v1h-1zM181 968h1v1h-1zM191 968h1v1h-1zM194 968h1v1h-1zM171 969h1v1h-1zM177 969h3v1h-3zM182 969h2v1h-2zM188 969h1v1h-1zM191 969h1v1h-1zM196 969h1v1h-1zM167 970h1v1h-1zM169 970h1v1h-1zM171 970h1v1h-1zM173 970h1v1h-1zM179 970h1v1h-1zM186 970h2v1h-2zM194 970h1v1h-1zM165 971h1v1h-1zM169 971h1v1h-1zM172 971h2v1h-2zM177 971h1v1h-1zM181 971h1v1h-1zM185 971h2v1h-2zM192 971h2v1h-2zM195 971h1v1h-1zM170 972h2v1h-2zM181 972h1v1h-1zM183 972h1v1h-1zM190 972h1v1h-1zM192 972h2v1h-2zM196 972h1v1h-1zM168 973h1v1h-1zM171 973h1v1h-1zM175 973h1v1h-1zM178 973h1v1h-1zM183 973h1v1h-1zM187 973h1v1h-1zM190 973h1v1h-1zM192 973h1v1h-1zM194 973h2v1h-2zM168 974h1v1h-1zM171 974h1v1h-1zM173 974h5v1h-5zM180 974h2v1h-2zM187 974h2v1h-2zM191 974h2v1h-2zM167 975h1v1h-1zM169 975h1v1h-1zM171 975h1v1h-1zM173 975h1v1h-1zM175 975h1v1h-1zM179 975h1v1h-1zM181 975h1v1h-1zM185 975h3v1h-3zM190 975h1v1h-1zM168 976h1v1h-1zM177 976h2v1h-2zM182 976h1v1h-1zM184 976h3v1h-3zM188 976h1v1h-1zM191 976h1v1h-1zM193 976h1v1h-1zM167 977h1v1h-1zM169 977h2v1h-2zM172 977h2v1h-2zM177 977h1v1h-1zM179 977h1v1h-1zM185 977h1v1h-1zM187 977h4v1h-4zM194 977h1v1h-1zM166 978h1v1h-1zM174 978h1v1h-1zM183 978h1v1h-1zM185 978h1v1h-1zM167 979h1v1h-1zM169 979h1v1h-1zM172 979h1v1h-1zM174 979h3v1h-3zM183 979h1v1h-1zM185 979h1v1h-1zM188 979h2v1h-2zM191 979h1v1h-1z" fill="#000"/>
<rect x="164.5" y="922.4" width="59" height="58.1" fill="none" stroke="#000" stroke-width="1.05"/>
<line x1="184.8" y1="922.4" x2="184.8" y2="980.5" stroke="#000" stroke-width="1.05" />
<line x1="164.5" y1="961.5" x2="223.5" y2="961.5" stroke="#000" stroke-width="1.05" />
<path d="M164.5 980.5v2.6M168.94 980.5v1.7M171.54 980.5v1.7M173.38 980.5v1.7M174.81 980.5v1.7M175.98 980.5v1.7M176.97 980.5v1.7M177.82 980.5v1.7M178.58 980.5v1.7M179.25 980.5v2.6M183.69 980.5v1.7M186.29 980.5v1.7M188.13 980.5v1.7M189.56 980.5v1.7M190.73 980.5v1.7M191.72 980.5v1.7M192.57 980.5v1.7M193.33 980.5v1.7M194 980.5v2.6M198.44 980.5v1.7M201.04 980.5v1.7M202.88 980.5v1.7M204.31 980.5v1.7M205.48 980.5v1.7M206.47 980.5v1.7M207.32 980.5v1.7M208.08 980.5v1.7M208.75 980.5v2.6M213.19 980.5v1.7M215.79 980.5v1.7M217.63 980.5v1.7M219.06 980.5v1.7M220.23 980.5v1.7M221.22 980.5v1.7M222.07 980.5v1.7M222.83 980.5v1.7M223.5 980.5v2.6M164.5 980.5h-2.6M164.5 976.13h-1.7M164.5 973.57h-1.7M164.5 971.76h-1.7M164.5 970.35h-1.7M164.5 969.2h-1.7M164.5 968.22h-1.7M164.5 967.38h-1.7M164.5 966.64h-1.7M164.5 965.98h-2.6M164.5 961.6h-1.7M164.5 959.04h-1.7M164.5 957.23h-1.7M164.5 955.82h-1.7M164.5 954.67h-1.7M164.5 953.7h-1.7M164.5 952.86h-1.7M164.5 952.11h-1.7M164.5 951.45h-2.6M164.5 947.08h-1.7M164.5 944.52h-1.7M164.5 942.71h-1.7M164.5 941.3h-1.7M164.5 940.15h-1.7M164.5 939.17h-1.7M164.5 938.33h-1.7M164.5 937.59h-1.7M164.5 936.92h-2.6M164.5 932.55h-1.7M164.5 929.99h-1.7M164.5 928.18h-1.7M164.5 926.77h-1.7M164.5 925.62h-1.7M164.5 924.65h-1.7M164.5 923.81h-1.7M164.5 923.06h-1.7M164.5 922.4h-2.6" stroke="#000" stroke-width="1.0" fill="none"/>
<text x="160.59" y="990.6" font-size="6.4" stroke="#000" stroke-width="0.15">10<tspan dx="0.77" dy="-3.33" font-size="5.76">0</tspan></text>
<text x="175.34" y="990.6" font-size="6.4" stroke="#000" stroke-width="0.15">10<tspan dx="0.77" dy="-3.33" font-size="5.76">1</tspan></text>
<text x="190.09" y="990.6" font-size="6.4" stroke="#000" stroke-width="0.15">10<tspan dx="0.77" dy="-3.33" font-size="5.76">2</tspan></text>
<text x="204.84" y="990.6" font-size="6.4" stroke="#000" stroke-width="0.15">10<tspan dx="0.77" dy="-3.33" font-size="5.76">3</tspan></text>
<text x="219.59" y="990.6" font-size="6.4" stroke="#000" stroke-width="0.15">10<tspan dx="0.77" dy="-3.33" font-size="5.76">4</tspan></text>
<text x="159.2" y="984.41" font-size="6.4" transform="rotate(-90 159.2 984.41)" stroke="#000" stroke-width="0.15">10<tspan dx="0.77" dy="-3.33" font-size="5.76">0</tspan></text>
<text x="159.2" y="969.89" font-size="6.4" transform="rotate(-90 159.2 969.89)" stroke="#000" stroke-width="0.15">10<tspan dx="0.77" dy="-3.33" font-size="5.76">1</tspan></text>
<text x="159.2" y="955.36" font-size="6.4" transform="rotate(-90 159.2 955.36)" stroke="#000" stroke-width="0.15">10<tspan dx="0.77" dy="-3.33" font-size="5.76">2</tspan></text>
<text x="159.2" y="940.84" font-size="6.4" transform="rotate(-90 159.2 940.84)" stroke="#000" stroke-width="0.15">10<tspan dx="0.77" dy="-3.33" font-size="5.76">3</tspan></text>
<text x="159.2" y="926.31" font-size="6.4" transform="rotate(-90 159.2 926.31)" stroke="#000" stroke-width="0.15">10<tspan dx="0.77" dy="-3.33" font-size="5.76">4</tspan></text>
<text x="194" y="996.5" font-size="6.3" textLength="28.5" lengthAdjust="spacingAndGlyphs" text-anchor="middle" stroke="#000" stroke-width="0.2">FL1-Height</text>
<text x="151.5" y="951.45" font-size="6.3" textLength="32" lengthAdjust="spacingAndGlyphs" transform="rotate(-90 151.5 951.45)" text-anchor="middle" stroke="#000" stroke-width="0.2">FL2-HLA/DR</text>
<path d="M293 929h1v1h-1zM295 929h1v1h-1zM297 929h1v1h-1zM299 929h1v1h-1zM301 929h2v1h-2zM286 930h1v1h-1zM289 930h1v1h-1zM292 930h13v1h-13zM289 931h7v1h-7zM297 931h6v1h-6zM279 932h1v1h-1zM283 932h1v1h-1zM286 932h4v1h-4zM291 932h16v1h-16zM273 933h3v1h-3zM280 933h1v1h-1zM282 933h1v1h-1zM284 933h22v1h-22zM264 934h1v1h-1zM268 934h5v1h-5zM279 934h2v1h-2zM283 934h3v1h-3zM287 934h19v1h-19zM265 935h4v1h-4zM272 935h1v1h-1zM274 935h2v1h-2zM277 935h8v1h-8zM286 935h22v1h-22zM262 936h1v1h-1zM267 936h3v1h-3zM271 936h1v1h-1zM273 936h4v1h-4zM279 936h2v1h-2zM282 936h1v1h-1zM284 936h14v1h-14zM299 936h8v1h-8zM261 937h4v1h-4zM266 937h1v1h-1zM268 937h2v1h-2zM273 937h4v1h-4zM278 937h1v1h-1zM280 937h5v1h-5zM286 937h22v1h-22zM262 938h1v1h-1zM265 938h1v1h-1zM268 938h3v1h-3zM275 938h2v1h-2zM279 938h4v1h-4zM284 938h1v1h-1zM286 938h21v1h-21zM262 939h3v1h-3zM266 939h2v1h-2zM269 939h2v1h-2zM274 939h1v1h-1zM279 939h2v1h-2zM282 939h1v1h-1zM284 939h24v1h-24zM262 940h3v1h-3zM270 940h1v1h-1zM273 940h1v1h-1zM275 940h3v1h-3zM282 940h1v1h-1zM284 940h6v1h-6zM291 940h8v1h-8zM300 940h3v1h-3zM304 940h3v1h-3zM262 941h4v1h-4zM267 941h7v1h-7zM275 941h4v1h-4zM280 941h2v1h-2zM283 941h8v1h-8zM292 941h6v1h-6zM299 941h8v1h-8zM308 941h1v1h-1zM264 942h4v1h-4zM269 942h2v1h-2zM272 942h2v1h-2zM275 942h3v1h-3zM279 942h3v1h-3zM283 942h23v1h-23zM262 943h2v1h-2zM266 943h1v1h-1zM268 943h1v1h-1zM270 943h1v1h-1zM273 943h1v1h-1zM276 943h1v1h-1zM278 943h2v1h-2zM281 943h1v1h-1zM283 943h1v1h-1zM285 943h22v1h-22zM263 944h1v1h-1zM266 944h1v1h-1zM269 944h1v1h-1zM271 944h3v1h-3zM275 944h4v1h-4zM280 944h5v1h-5zM286 944h5v1h-5zM292 944h15v1h-15zM263 945h1v1h-1zM266 945h1v1h-1zM270 945h6v1h-6zM277 945h1v1h-1zM279 945h1v1h-1zM281 945h2v1h-2zM284 945h9v1h-9zM294 945h13v1h-13zM262 946h3v1h-3zM266 946h1v1h-1zM269 946h1v1h-1zM277 946h1v1h-1zM279 946h1v1h-1zM282 946h1v1h-1zM284 946h20v1h-20zM305 946h1v1h-1zM307 946h1v1h-1zM262 947h3v1h-3zM267 947h3v1h-3zM271 947h3v1h-3zM275 947h5v1h-5zM282 947h1v1h-1zM284 947h18v1h-18zM303 947h3v1h-3zM263 948h3v1h-3zM268 948h1v1h-1zM270 948h1v1h-1zM275 948h15v1h-15zM291 948h15v1h-15zM265 949h1v1h-1zM267 949h2v1h-2zM271 949h2v1h-2zM277 949h2v1h-2zM280 949h1v1h-1zM282 949h23v1h-23zM263 950h4v1h-4zM268 950h1v1h-1zM271 950h1v1h-1zM276 950h2v1h-2zM279 950h2v1h-2zM283 950h1v1h-1zM285 950h21v1h-21zM262 951h1v1h-1zM264 951h1v1h-1zM266 951h1v1h-1zM268 951h6v1h-6zM276 951h1v1h-1zM278 951h2v1h-2zM281 951h1v1h-1zM284 951h19v1h-19zM262 952h1v1h-1zM265 952h6v1h-6zM276 952h3v1h-3zM280 952h8v1h-8zM289 952h13v1h-13zM303 952h1v1h-1zM263 953h1v1h-1zM266 953h1v1h-1zM269 953h3v1h-3zM273 953h1v1h-1zM275 953h7v1h-7zM283 953h18v1h-18zM261 954h2v1h-2zM267 954h1v1h-1zM269 954h1v1h-1zM271 954h1v1h-1zM273 954h28v1h-28zM261 955h1v1h-1zM264 955h2v1h-2zM267 955h2v1h-2zM271 955h5v1h-5zM277 955h23v1h-23zM262 956h1v1h-1zM264 956h3v1h-3zM270 956h9v1h-9zM280 956h16v1h-16zM297 956h1v1h-1zM263 957h1v1h-1zM265 957h2v1h-2zM268 957h2v1h-2zM271 957h1v1h-1zM273 957h2v1h-2zM276 957h4v1h-4zM281 957h16v1h-16zM263 958h3v1h-3zM267 958h4v1h-4zM272 958h1v1h-1zM275 958h2v1h-2zM278 958h2v1h-2zM281 958h16v1h-16zM262 959h1v1h-1zM264 959h2v1h-2zM267 959h2v1h-2zM271 959h1v1h-1zM274 959h1v1h-1zM277 959h3v1h-3zM281 959h13v1h-13zM263 960h3v1h-3zM267 960h2v1h-2zM270 960h1v1h-1zM273 960h1v1h-1zM275 960h3v1h-3zM280 960h12v1h-12zM293 960h1v1h-1zM263 961h4v1h-4zM268 961h3v1h-3zM272 961h2v1h-2zM275 961h1v1h-1zM277 961h10v1h-10zM288 961h7v1h-7zM261 962h4v1h-4zM266 962h1v1h-1zM268 962h3v1h-3zM272 962h1v1h-1zM277 962h16v1h-16zM262 963h1v1h-1zM264 963h1v1h-1zM266 963h3v1h-3zM270 963h5v1h-5zM276 963h1v1h-1zM278 963h3v1h-3zM283 963h4v1h-4zM288 963h5v1h-5zM294 963h1v1h-1zM261 964h1v1h-1zM263 964h4v1h-4zM268 964h1v1h-1zM272 964h1v1h-1zM274 964h1v1h-1zM276 964h1v1h-1zM278 964h1v1h-1zM280 964h16v1h-16zM262 965h2v1h-2zM265 965h9v1h-9zM276 965h2v1h-2zM282 965h13v1h-13zM265 966h1v1h-1zM267 966h1v1h-1zM269 966h2v1h-2zM274 966h6v1h-6zM282 966h8v1h-8zM295 966h1v1h-1zM262 967h1v1h-1zM264 967h1v1h-1zM268 967h3v1h-3zM273 967h3v1h-3zM277 967h1v1h-1zM280 967h1v1h-1zM282 967h3v1h-3zM286 967h1v1h-1zM294 967h1v1h-1zM262 968h3v1h-3zM266 968h2v1h-2zM269 968h4v1h-4zM274 968h1v1h-1zM276 968h2v1h-2zM279 968h1v1h-1zM284 968h1v1h-1zM287 968h1v1h-1zM290 968h1v1h-1zM264 969h1v1h-1zM266 969h6v1h-6zM274 969h4v1h-4zM281 969h1v1h-1zM287 969h1v1h-1zM291 969h1v1h-1zM298 969h1v1h-1zM264 970h4v1h-4zM269 970h1v1h-1zM271 970h1v1h-1zM273 970h2v1h-2zM276 970h1v1h-1zM281 970h1v1h-1zM264 971h1v1h-1zM279 971h1v1h-1zM281 971h1v1h-1zM265 972h1v1h-1zM267 972h1v1h-1zM281 972h1v1h-1zM287 972h1v1h-1zM293 972h1v1h-1zM295 972h1v1h-1zM267 973h1v1h-1zM284 973h2v1h-2zM293 973h1v1h-1zM260 974h1v1h-1zM264 974h1v1h-1zM273 974h1v1h-1zM280 974h1v1h-1zM297 974h1v1h-1zM266 975h1v1h-1zM270 975h1v1h-1zM279 975h3v1h-3zM289 975h1v1h-1zM262 976h1v1h-1zM268 976h3v1h-3zM273 976h1v1h-1zM283 976h1v1h-1zM291 976h1v1h-1zM298 976h1v1h-1zM277 977h1v1h-1zM279 977h1v1h-1zM281 977h1v1h-1zM298 977h1v1h-1zM271 978h1v1h-1zM279 978h1v1h-1zM286 978h1v1h-1zM291 978h1v1h-1zM297 978h1v1h-1zM281 979h1v1h-1zM297 979h1v1h-1z" fill="#000"/>
<rect x="258.5" y="922.7" width="59.7" height="57.8" fill="none" stroke="#000" stroke-width="1.05"/>
<line x1="279.6" y1="922.7" x2="279.6" y2="980.5" stroke="#000" stroke-width="1.05" />
<line x1="258.5" y1="962.3" x2="318.2" y2="962.3" stroke="#000" stroke-width="1.05" />
<path d="M258.5 980.5v2.6M262.99 980.5v1.7M265.62 980.5v1.7M267.49 980.5v1.7M268.93 980.5v1.7M270.11 980.5v1.7M271.11 980.5v1.7M271.98 980.5v1.7M272.74 980.5v1.7M273.43 980.5v2.6M277.92 980.5v1.7M280.55 980.5v1.7M282.41 980.5v1.7M283.86 980.5v1.7M285.04 980.5v1.7M286.04 980.5v1.7M286.9 980.5v1.7M287.67 980.5v1.7M288.35 980.5v2.6M292.84 980.5v1.7M295.47 980.5v1.7M297.34 980.5v1.7M298.78 980.5v1.7M299.96 980.5v1.7M300.96 980.5v1.7M301.83 980.5v1.7M302.59 980.5v1.7M303.27 980.5v2.6M307.77 980.5v1.7M310.4 980.5v1.7M312.26 980.5v1.7M313.71 980.5v1.7M314.89 980.5v1.7M315.89 980.5v1.7M316.75 980.5v1.7M317.52 980.5v1.7M318.2 980.5v2.6M258.5 980.5h-2.6M258.5 976.15h-1.7M258.5 973.61h-1.7M258.5 971.8h-1.7M258.5 970.4h-1.7M258.5 969.26h-1.7M258.5 968.29h-1.7M258.5 967.45h-1.7M258.5 966.71h-1.7M258.5 966.05h-2.6M258.5 961.7h-1.7M258.5 959.16h-1.7M258.5 957.35h-1.7M258.5 955.95h-1.7M258.5 954.81h-1.7M258.5 953.84h-1.7M258.5 953h-1.7M258.5 952.26h-1.7M258.5 951.6h-2.6M258.5 947.25h-1.7M258.5 944.71h-1.7M258.5 942.9h-1.7M258.5 941.5h-1.7M258.5 940.36h-1.7M258.5 939.39h-1.7M258.5 938.55h-1.7M258.5 937.81h-1.7M258.5 937.15h-2.6M258.5 932.8h-1.7M258.5 930.26h-1.7M258.5 928.45h-1.7M258.5 927.05h-1.7M258.5 925.91h-1.7M258.5 924.94h-1.7M258.5 924.1h-1.7M258.5 923.36h-1.7M258.5 922.7h-2.6" stroke="#000" stroke-width="1.0" fill="none"/>
<text x="254.59" y="990.6" font-size="6.4" stroke="#000" stroke-width="0.15">10<tspan dx="0.77" dy="-3.33" font-size="5.76">0</tspan></text>
<text x="269.51" y="990.6" font-size="6.4" stroke="#000" stroke-width="0.15">10<tspan dx="0.77" dy="-3.33" font-size="5.76">1</tspan></text>
<text x="284.44" y="990.6" font-size="6.4" stroke="#000" stroke-width="0.15">10<tspan dx="0.77" dy="-3.33" font-size="5.76">2</tspan></text>
<text x="299.36" y="990.6" font-size="6.4" stroke="#000" stroke-width="0.15">10<tspan dx="0.77" dy="-3.33" font-size="5.76">3</tspan></text>
<text x="314.29" y="990.6" font-size="6.4" stroke="#000" stroke-width="0.15">10<tspan dx="0.77" dy="-3.33" font-size="5.76">4</tspan></text>
<text x="253.2" y="984.41" font-size="6.4" transform="rotate(-90 253.2 984.41)" stroke="#000" stroke-width="0.15">10<tspan dx="0.77" dy="-3.33" font-size="5.76">0</tspan></text>
<text x="253.2" y="969.96" font-size="6.4" transform="rotate(-90 253.2 969.96)" stroke="#000" stroke-width="0.15">10<tspan dx="0.77" dy="-3.33" font-size="5.76">1</tspan></text>
<text x="253.2" y="955.51" font-size="6.4" transform="rotate(-90 253.2 955.51)" stroke="#000" stroke-width="0.15">10<tspan dx="0.77" dy="-3.33" font-size="5.76">2</tspan></text>
<text x="253.2" y="941.06" font-size="6.4" transform="rotate(-90 253.2 941.06)" stroke="#000" stroke-width="0.15">10<tspan dx="0.77" dy="-3.33" font-size="5.76">3</tspan></text>
<text x="253.2" y="926.61" font-size="6.4" transform="rotate(-90 253.2 926.61)" stroke="#000" stroke-width="0.15">10<tspan dx="0.77" dy="-3.33" font-size="5.76">4</tspan></text>
<text x="288.35" y="996.5" font-size="6.3" textLength="28.5" lengthAdjust="spacingAndGlyphs" text-anchor="middle" stroke="#000" stroke-width="0.2">FL1-Height</text>
<text x="245.5" y="951.6" font-size="6.3" textLength="27" lengthAdjust="spacingAndGlyphs" transform="rotate(-90 245.5 951.6)" text-anchor="middle" stroke="#000" stroke-width="0.2">FL2-CD1a</text>
<path d="M400 928h1v1h-1zM401 929h1v1h-1zM397 930h6v1h-6zM393 931h1v1h-1zM395 931h1v1h-1zM398 931h5v1h-5zM404 931h2v1h-2zM390 932h1v1h-1zM392 932h2v1h-2zM395 932h11v1h-11zM391 933h15v1h-15zM356 934h1v1h-1zM358 934h1v1h-1zM363 934h1v1h-1zM366 934h1v1h-1zM370 934h1v1h-1zM389 934h17v1h-17zM356 935h1v1h-1zM360 935h1v1h-1zM363 935h3v1h-3zM367 935h2v1h-2zM370 935h2v1h-2zM373 935h1v1h-1zM375 935h3v1h-3zM380 935h1v1h-1zM390 935h10v1h-10zM401 935h3v1h-3zM356 936h2v1h-2zM362 936h2v1h-2zM366 936h1v1h-1zM370 936h3v1h-3zM374 936h1v1h-1zM378 936h5v1h-5zM387 936h18v1h-18zM358 937h3v1h-3zM362 937h1v1h-1zM364 937h2v1h-2zM368 937h5v1h-5zM376 937h1v1h-1zM378 937h1v1h-1zM380 937h2v1h-2zM383 937h2v1h-2zM388 937h18v1h-18zM407 937h2v1h-2zM357 938h1v1h-1zM359 938h3v1h-3zM364 938h2v1h-2zM367 938h1v1h-1zM371 938h2v1h-2zM374 938h1v1h-1zM377 938h3v1h-3zM382 938h3v1h-3zM386 938h3v1h-3zM390 938h7v1h-7zM398 938h2v1h-2zM401 938h5v1h-5zM356 939h2v1h-2zM360 939h2v1h-2zM363 939h2v1h-2zM368 939h3v1h-3zM373 939h1v1h-1zM377 939h1v1h-1zM379 939h7v1h-7zM387 939h18v1h-18zM357 940h1v1h-1zM359 940h3v1h-3zM363 940h2v1h-2zM366 940h1v1h-1zM369 940h1v1h-1zM374 940h3v1h-3zM379 940h1v1h-1zM383 940h17v1h-17zM402 940h5v1h-5zM356 941h3v1h-3zM360 941h1v1h-1zM362 941h1v1h-1zM364 941h1v1h-1zM366 941h5v1h-5zM372 941h1v1h-1zM377 941h3v1h-3zM384 941h21v1h-21zM357 942h2v1h-2zM360 942h4v1h-4zM365 942h10v1h-10zM376 942h2v1h-2zM379 942h1v1h-1zM381 942h24v1h-24zM356 943h3v1h-3zM361 943h2v1h-2zM364 943h1v1h-1zM366 943h1v1h-1zM368 943h2v1h-2zM371 943h1v1h-1zM373 943h2v1h-2zM379 943h4v1h-4zM384 943h20v1h-20zM355 944h1v1h-1zM359 944h2v1h-2zM362 944h1v1h-1zM364 944h2v1h-2zM368 944h5v1h-5zM374 944h2v1h-2zM378 944h2v1h-2zM382 944h14v1h-14zM397 944h9v1h-9zM358 945h3v1h-3zM362 945h2v1h-2zM367 945h1v1h-1zM369 945h2v1h-2zM372 945h2v1h-2zM375 945h1v1h-1zM378 945h2v1h-2zM381 945h1v1h-1zM384 945h23v1h-23zM358 946h2v1h-2zM361 946h2v1h-2zM365 946h2v1h-2zM369 946h4v1h-4zM375 946h1v1h-1zM377 946h3v1h-3zM381 946h23v1h-23zM356 947h2v1h-2zM359 947h2v1h-2zM362 947h2v1h-2zM365 947h1v1h-1zM367 947h4v1h-4zM375 947h4v1h-4zM382 947h8v1h-8zM391 947h12v1h-12zM404 947h1v1h-1zM356 948h1v1h-1zM359 948h2v1h-2zM362 948h2v1h-2zM367 948h1v1h-1zM371 948h1v1h-1zM373 948h2v1h-2zM376 948h3v1h-3zM380 948h1v1h-1zM383 948h21v1h-21zM407 948h1v1h-1zM358 949h1v1h-1zM362 949h2v1h-2zM365 949h2v1h-2zM368 949h4v1h-4zM373 949h3v1h-3zM377 949h2v1h-2zM380 949h1v1h-1zM382 949h15v1h-15zM398 949h6v1h-6zM405 949h1v1h-1zM357 950h1v1h-1zM359 950h3v1h-3zM363 950h1v1h-1zM367 950h2v1h-2zM370 950h1v1h-1zM372 950h1v1h-1zM374 950h1v1h-1zM377 950h3v1h-3zM382 950h19v1h-19zM403 950h2v1h-2zM357 951h1v1h-1zM363 951h1v1h-1zM365 951h1v1h-1zM368 951h1v1h-1zM370 951h3v1h-3zM380 951h14v1h-14zM395 951h7v1h-7zM356 952h2v1h-2zM359 952h1v1h-1zM361 952h3v1h-3zM367 952h2v1h-2zM372 952h3v1h-3zM376 952h1v1h-1zM378 952h1v1h-1zM380 952h1v1h-1zM382 952h1v1h-1zM384 952h8v1h-8zM393 952h8v1h-8zM402 952h1v1h-1zM357 953h3v1h-3zM365 953h1v1h-1zM367 953h1v1h-1zM369 953h1v1h-1zM374 953h2v1h-2zM377 953h2v1h-2zM382 953h10v1h-10zM393 953h7v1h-7zM402 953h1v1h-1zM356 954h7v1h-7zM366 954h1v1h-1zM369 954h2v1h-2zM374 954h1v1h-1zM376 954h2v1h-2zM380 954h1v1h-1zM382 954h18v1h-18zM356 955h2v1h-2zM360 955h5v1h-5zM366 955h2v1h-2zM371 955h1v1h-1zM373 955h26v1h-26zM357 956h2v1h-2zM362 956h4v1h-4zM368 956h1v1h-1zM370 956h2v1h-2zM375 956h3v1h-3zM381 956h15v1h-15zM356 957h1v1h-1zM358 957h2v1h-2zM362 957h1v1h-1zM365 957h3v1h-3zM369 957h3v1h-3zM373 957h2v1h-2zM376 957h1v1h-1zM379 957h2v1h-2zM382 957h14v1h-14zM397 957h1v1h-1zM355 958h1v1h-1zM357 958h1v1h-1zM359 958h1v1h-1zM361 958h3v1h-3zM365 958h2v1h-2zM371 958h1v1h-1zM374 958h1v1h-1zM377 958h1v1h-1zM379 958h16v1h-16zM397 958h1v1h-1zM357 959h4v1h-4zM362 959h1v1h-1zM364 959h1v1h-1zM367 959h2v1h-2zM370 959h6v1h-6zM377 959h1v1h-1zM379 959h1v1h-1zM381 959h12v1h-12zM356 960h1v1h-1zM358 960h1v1h-1zM361 960h5v1h-5zM368 960h3v1h-3zM374 960h2v1h-2zM377 960h4v1h-4zM382 960h1v1h-1zM384 960h1v1h-1zM386 960h8v1h-8zM356 961h1v1h-1zM359 961h1v1h-1zM361 961h2v1h-2zM365 961h2v1h-2zM371 961h1v1h-1zM374 961h1v1h-1zM376 961h1v1h-1zM379 961h3v1h-3zM383 961h1v1h-1zM385 961h6v1h-6zM392 961h1v1h-1zM394 961h1v1h-1zM360 962h2v1h-2zM365 962h1v1h-1zM367 962h1v1h-1zM370 962h2v1h-2zM373 962h1v1h-1zM375 962h1v1h-1zM377 962h1v1h-1zM379 962h1v1h-1zM381 962h5v1h-5zM388 962h5v1h-5zM394 962h1v1h-1zM355 963h1v1h-1zM359 963h1v1h-1zM364 963h3v1h-3zM369 963h1v1h-1zM371 963h2v1h-2zM374 963h1v1h-1zM377 963h1v1h-1zM379 963h1v1h-1zM381 963h3v1h-3zM386 963h7v1h-7zM394 963h1v1h-1zM357 964h1v1h-1zM359 964h1v1h-1zM362 964h4v1h-4zM369 964h2v1h-2zM372 964h1v1h-1zM374 964h2v1h-2zM377 964h1v1h-1zM379 964h2v1h-2zM385 964h1v1h-1zM389 964h1v1h-1zM391 964h3v1h-3zM357 965h2v1h-2zM360 965h6v1h-6zM369 965h1v1h-1zM372 965h1v1h-1zM375 965h2v1h-2zM378 965h1v1h-1zM382 965h1v1h-1zM384 965h1v1h-1zM387 965h1v1h-1zM390 965h1v1h-1zM357 966h2v1h-2zM360 966h2v1h-2zM363 966h3v1h-3zM369 966h2v1h-2zM373 966h2v1h-2zM381 966h3v1h-3zM386 966h4v1h-4zM392 966h1v1h-1zM356 967h1v1h-1zM361 967h4v1h-4zM367 967h1v1h-1zM370 967h1v1h-1zM372 967h1v1h-1zM374 967h1v1h-1zM376 967h5v1h-5zM383 967h1v1h-1zM385 967h3v1h-3zM389 967h1v1h-1zM355 968h6v1h-6zM362 968h1v1h-1zM365 968h2v1h-2zM368 968h2v1h-2zM374 968h1v1h-1zM377 968h1v1h-1zM379 968h1v1h-1zM381 968h3v1h-3zM386 968h4v1h-4zM356 969h5v1h-5zM364 969h1v1h-1zM366 969h1v1h-1zM368 969h3v1h-3zM372 969h2v1h-2zM376 969h1v1h-1zM380 969h3v1h-3zM384 969h3v1h-3zM388 969h1v1h-1zM356 970h6v1h-6zM364 970h2v1h-2zM367 970h1v1h-1zM369 970h1v1h-1zM371 970h1v1h-1zM375 970h3v1h-3zM379 970h1v1h-1zM381 970h3v1h-3zM386 970h4v1h-4zM356 971h2v1h-2zM359 971h5v1h-5zM366 971h2v1h-2zM369 971h5v1h-5zM375 971h4v1h-4zM380 971h5v1h-5zM386 971h1v1h-1zM357 972h2v1h-2zM361 972h1v1h-1zM363 972h5v1h-5zM371 972h1v1h-1zM373 972h1v1h-1zM375 972h2v1h-2zM378 972h2v1h-2zM381 972h3v1h-3zM356 973h2v1h-2zM359 973h3v1h-3zM363 973h3v1h-3zM369 973h1v1h-1zM372 973h2v1h-2zM376 973h3v1h-3zM380 973h1v1h-1zM382 973h3v1h-3zM357 974h1v1h-1zM359 974h1v1h-1zM362 974h3v1h-3zM366 974h1v1h-1zM369 974h3v1h-3zM374 974h5v1h-5zM380 974h1v1h-1zM384 974h1v1h-1zM357 975h4v1h-4zM363 975h1v1h-1zM365 975h1v1h-1zM368 975h4v1h-4zM376 975h1v1h-1zM380 975h1v1h-1zM382 975h1v1h-1zM357 976h1v1h-1zM359 976h1v1h-1zM361 976h1v1h-1zM363 976h1v1h-1zM366 976h3v1h-3zM370 976h3v1h-3zM357 977h2v1h-2zM360 977h2v1h-2zM363 977h1v1h-1zM365 977h4v1h-4zM370 977h2v1h-2zM355 978h5v1h-5zM361 978h2v1h-2zM355 979h1v1h-1zM365 979h1v1h-1z" fill="#000"/>
<rect x="354.5" y="923" width="61.5" height="57.5" fill="none" stroke="#000" stroke-width="1.05"/>
<line x1="376" y1="923" x2="376" y2="980.5" stroke="#000" stroke-width="1.05" />
<line x1="354.5" y1="962.1" x2="416" y2="962.1" stroke="#000" stroke-width="1.05" />
<path d="M354.5 980.5v2.6M359.13 980.5v1.7M361.84 980.5v1.7M363.76 980.5v1.7M365.25 980.5v1.7M366.46 980.5v1.7M367.49 980.5v1.7M368.39 980.5v1.7M369.17 980.5v1.7M369.88 980.5v2.6M374.5 980.5v1.7M377.21 980.5v1.7M379.13 980.5v1.7M380.62 980.5v1.7M381.84 980.5v1.7M382.87 980.5v1.7M383.76 980.5v1.7M384.55 980.5v1.7M385.25 980.5v2.6M389.88 980.5v1.7M392.59 980.5v1.7M394.51 980.5v1.7M396 980.5v1.7M397.21 980.5v1.7M398.24 980.5v1.7M399.14 980.5v1.7M399.92 980.5v1.7M400.62 980.5v2.6M405.25 980.5v1.7M407.96 980.5v1.7M409.88 980.5v1.7M411.37 980.5v1.7M412.59 980.5v1.7M413.62 980.5v1.7M414.51 980.5v1.7M415.3 980.5v1.7M416 980.5v2.6M354.5 980.5h-2.6M354.5 976.17h-1.7M354.5 973.64h-1.7M354.5 971.85h-1.7M354.5 970.45h-1.7M354.5 969.31h-1.7M354.5 968.35h-1.7M354.5 967.52h-1.7M354.5 966.78h-1.7M354.5 966.12h-2.6M354.5 961.8h-1.7M354.5 959.27h-1.7M354.5 957.47h-1.7M354.5 956.08h-1.7M354.5 954.94h-1.7M354.5 953.98h-1.7M354.5 953.14h-1.7M354.5 952.41h-1.7M354.5 951.75h-2.6M354.5 947.42h-1.7M354.5 944.89h-1.7M354.5 943.1h-1.7M354.5 941.7h-1.7M354.5 940.56h-1.7M354.5 939.6h-1.7M354.5 938.77h-1.7M354.5 938.03h-1.7M354.5 937.38h-2.6M354.5 933.05h-1.7M354.5 930.52h-1.7M354.5 928.72h-1.7M354.5 927.33h-1.7M354.5 926.19h-1.7M354.5 925.23h-1.7M354.5 924.39h-1.7M354.5 923.66h-1.7M354.5 923h-2.6" stroke="#000" stroke-width="1.0" fill="none"/>
<text x="350.59" y="990.6" font-size="6.4" stroke="#000" stroke-width="0.15">10<tspan dx="0.77" dy="-3.33" font-size="5.76">0</tspan></text>
<text x="365.96" y="990.6" font-size="6.4" stroke="#000" stroke-width="0.15">10<tspan dx="0.77" dy="-3.33" font-size="5.76">1</tspan></text>
<text x="381.34" y="990.6" font-size="6.4" stroke="#000" stroke-width="0.15">10<tspan dx="0.77" dy="-3.33" font-size="5.76">2</tspan></text>
<text x="396.71" y="990.6" font-size="6.4" stroke="#000" stroke-width="0.15">10<tspan dx="0.77" dy="-3.33" font-size="5.76">3</tspan></text>
<text x="412.09" y="990.6" font-size="6.4" stroke="#000" stroke-width="0.15">10<tspan dx="0.77" dy="-3.33" font-size="5.76">4</tspan></text>
<text x="349.2" y="984.41" font-size="6.4" transform="rotate(-90 349.2 984.41)" stroke="#000" stroke-width="0.15">10<tspan dx="0.77" dy="-3.33" font-size="5.76">0</tspan></text>
<text x="349.2" y="970.04" font-size="6.4" transform="rotate(-90 349.2 970.04)" stroke="#000" stroke-width="0.15">10<tspan dx="0.77" dy="-3.33" font-size="5.76">1</tspan></text>
<text x="349.2" y="955.66" font-size="6.4" transform="rotate(-90 349.2 955.66)" stroke="#000" stroke-width="0.15">10<tspan dx="0.77" dy="-3.33" font-size="5.76">2</tspan></text>
<text x="349.2" y="941.29" font-size="6.4" transform="rotate(-90 349.2 941.29)" stroke="#000" stroke-width="0.15">10<tspan dx="0.77" dy="-3.33" font-size="5.76">3</tspan></text>
<text x="349.2" y="926.91" font-size="6.4" transform="rotate(-90 349.2 926.91)" stroke="#000" stroke-width="0.15">10<tspan dx="0.77" dy="-3.33" font-size="5.76">4</tspan></text>
<text x="385.25" y="996.5" font-size="6.3" textLength="28.5" lengthAdjust="spacingAndGlyphs" text-anchor="middle" stroke="#000" stroke-width="0.2">FL1-Height</text>
<text x="341.5" y="951.75" font-size="6.3" textLength="25" lengthAdjust="spacingAndGlyphs" transform="rotate(-90 341.5 951.75)" text-anchor="middle" stroke="#000" stroke-width="0.2">CD86-PE</text>
<path d="M492 934h1v1h-1zM491 935h1v1h-1zM494 935h1v1h-1zM496 935h2v1h-2zM489 936h3v1h-3zM493 936h6v1h-6zM500 936h1v1h-1zM488 937h1v1h-1zM490 937h5v1h-5zM496 937h6v1h-6zM485 938h4v1h-4zM490 938h2v1h-2zM493 938h7v1h-7zM501 938h1v1h-1zM477 939h3v1h-3zM481 939h1v1h-1zM484 939h19v1h-19zM476 940h1v1h-1zM480 940h3v1h-3zM484 940h19v1h-19zM455 941h1v1h-1zM462 941h1v1h-1zM469 941h1v1h-1zM471 941h2v1h-2zM476 941h1v1h-1zM480 941h1v1h-1zM482 941h2v1h-2zM485 941h8v1h-8zM494 941h9v1h-9zM456 942h3v1h-3zM460 942h2v1h-2zM463 942h1v1h-1zM465 942h1v1h-1zM467 942h1v1h-1zM471 942h1v1h-1zM474 942h2v1h-2zM477 942h1v1h-1zM479 942h2v1h-2zM483 942h4v1h-4zM488 942h13v1h-13zM454 943h2v1h-2zM457 943h1v1h-1zM460 943h2v1h-2zM464 943h4v1h-4zM470 943h6v1h-6zM477 943h2v1h-2zM481 943h21v1h-21zM455 944h2v1h-2zM458 944h1v1h-1zM461 944h1v1h-1zM464 944h1v1h-1zM469 944h1v1h-1zM471 944h3v1h-3zM479 944h1v1h-1zM482 944h20v1h-20zM455 945h2v1h-2zM459 945h1v1h-1zM463 945h2v1h-2zM469 945h2v1h-2zM472 945h1v1h-1zM474 945h4v1h-4zM479 945h1v1h-1zM481 945h20v1h-20zM456 946h3v1h-3zM460 946h1v1h-1zM462 946h2v1h-2zM466 946h1v1h-1zM470 946h4v1h-4zM475 946h2v1h-2zM478 946h2v1h-2zM481 946h9v1h-9zM491 946h10v1h-10zM457 947h2v1h-2zM462 947h1v1h-1zM466 947h3v1h-3zM471 947h1v1h-1zM473 947h1v1h-1zM476 947h1v1h-1zM480 947h21v1h-21zM456 948h1v1h-1zM458 948h3v1h-3zM462 948h2v1h-2zM465 948h2v1h-2zM469 948h1v1h-1zM472 948h5v1h-5zM480 948h21v1h-21zM454 949h7v1h-7zM462 949h2v1h-2zM465 949h1v1h-1zM467 949h5v1h-5zM473 949h1v1h-1zM475 949h2v1h-2zM479 949h22v1h-22zM456 950h3v1h-3zM464 950h1v1h-1zM466 950h4v1h-4zM474 950h3v1h-3zM478 950h23v1h-23zM457 951h2v1h-2zM461 951h1v1h-1zM463 951h1v1h-1zM465 951h3v1h-3zM470 951h1v1h-1zM473 951h1v1h-1zM475 951h3v1h-3zM480 951h14v1h-14zM495 951h5v1h-5zM456 952h7v1h-7zM464 952h1v1h-1zM467 952h1v1h-1zM469 952h1v1h-1zM472 952h3v1h-3zM476 952h3v1h-3zM482 952h13v1h-13zM496 952h3v1h-3zM456 953h1v1h-1zM458 953h1v1h-1zM461 953h2v1h-2zM466 953h1v1h-1zM468 953h2v1h-2zM474 953h3v1h-3zM479 953h1v1h-1zM481 953h11v1h-11zM493 953h5v1h-5zM499 953h1v1h-1zM457 954h1v1h-1zM461 954h1v1h-1zM463 954h2v1h-2zM466 954h2v1h-2zM469 954h2v1h-2zM475 954h1v1h-1zM477 954h1v1h-1zM480 954h8v1h-8zM489 954h9v1h-9zM458 955h4v1h-4zM463 955h2v1h-2zM466 955h6v1h-6zM478 955h1v1h-1zM481 955h17v1h-17zM456 956h3v1h-3zM460 956h3v1h-3zM464 956h2v1h-2zM468 956h4v1h-4zM474 956h3v1h-3zM480 956h10v1h-10zM491 956h3v1h-3zM495 956h1v1h-1zM456 957h1v1h-1zM459 957h1v1h-1zM462 957h1v1h-1zM464 957h1v1h-1zM466 957h6v1h-6zM474 957h3v1h-3zM478 957h1v1h-1zM480 957h16v1h-16zM456 958h2v1h-2zM460 958h1v1h-1zM462 958h2v1h-2zM466 958h2v1h-2zM470 958h2v1h-2zM473 958h1v1h-1zM475 958h3v1h-3zM480 958h14v1h-14zM455 959h3v1h-3zM461 959h2v1h-2zM465 959h2v1h-2zM472 959h5v1h-5zM479 959h14v1h-14zM457 960h3v1h-3zM462 960h2v1h-2zM466 960h2v1h-2zM470 960h4v1h-4zM477 960h1v1h-1zM479 960h1v1h-1zM483 960h8v1h-8zM456 961h1v1h-1zM458 961h2v1h-2zM461 961h3v1h-3zM466 961h1v1h-1zM469 961h1v1h-1zM471 961h7v1h-7zM481 961h5v1h-5zM487 961h3v1h-3zM454 962h5v1h-5zM460 962h2v1h-2zM464 962h5v1h-5zM471 962h5v1h-5zM480 962h1v1h-1zM482 962h1v1h-1zM485 962h5v1h-5zM454 963h2v1h-2zM458 963h2v1h-2zM463 963h2v1h-2zM466 963h2v1h-2zM469 963h1v1h-1zM471 963h2v1h-2zM475 963h3v1h-3zM479 963h2v1h-2zM484 963h4v1h-4zM489 963h1v1h-1zM456 964h1v1h-1zM461 964h1v1h-1zM463 964h3v1h-3zM468 964h3v1h-3zM473 964h1v1h-1zM476 964h4v1h-4zM481 964h1v1h-1zM483 964h1v1h-1zM485 964h1v1h-1zM487 964h1v1h-1zM459 965h1v1h-1zM462 965h2v1h-2zM465 965h3v1h-3zM472 965h1v1h-1zM475 965h1v1h-1zM477 965h1v1h-1zM480 965h1v1h-1zM486 965h1v1h-1zM455 966h9v1h-9zM467 966h3v1h-3zM474 966h6v1h-6zM481 966h1v1h-1zM484 966h1v1h-1zM486 966h1v1h-1zM454 967h1v1h-1zM456 967h6v1h-6zM467 967h1v1h-1zM469 967h1v1h-1zM473 967h4v1h-4zM479 967h1v1h-1zM481 967h2v1h-2zM484 967h3v1h-3zM456 968h1v1h-1zM458 968h1v1h-1zM460 968h2v1h-2zM463 968h1v1h-1zM466 968h2v1h-2zM469 968h2v1h-2zM472 968h3v1h-3zM476 968h8v1h-8zM486 968h1v1h-1zM455 969h1v1h-1zM459 969h1v1h-1zM461 969h1v1h-1zM465 969h1v1h-1zM469 969h2v1h-2zM473 969h3v1h-3zM480 969h3v1h-3zM484 969h3v1h-3zM455 970h2v1h-2zM460 970h5v1h-5zM467 970h1v1h-1zM469 970h2v1h-2zM472 970h2v1h-2zM476 970h2v1h-2zM479 970h6v1h-6zM455 971h1v1h-1zM457 971h3v1h-3zM463 971h6v1h-6zM470 971h1v1h-1zM473 971h2v1h-2zM476 971h1v1h-1zM480 971h2v1h-2zM484 971h1v1h-1zM455 972h1v1h-1zM457 972h2v1h-2zM460 972h1v1h-1zM463 972h1v1h-1zM465 972h2v1h-2zM468 972h1v1h-1zM470 972h7v1h-7zM481 972h1v1h-1zM483 972h1v1h-1zM454 973h2v1h-2zM459 973h1v1h-1zM462 973h1v1h-1zM465 973h5v1h-5zM471 973h1v1h-1zM473 973h1v1h-1zM475 973h1v1h-1zM482 973h1v1h-1zM454 974h1v1h-1zM456 974h1v1h-1zM458 974h1v1h-1zM460 974h2v1h-2zM463 974h6v1h-6zM470 974h3v1h-3zM476 974h1v1h-1zM478 974h1v1h-1zM480 974h2v1h-2zM483 974h1v1h-1zM455 975h1v1h-1zM457 975h2v1h-2zM460 975h1v1h-1zM462 975h1v1h-1zM465 975h1v1h-1zM468 975h2v1h-2zM471 975h2v1h-2zM474 975h1v1h-1zM478 975h2v1h-2zM456 976h1v1h-1zM460 976h2v1h-2zM463 976h10v1h-10zM474 976h3v1h-3zM480 976h2v1h-2zM455 977h4v1h-4zM460 977h3v1h-3zM465 977h4v1h-4zM470 977h2v1h-2zM474 977h2v1h-2zM477 977h1v1h-1zM480 977h3v1h-3zM455 978h1v1h-1zM457 978h3v1h-3zM461 978h2v1h-2zM464 978h1v1h-1zM466 978h2v1h-2zM469 978h1v1h-1zM471 978h1v1h-1zM473 978h3v1h-3zM481 978h1v1h-1zM456 979h1v1h-1zM458 979h1v1h-1zM463 979h1v1h-1zM466 979h1v1h-1z" fill="#000"/>
<rect x="452.5" y="922.7" width="60.5" height="57.8" fill="none" stroke="#000" stroke-width="1.05"/>
<line x1="473.4" y1="922.7" x2="473.4" y2="980.5" stroke="#000" stroke-width="1.05" />
<line x1="452.5" y1="961.8" x2="513" y2="961.8" stroke="#000" stroke-width="1.05" />
<path d="M452.5 980.5v2.6M457.05 980.5v1.7M459.72 980.5v1.7M461.61 980.5v1.7M463.07 980.5v1.7M464.27 980.5v1.7M465.28 980.5v1.7M466.16 980.5v1.7M466.93 980.5v1.7M467.62 980.5v2.6M472.18 980.5v1.7M474.84 980.5v1.7M476.73 980.5v1.7M478.2 980.5v1.7M479.39 980.5v1.7M480.41 980.5v1.7M481.28 980.5v1.7M482.06 980.5v1.7M482.75 980.5v2.6M487.3 980.5v1.7M489.97 980.5v1.7M491.86 980.5v1.7M493.32 980.5v1.7M494.52 980.5v1.7M495.53 980.5v1.7M496.41 980.5v1.7M497.18 980.5v1.7M497.88 980.5v2.6M502.43 980.5v1.7M505.09 980.5v1.7M506.98 980.5v1.7M508.45 980.5v1.7M509.64 980.5v1.7M510.66 980.5v1.7M511.53 980.5v1.7M512.31 980.5v1.7M513 980.5v2.6M452.5 980.5h-2.6M452.5 976.15h-1.7M452.5 973.61h-1.7M452.5 971.8h-1.7M452.5 970.4h-1.7M452.5 969.26h-1.7M452.5 968.29h-1.7M452.5 967.45h-1.7M452.5 966.71h-1.7M452.5 966.05h-2.6M452.5 961.7h-1.7M452.5 959.16h-1.7M452.5 957.35h-1.7M452.5 955.95h-1.7M452.5 954.81h-1.7M452.5 953.84h-1.7M452.5 953h-1.7M452.5 952.26h-1.7M452.5 951.6h-2.6M452.5 947.25h-1.7M452.5 944.71h-1.7M452.5 942.9h-1.7M452.5 941.5h-1.7M452.5 940.36h-1.7M452.5 939.39h-1.7M452.5 938.55h-1.7M452.5 937.81h-1.7M452.5 937.15h-2.6M452.5 932.8h-1.7M452.5 930.26h-1.7M452.5 928.45h-1.7M452.5 927.05h-1.7M452.5 925.91h-1.7M452.5 924.94h-1.7M452.5 924.1h-1.7M452.5 923.36h-1.7M452.5 922.7h-2.6" stroke="#000" stroke-width="1.0" fill="none"/>
<text x="448.59" y="990.6" font-size="6.4" stroke="#000" stroke-width="0.15">10<tspan dx="0.77" dy="-3.33" font-size="5.76">0</tspan></text>
<text x="463.71" y="990.6" font-size="6.4" stroke="#000" stroke-width="0.15">10<tspan dx="0.77" dy="-3.33" font-size="5.76">1</tspan></text>
<text x="478.84" y="990.6" font-size="6.4" stroke="#000" stroke-width="0.15">10<tspan dx="0.77" dy="-3.33" font-size="5.76">2</tspan></text>
<text x="493.96" y="990.6" font-size="6.4" stroke="#000" stroke-width="0.15">10<tspan dx="0.77" dy="-3.33" font-size="5.76">3</tspan></text>
<text x="509.09" y="990.6" font-size="6.4" stroke="#000" stroke-width="0.15">10<tspan dx="0.77" dy="-3.33" font-size="5.76">4</tspan></text>
<text x="447.2" y="984.41" font-size="6.4" transform="rotate(-90 447.2 984.41)" stroke="#000" stroke-width="0.15">10<tspan dx="0.77" dy="-3.33" font-size="5.76">0</tspan></text>
<text x="447.2" y="969.96" font-size="6.4" transform="rotate(-90 447.2 969.96)" stroke="#000" stroke-width="0.15">10<tspan dx="0.77" dy="-3.33" font-size="5.76">1</tspan></text>
<text x="447.2" y="955.51" font-size="6.4" transform="rotate(-90 447.2 955.51)" stroke="#000" stroke-width="0.15">10<tspan dx="0.77" dy="-3.33" font-size="5.76">2</tspan></text>
<text x="447.2" y="941.06" font-size="6.4" transform="rotate(-90 447.2 941.06)" stroke="#000" stroke-width="0.15">10<tspan dx="0.77" dy="-3.33" font-size="5.76">3</tspan></text>
<text x="447.2" y="926.61" font-size="6.4" transform="rotate(-90 447.2 926.61)" stroke="#000" stroke-width="0.15">10<tspan dx="0.77" dy="-3.33" font-size="5.76">4</tspan></text>
<text x="482.75" y="996.5" font-size="6.3" textLength="29.5" lengthAdjust="spacingAndGlyphs" text-anchor="middle" stroke="#000" stroke-width="0.2">FL1-Height</text>
<text x="439.5" y="951.6" font-size="6.3" textLength="27" lengthAdjust="spacingAndGlyphs" transform="rotate(-90 439.5 951.6)" text-anchor="middle" stroke="#000" stroke-width="0.2">FL2-CD80</text>
<line x1="52.5" y1="1016" x2="513" y2="1016" stroke="#222" stroke-width="1.4" />
<path d="M512.5 1012.3L519.6 1016L512.5 1019.7z" fill="#000"/>
<text x="432" y="1032.5" font-size="8.4" textLength="71.75" lengthAdjust="spacingAndGlyphs" stroke="#000" stroke-width="0.2">EGFP fluorescence</text>
</svg></body></html>
